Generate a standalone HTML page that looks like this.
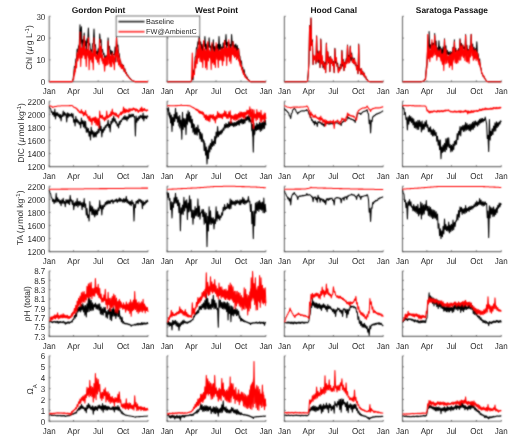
<!DOCTYPE html><html><head><meta charset="utf-8"><style>html,body{margin:0;padding:0;background:#fff;width:520px;height:440px;overflow:hidden}svg{display:block}text{font-family:"Liberation Sans",sans-serif;text-rendering:geometricPrecision}</style></head><body>
<svg width="520" height="440" viewBox="0 0 520 440">
<defs><filter id="bl" x="0" y="0" width="520" height="440" filterUnits="userSpaceOnUse"><feConvolveMatrix order="3" kernelMatrix="1 2 1 2 8 2 1 2 1" divisor="20" edgeMode="duplicate"/></filter></defs>
<rect width="520" height="440" fill="#fff"/><g filter="url(#bl)">
<path d="M49.20 16.30V81.70H148.00" fill="none" stroke="#707070" stroke-width="1.1"/>
<path d="M49.20 81.70h1.3M49.20 59.90h1.3M49.20 38.10h1.3M49.20 16.30h1.3M49.20 81.70v-1.3M73.56 81.70v-1.3M98.19 81.70v-1.3M123.10 81.70v-1.3M148.00 81.70v-1.3" stroke="#555" stroke-width="0.9"/>
<path d="M167.10 16.30V81.70H265.90" fill="none" stroke="#707070" stroke-width="1.1"/>
<path d="M167.10 81.70h1.3M167.10 59.90h1.3M167.10 38.10h1.3M167.10 16.30h1.3M167.10 81.70v-1.3M191.46 81.70v-1.3M216.09 81.70v-1.3M241.00 81.70v-1.3M265.90 81.70v-1.3" stroke="#555" stroke-width="0.9"/>
<path d="M284.40 16.30V81.70H383.20" fill="none" stroke="#707070" stroke-width="1.1"/>
<path d="M284.40 81.70h1.3M284.40 59.90h1.3M284.40 38.10h1.3M284.40 16.30h1.3M284.40 81.70v-1.3M308.76 81.70v-1.3M333.39 81.70v-1.3M358.30 81.70v-1.3M383.20 81.70v-1.3" stroke="#555" stroke-width="0.9"/>
<path d="M402.50 16.30V81.70H501.30" fill="none" stroke="#707070" stroke-width="1.1"/>
<path d="M402.50 81.70h1.3M402.50 59.90h1.3M402.50 38.10h1.3M402.50 16.30h1.3M402.50 81.70v-1.3M426.86 81.70v-1.3M451.49 81.70v-1.3M476.40 81.70v-1.3M501.30 81.70v-1.3" stroke="#555" stroke-width="0.9"/>
<path d="M49.20 101.20V166.60H148.00" fill="none" stroke="#707070" stroke-width="1.1"/>
<path d="M49.20 166.60h1.3M49.20 153.52h1.3M49.20 140.44h1.3M49.20 127.36h1.3M49.20 114.28h1.3M49.20 101.20h1.3M49.20 166.60v-1.3M73.56 166.60v-1.3M98.19 166.60v-1.3M123.10 166.60v-1.3M148.00 166.60v-1.3" stroke="#555" stroke-width="0.9"/>
<path d="M167.10 101.20V166.60H265.90" fill="none" stroke="#707070" stroke-width="1.1"/>
<path d="M167.10 166.60h1.3M167.10 153.52h1.3M167.10 140.44h1.3M167.10 127.36h1.3M167.10 114.28h1.3M167.10 101.20h1.3M167.10 166.60v-1.3M191.46 166.60v-1.3M216.09 166.60v-1.3M241.00 166.60v-1.3M265.90 166.60v-1.3" stroke="#555" stroke-width="0.9"/>
<path d="M284.40 101.20V166.60H383.20" fill="none" stroke="#707070" stroke-width="1.1"/>
<path d="M284.40 166.60h1.3M284.40 153.52h1.3M284.40 140.44h1.3M284.40 127.36h1.3M284.40 114.28h1.3M284.40 101.20h1.3M284.40 166.60v-1.3M308.76 166.60v-1.3M333.39 166.60v-1.3M358.30 166.60v-1.3M383.20 166.60v-1.3" stroke="#555" stroke-width="0.9"/>
<path d="M402.50 101.20V166.60H501.30" fill="none" stroke="#707070" stroke-width="1.1"/>
<path d="M402.50 166.60h1.3M402.50 153.52h1.3M402.50 140.44h1.3M402.50 127.36h1.3M402.50 114.28h1.3M402.50 101.20h1.3M402.50 166.60v-1.3M426.86 166.60v-1.3M451.49 166.60v-1.3M476.40 166.60v-1.3M501.30 166.60v-1.3" stroke="#555" stroke-width="0.9"/>
<path d="M49.20 186.20V251.60H148.00" fill="none" stroke="#707070" stroke-width="1.1"/>
<path d="M49.20 251.60h1.3M49.20 238.52h1.3M49.20 225.44h1.3M49.20 212.36h1.3M49.20 199.28h1.3M49.20 186.20h1.3M49.20 251.60v-1.3M73.56 251.60v-1.3M98.19 251.60v-1.3M123.10 251.60v-1.3M148.00 251.60v-1.3" stroke="#555" stroke-width="0.9"/>
<path d="M167.10 186.20V251.60H265.90" fill="none" stroke="#707070" stroke-width="1.1"/>
<path d="M167.10 251.60h1.3M167.10 238.52h1.3M167.10 225.44h1.3M167.10 212.36h1.3M167.10 199.28h1.3M167.10 186.20h1.3M167.10 251.60v-1.3M191.46 251.60v-1.3M216.09 251.60v-1.3M241.00 251.60v-1.3M265.90 251.60v-1.3" stroke="#555" stroke-width="0.9"/>
<path d="M284.40 186.20V251.60H383.20" fill="none" stroke="#707070" stroke-width="1.1"/>
<path d="M284.40 251.60h1.3M284.40 238.52h1.3M284.40 225.44h1.3M284.40 212.36h1.3M284.40 199.28h1.3M284.40 186.20h1.3M284.40 251.60v-1.3M308.76 251.60v-1.3M333.39 251.60v-1.3M358.30 251.60v-1.3M383.20 251.60v-1.3" stroke="#555" stroke-width="0.9"/>
<path d="M402.50 186.20V251.60H501.30" fill="none" stroke="#707070" stroke-width="1.1"/>
<path d="M402.50 251.60h1.3M402.50 238.52h1.3M402.50 225.44h1.3M402.50 212.36h1.3M402.50 199.28h1.3M402.50 186.20h1.3M402.50 251.60v-1.3M426.86 251.60v-1.3M451.49 251.60v-1.3M476.40 251.60v-1.3M501.30 251.60v-1.3" stroke="#555" stroke-width="0.9"/>
<path d="M49.20 271.00V336.40H148.00" fill="none" stroke="#707070" stroke-width="1.1"/>
<path d="M49.20 336.40h1.3M49.20 327.06h1.3M49.20 317.71h1.3M49.20 308.37h1.3M49.20 299.03h1.3M49.20 289.69h1.3M49.20 280.34h1.3M49.20 271.00h1.3M49.20 336.40v-1.3M73.56 336.40v-1.3M98.19 336.40v-1.3M123.10 336.40v-1.3M148.00 336.40v-1.3" stroke="#555" stroke-width="0.9"/>
<path d="M167.10 271.00V336.40H265.90" fill="none" stroke="#707070" stroke-width="1.1"/>
<path d="M167.10 336.40h1.3M167.10 327.06h1.3M167.10 317.71h1.3M167.10 308.37h1.3M167.10 299.03h1.3M167.10 289.69h1.3M167.10 280.34h1.3M167.10 271.00h1.3M167.10 336.40v-1.3M191.46 336.40v-1.3M216.09 336.40v-1.3M241.00 336.40v-1.3M265.90 336.40v-1.3" stroke="#555" stroke-width="0.9"/>
<path d="M284.40 271.00V336.40H383.20" fill="none" stroke="#707070" stroke-width="1.1"/>
<path d="M284.40 336.40h1.3M284.40 327.06h1.3M284.40 317.71h1.3M284.40 308.37h1.3M284.40 299.03h1.3M284.40 289.69h1.3M284.40 280.34h1.3M284.40 271.00h1.3M284.40 336.40v-1.3M308.76 336.40v-1.3M333.39 336.40v-1.3M358.30 336.40v-1.3M383.20 336.40v-1.3" stroke="#555" stroke-width="0.9"/>
<path d="M402.50 271.00V336.40H501.30" fill="none" stroke="#707070" stroke-width="1.1"/>
<path d="M402.50 336.40h1.3M402.50 327.06h1.3M402.50 317.71h1.3M402.50 308.37h1.3M402.50 299.03h1.3M402.50 289.69h1.3M402.50 280.34h1.3M402.50 271.00h1.3M402.50 336.40v-1.3M426.86 336.40v-1.3M451.49 336.40v-1.3M476.40 336.40v-1.3M501.30 336.40v-1.3" stroke="#555" stroke-width="0.9"/>
<path d="M49.20 355.90V421.30H148.00" fill="none" stroke="#707070" stroke-width="1.1"/>
<path d="M49.20 421.30h1.3M49.20 410.40h1.3M49.20 399.50h1.3M49.20 388.60h1.3M49.20 377.70h1.3M49.20 366.80h1.3M49.20 355.90h1.3M49.20 421.30v-1.3M73.56 421.30v-1.3M98.19 421.30v-1.3M123.10 421.30v-1.3M148.00 421.30v-1.3" stroke="#555" stroke-width="0.9"/>
<path d="M167.10 355.90V421.30H265.90" fill="none" stroke="#707070" stroke-width="1.1"/>
<path d="M167.10 421.30h1.3M167.10 410.40h1.3M167.10 399.50h1.3M167.10 388.60h1.3M167.10 377.70h1.3M167.10 366.80h1.3M167.10 355.90h1.3M167.10 421.30v-1.3M191.46 421.30v-1.3M216.09 421.30v-1.3M241.00 421.30v-1.3M265.90 421.30v-1.3" stroke="#555" stroke-width="0.9"/>
<path d="M284.40 355.90V421.30H383.20" fill="none" stroke="#707070" stroke-width="1.1"/>
<path d="M284.40 421.30h1.3M284.40 410.40h1.3M284.40 399.50h1.3M284.40 388.60h1.3M284.40 377.70h1.3M284.40 366.80h1.3M284.40 355.90h1.3M284.40 421.30v-1.3M308.76 421.30v-1.3M333.39 421.30v-1.3M358.30 421.30v-1.3M383.20 421.30v-1.3" stroke="#555" stroke-width="0.9"/>
<path d="M402.50 355.90V421.30H501.30" fill="none" stroke="#707070" stroke-width="1.1"/>
<path d="M402.50 421.30h1.3M402.50 410.40h1.3M402.50 399.50h1.3M402.50 388.60h1.3M402.50 377.70h1.3M402.50 366.80h1.3M402.50 355.90h1.3M402.50 421.30v-1.3M426.86 421.30v-1.3M451.49 421.30v-1.3M476.40 421.30v-1.3M501.30 421.30v-1.3" stroke="#555" stroke-width="0.9"/>
<path d="M49.2 81.6L49.9 81.6L50.6 81.6L51.3 81.6L52.0 81.6L52.7 81.6L53.4 81.6L54.1 81.6L54.8 81.6L55.5 81.6L56.2 81.6L56.9 81.6L57.6 81.6L58.3 81.6L59.0 81.6L59.7 81.6L60.4 81.6L61.1 81.6L61.8 81.6L62.5 81.6L63.2 81.6L63.9 81.6L64.6 81.6L65.3 81.6L66.0 81.6L66.7 81.6L67.4 81.6L68.1 81.6L68.8 81.6L69.5 81.6L70.2 81.6L70.9 81.6L71.6 81.6L72.3 81.6L73.0 79.5L73.7 74.4L74.4 66.6L75.1 66.7L75.8 59.0L76.5 58.8L77.2 49.1L77.9 52.0L78.6 46.1L79.3 44.1L80.0 24.8L80.7 43.4L81.4 26.7L82.1 49.0L82.8 39.7L83.5 43.5L84.2 33.1L84.9 45.7L85.6 40.9L86.3 52.2L87.0 38.9L87.7 42.6L88.4 28.0L89.1 45.0L89.8 43.6L90.5 50.8L91.2 49.7L91.9 57.0L92.6 43.7L93.3 43.3L94.0 29.1L94.7 45.9L95.4 44.6L96.1 53.6L96.8 51.3L97.5 58.5L98.2 48.7L99.0 53.1L99.7 33.9L100.4 42.5L101.1 39.7L101.8 52.1L102.5 49.4L103.2 54.5L103.9 53.2L104.6 58.9L105.3 55.9L106.0 61.7L106.7 55.6L107.4 54.8L108.1 37.9L108.8 49.1L109.5 46.2L110.2 54.4L110.9 50.2L111.6 55.3L112.3 51.2L113.0 55.2L113.7 54.6L114.4 55.0L115.1 46.9L115.8 61.7L116.5 36.3L117.2 46.9L117.9 45.1L118.6 53.0L119.3 53.9L120.0 62.3L120.7 61.0L121.4 67.4L122.1 64.3L122.8 68.3L123.5 65.2L124.2 71.6L124.9 68.8L125.6 73.1L126.3 72.3L127.0 75.0L127.7 75.1L128.4 76.5L129.1 77.2L129.8 78.2L130.5 78.9L131.2 79.6L131.9 80.2L132.6 80.6L133.3 81.0L134.0 81.3L134.7 81.6L135.4 81.6L136.1 81.6L136.8 81.6L137.5 81.6L138.2 81.6L138.9 81.6L139.6 81.6L140.3 81.6L141.0 81.6L141.7 81.6L142.4 81.6L143.1 81.6L143.8 81.6L144.5 81.6L145.2 81.6L145.9 81.6L146.6 81.6L147.3 81.6L148.0 81.6" fill="none" stroke="#000" stroke-width="1.05" stroke-linejoin="round"/>
<path d="M49.2 81.6 L49.8 81.6 L50.4 81.6 L51.0 81.6 L51.6 81.6 L52.2 81.6 L52.8 81.6 L53.4 81.6 L54.0 81.6 L54.6 81.6 L55.2 81.6 L55.8 81.6 L56.4 81.6 L57.0 81.6 L57.6 81.6 L58.2 81.6 L58.8 81.6 L59.4 81.6 L60.0 81.6 L60.6 81.6 L61.2 81.6 L61.9 81.6 L62.5 81.6 L63.1 81.6 L63.7 81.6 L64.3 81.6 L64.9 81.6 L65.5 81.6 L66.1 81.6 L66.7 81.6 L67.3 81.6 L67.9 81.6 L68.5 81.6 L69.1 81.6 L69.7 81.6 L70.3 81.6 L70.9 81.6 L71.5 81.6 L72.1 81.6 L72.7 81.6 L73.3 77.6 L73.9 72.8 L74.5 70.0 L75.1 67.9 L75.7 65.8 L76.3 62.5 L76.9 55.1 L77.5 54.9 L78.1 51.1 L78.7 47.9 L79.3 43.8 L79.9 39.4 L80.5 47.9 L81.1 48.6 L81.7 49.5 L82.3 46.5 L82.9 46.2 L83.5 42.0 L84.1 44.5 L84.7 45.7 L85.3 49.4 L85.9 47.8 L86.6 50.7 L87.2 49.9 L87.8 49.7 L88.4 46.3 L89.0 51.4 L89.6 49.7 L90.2 50.5 L90.8 50.1 L91.4 51.5 L92.0 53.0 L92.6 53.8 L93.2 50.4 L93.8 50.5 L94.4 47.2 L95.0 50.3 L95.6 52.0 L96.2 53.9 L96.8 55.2 L97.4 54.7 L98.0 56.1 L98.6 53.0 L99.2 50.6 L99.8 52.0 L100.4 48.4 L101.0 49.4 L101.6 51.1 L102.2 54.9 L102.8 56.7 L103.4 59.0 L104.0 57.8 L104.6 57.2 L105.2 57.6 L105.8 57.1 L106.4 57.0 L107.0 55.4 L107.6 51.7 L108.2 49.1 L108.8 47.0 L109.4 53.8 L110.0 53.4 L110.6 56.1 L111.3 54.4 L111.9 55.8 L112.5 58.7 L113.1 58.9 L113.7 56.3 L114.3 59.7 L114.9 58.2 L115.5 53.2 L116.1 50.4 L116.7 48.3 L117.3 45.8 L117.9 49.9 L118.5 54.2 L119.1 55.6 L119.7 57.7 L120.3 58.6 L120.9 61.2 L121.5 63.7 L122.1 63.8 L122.7 65.8 L123.3 66.4 L123.9 68.5 L124.5 69.8 L125.1 71.3 L125.7 72.4 L126.3 73.9 L126.9 74.8 L127.5 75.6 L128.1 76.5 L128.7 77.2 L129.3 78.0 L129.9 78.7 L130.5 79.2 L131.1 79.6 L131.7 80.0 L132.3 80.4 L132.9 80.8 L133.5 81.1 L134.1 81.3 L134.7 81.6 L135.3 81.6 L136.0 81.6 L136.6 81.6 L137.2 81.6 L137.8 81.6 L138.4 81.6 L139.0 81.6 L139.6 81.6 L140.2 81.6 L140.8 81.6 L141.4 81.6 L142.0 81.6 L142.6 81.6 L143.2 81.6 L143.8 81.6 L144.4 81.6 L145.0 81.6 L145.6 81.6 L146.2 81.6 L146.8 81.6 L147.4 81.6 L148.0 81.6 L148.0 81.6 L147.4 81.6 L146.8 81.6 L146.2 81.6 L145.6 81.6 L145.0 81.6 L144.4 81.6 L143.8 81.6 L143.2 81.6 L142.6 81.6 L142.0 81.6 L141.4 81.6 L140.8 81.6 L140.2 81.6 L139.6 81.6 L139.0 81.6 L138.4 81.6 L137.8 81.6 L137.2 81.6 L136.6 81.6 L136.0 81.6 L135.3 81.6 L134.7 81.6 L134.1 81.3 L133.5 81.1 L132.9 80.8 L132.3 80.4 L131.7 80.0 L131.1 79.6 L130.5 79.2 L129.9 78.7 L129.3 78.0 L128.7 77.4 L128.1 76.6 L127.5 76.0 L126.9 75.2 L126.3 74.3 L125.7 73.6 L125.1 73.1 L124.5 71.9 L123.9 70.4 L123.3 70.1 L122.7 68.1 L122.1 67.9 L121.5 66.9 L120.9 64.5 L120.3 63.4 L119.7 62.6 L119.1 60.2 L118.5 58.6 L117.9 57.0 L117.3 58.1 L116.7 56.1 L116.1 55.1 L115.5 58.4 L114.9 64.5 L114.3 64.4 L113.7 63.4 L113.1 65.3 L112.5 61.8 L111.9 62.9 L111.3 63.4 L110.6 63.3 L110.0 60.8 L109.4 61.7 L108.8 59.5 L108.2 59.1 L107.6 59.4 L107.0 61.0 L106.4 60.8 L105.8 63.9 L105.2 65.8 L104.6 67.2 L104.0 66.3 L103.4 62.1 L102.8 64.5 L102.2 61.0 L101.6 61.7 L101.0 58.2 L100.4 57.6 L99.8 59.3 L99.2 58.5 L98.6 61.2 L98.0 62.5 L97.4 63.1 L96.8 59.7 L96.2 59.2 L95.6 59.3 L95.0 55.6 L94.4 53.7 L93.8 56.2 L93.2 57.9 L92.6 63.9 L92.0 61.2 L91.4 56.1 L90.8 56.0 L90.2 61.4 L89.6 61.3 L89.0 58.6 L88.4 58.2 L87.8 57.8 L87.2 54.7 L86.6 58.7 L85.9 57.2 L85.3 57.2 L84.7 57.2 L84.1 54.9 L83.5 53.7 L82.9 57.5 L82.3 54.4 L81.7 55.7 L81.1 57.2 L80.5 59.1 L79.9 54.2 L79.3 54.3 L78.7 54.8 L78.1 59.8 L77.5 58.7 L76.9 64.1 L76.3 65.5 L75.7 71.5 L75.1 74.6 L74.5 75.7 L73.9 77.6 L73.3 79.1 L72.7 81.6 L72.1 81.6 L71.5 81.6 L70.9 81.6 L70.3 81.6 L69.7 81.6 L69.1 81.6 L68.5 81.6 L67.9 81.6 L67.3 81.6 L66.7 81.6 L66.1 81.6 L65.5 81.6 L64.9 81.6 L64.3 81.6 L63.7 81.6 L63.1 81.6 L62.5 81.6 L61.9 81.6 L61.2 81.6 L60.6 81.6 L60.0 81.6 L59.4 81.6 L58.8 81.6 L58.2 81.6 L57.6 81.6 L57.0 81.6 L56.4 81.6 L55.8 81.6 L55.2 81.6 L54.6 81.6 L54.0 81.6 L53.4 81.6 L52.8 81.6 L52.2 81.6 L51.6 81.6 L51.0 81.6 L50.4 81.6 L49.8 81.6 L49.2 81.6Z" fill="#ff0000"/>
<path d="M49.2 81.6L49.9 81.6L50.6 81.6L51.3 81.6L52.0 81.6L52.7 81.6L53.4 81.6L54.1 81.6L54.8 81.6L55.5 81.6L56.2 81.6L56.9 81.6L57.6 81.6L58.3 81.6L59.0 81.6L59.7 81.6L60.4 81.6L61.1 81.6L61.8 81.6L62.5 81.6L63.2 81.6L63.9 81.6L64.6 81.6L65.3 81.6L66.0 81.6L66.7 81.6L67.4 81.6L68.1 81.6L68.8 81.6L69.5 81.6L70.2 81.6L70.9 81.6L71.6 81.6L72.3 81.6L73.0 79.2L73.7 79.1L74.4 69.5L75.1 71.5L75.8 62.9L76.5 67.9L77.2 52.8L77.9 60.9L78.6 51.5L79.3 58.2L80.0 32.3L80.7 66.5L81.4 47.9L82.1 57.9L82.8 48.8L83.5 55.1L84.2 36.3L84.9 58.7L85.6 51.1L86.3 66.5L87.0 49.4L87.7 55.1L88.4 37.9L89.1 69.7L89.8 51.3L90.5 59.4L91.2 51.9L91.9 62.1L92.6 53.2L93.3 69.7L94.0 37.9L94.7 56.2L95.4 49.4L96.1 59.3L96.8 55.4L97.5 62.0L98.2 52.7L99.0 64.5L99.7 39.5L100.4 56.3L101.1 46.3L101.8 58.6L102.5 54.9L103.2 63.5L103.9 60.2L104.6 71.3L105.3 60.8L106.0 65.7L106.7 60.5L107.4 65.0L108.1 41.0L108.8 64.0L109.5 54.6L110.2 66.8L110.9 57.2L111.6 66.7L112.3 53.1L113.0 60.4L113.7 55.8L114.4 69.7L115.1 53.0L115.8 57.1L116.5 37.9L117.2 61.9L117.9 51.1L118.6 64.9L119.3 60.8L120.0 66.7L120.7 64.3L121.4 68.6L122.1 64.5L122.8 68.9L123.5 66.2L124.2 71.1L124.9 69.7L125.6 73.2L126.3 73.6L127.0 75.4L127.7 75.8L128.4 76.9L129.1 77.7L129.8 78.5L130.5 79.1L131.2 79.6L131.9 80.1L132.6 80.5L133.3 81.0L134.0 81.3L134.7 81.6L135.4 81.6L136.1 81.6L136.8 81.6L137.5 81.6L138.2 81.6L138.9 81.6L139.6 81.6L140.3 81.6L141.0 81.6L141.7 81.6L142.4 81.6L143.1 81.6L143.8 81.6L144.5 81.6L145.2 81.6L145.9 81.6L146.6 81.6L147.3 81.6L148.0 81.6" fill="none" stroke="#ff0000" stroke-width="1.05" stroke-linejoin="round"/>
<path d="M167.1 81.7L167.8 81.7L168.5 81.7L169.2 81.7L169.9 81.7L170.6 81.7L171.3 81.7L172.0 81.7L172.7 81.7L173.4 81.7L174.1 81.7L174.8 81.7L175.5 81.7L176.2 81.7L176.9 81.7L177.6 81.7L178.3 81.7L179.0 81.7L179.7 81.7L180.4 81.7L181.1 81.7L181.8 81.7L182.5 81.7L183.2 81.7L183.9 81.7L184.6 81.7L185.3 81.7L186.0 81.7L186.7 81.7L187.4 81.7L188.1 81.7L188.8 81.7L189.5 81.7L190.2 81.7L190.9 81.7L191.6 80.9L192.3 75.7L193.0 80.0L193.7 70.2L194.4 69.6L195.1 57.1L195.8 56.2L196.5 47.7L197.2 48.5L197.9 41.8L198.6 44.3L199.3 34.6L200.0 44.9L200.7 41.9L201.4 49.4L202.1 44.3L202.8 53.1L203.5 44.9L204.2 46.6L204.9 36.6L205.6 49.2L206.3 44.0L207.0 53.1L207.7 45.7L208.4 47.6L209.1 37.7L209.8 47.5L210.5 46.0L211.2 53.1L211.9 44.5L212.6 50.6L213.3 39.7L214.0 52.5L214.7 46.6L215.4 55.2L216.1 45.8L216.9 50.1L217.6 44.2L218.3 53.1L219.0 36.6L219.7 49.9L220.4 44.6L221.1 50.3L221.8 47.0L222.5 50.6L223.2 42.8L223.9 47.9L224.6 40.3L225.3 44.8L226.0 34.6L226.7 51.0L227.4 42.0L228.1 45.6L228.8 42.1L229.5 46.9L230.2 44.6L230.9 51.0L231.6 34.6L232.3 46.2L233.0 41.4L233.7 48.7L234.4 44.9L235.1 48.8L235.8 44.1L236.5 51.8L237.2 45.5L237.9 50.8L238.6 48.6L239.3 55.2L240.0 56.5L240.7 63.2L241.4 60.9L242.1 68.6L242.8 67.5L243.5 73.7L244.2 69.7L244.9 75.4L245.6 74.9L246.3 77.7L247.0 77.0L247.7 79.1L248.4 79.6L249.1 80.4L249.8 81.1L250.5 81.7L251.2 81.7L251.9 81.7L252.6 81.7L253.3 81.7L254.0 81.7L254.7 81.7L255.4 81.7L256.1 81.7L256.8 81.7L257.5 81.7L258.2 81.7L258.9 81.7L259.6 81.7L260.3 81.7L261.0 81.7L261.7 81.7L262.4 81.7L263.1 81.7L263.8 81.7L264.5 81.7L265.2 81.7L265.9 81.7" fill="none" stroke="#000" stroke-width="1.05" stroke-linejoin="round"/>
<path d="M167.1 81.7 L167.7 81.7 L168.3 81.7 L168.9 81.7 L169.5 81.7 L170.1 81.7 L170.7 81.7 L171.3 81.7 L171.9 81.7 L172.5 81.7 L173.1 81.7 L173.7 81.7 L174.3 81.7 L174.9 81.7 L175.5 81.7 L176.1 81.7 L176.7 81.7 L177.3 81.7 L177.9 81.7 L178.5 81.7 L179.1 81.7 L179.8 81.7 L180.4 81.7 L181.0 81.7 L181.6 81.7 L182.2 81.7 L182.8 81.7 L183.4 81.7 L184.0 81.7 L184.6 81.7 L185.2 81.7 L185.8 81.7 L186.4 81.7 L187.0 81.7 L187.6 81.7 L188.2 81.7 L188.8 81.7 L189.4 81.7 L190.0 81.7 L190.6 81.7 L191.2 81.7 L191.8 78.9 L192.4 60.9 L193.0 74.1 L193.6 72.4 L194.2 67.9 L194.8 63.2 L195.4 58.6 L196.0 55.8 L196.6 51.1 L197.2 49.1 L197.8 49.0 L198.4 48.0 L199.0 45.2 L199.6 45.1 L200.2 43.3 L200.8 46.3 L201.4 48.1 L202.0 50.3 L202.6 50.5 L203.2 50.7 L203.8 45.6 L204.5 49.7 L205.1 47.3 L205.7 50.8 L206.3 48.9 L206.9 50.8 L207.5 47.2 L208.1 46.7 L208.7 47.5 L209.3 51.1 L209.9 48.9 L210.5 51.6 L211.1 51.1 L211.7 50.9 L212.3 47.5 L212.9 49.7 L213.5 50.4 L214.1 51.9 L214.7 50.8 L215.3 50.6 L215.9 49.3 L216.5 48.2 L217.1 49.1 L217.7 47.7 L218.3 50.3 L218.9 51.2 L219.5 49.4 L220.1 51.2 L220.7 49.5 L221.3 47.0 L221.9 49.6 L222.5 48.0 L223.1 48.2 L223.7 49.0 L224.3 47.5 L224.9 45.8 L225.5 46.6 L226.1 48.0 L226.7 47.4 L227.3 47.5 L227.9 48.2 L228.5 47.2 L229.2 45.8 L229.8 46.6 L230.4 48.1 L231.0 47.5 L231.6 47.0 L232.2 47.9 L232.8 45.3 L233.4 48.9 L234.0 46.7 L234.6 47.4 L235.2 51.3 L235.8 50.8 L236.4 52.1 L237.0 51.6 L237.6 52.6 L238.2 53.5 L238.8 54.6 L239.4 58.3 L240.0 60.5 L240.6 64.1 L241.2 65.9 L241.8 68.2 L242.4 69.8 L243.0 71.0 L243.6 72.4 L244.2 74.0 L244.8 74.8 L245.4 75.9 L246.0 77.3 L246.6 78.2 L247.2 78.8 L247.8 79.6 L248.4 80.3 L249.0 80.7 L249.6 81.1 L250.2 81.6 L250.8 81.7 L251.4 81.7 L252.0 81.7 L252.6 81.7 L253.2 81.7 L253.9 81.7 L254.5 81.7 L255.1 81.7 L255.7 81.7 L256.3 81.7 L256.9 81.7 L257.5 81.7 L258.1 81.7 L258.7 81.7 L259.3 81.7 L259.9 81.7 L260.5 81.7 L261.1 81.7 L261.7 81.7 L262.3 81.7 L262.9 81.7 L263.5 81.7 L264.1 81.7 L264.7 81.7 L265.3 81.7 L265.9 81.7 L265.9 81.7 L265.3 81.7 L264.7 81.7 L264.1 81.7 L263.5 81.7 L262.9 81.7 L262.3 81.7 L261.7 81.7 L261.1 81.7 L260.5 81.7 L259.9 81.7 L259.3 81.7 L258.7 81.7 L258.1 81.7 L257.5 81.7 L256.9 81.7 L256.3 81.7 L255.7 81.7 L255.1 81.7 L254.5 81.7 L253.9 81.7 L253.2 81.7 L252.6 81.7 L252.0 81.7 L251.4 81.7 L250.8 81.7 L250.2 81.6 L249.6 81.1 L249.0 80.7 L248.4 80.3 L247.8 79.8 L247.2 79.4 L246.6 78.8 L246.0 78.1 L245.4 77.8 L244.8 76.5 L244.2 75.2 L243.6 74.6 L243.0 73.4 L242.4 72.3 L241.8 70.1 L241.2 69.2 L240.6 66.6 L240.0 66.8 L239.4 64.8 L238.8 61.6 L238.2 61.3 L237.6 58.8 L237.0 57.7 L236.4 57.6 L235.8 56.7 L235.2 57.2 L234.6 58.4 L234.0 57.3 L233.4 55.5 L232.8 54.4 L232.2 54.6 L231.6 56.1 L231.0 57.8 L230.4 55.0 L229.8 53.4 L229.2 56.1 L228.5 55.7 L227.9 57.4 L227.3 57.1 L226.7 58.7 L226.1 56.0 L225.5 56.4 L224.9 53.6 L224.3 55.0 L223.7 59.0 L223.1 57.8 L222.5 55.9 L221.9 55.9 L221.3 57.2 L220.7 56.8 L220.1 60.1 L219.5 59.4 L218.9 58.2 L218.3 59.8 L217.7 57.4 L217.1 56.3 L216.5 57.0 L215.9 59.9 L215.3 61.5 L214.7 62.3 L214.1 61.8 L213.5 58.0 L212.9 57.9 L212.3 57.6 L211.7 57.8 L211.1 58.5 L210.5 60.1 L209.9 58.6 L209.3 57.7 L208.7 59.5 L208.1 55.8 L207.5 60.6 L206.9 61.7 L206.3 59.3 L205.7 63.6 L205.1 57.8 L204.5 56.8 L203.8 56.4 L203.2 57.1 L202.6 60.5 L202.0 59.7 L201.4 59.1 L200.8 59.0 L200.2 55.0 L199.6 57.9 L199.0 58.1 L198.4 58.6 L197.8 59.1 L197.2 62.1 L196.6 63.1 L196.0 62.6 L195.4 66.6 L194.8 68.7 L194.2 72.8 L193.6 75.3 L193.0 77.2 L192.4 75.1 L191.8 80.1 L191.2 81.7 L190.6 81.7 L190.0 81.7 L189.4 81.7 L188.8 81.7 L188.2 81.7 L187.6 81.7 L187.0 81.7 L186.4 81.7 L185.8 81.7 L185.2 81.7 L184.6 81.7 L184.0 81.7 L183.4 81.7 L182.8 81.7 L182.2 81.7 L181.6 81.7 L181.0 81.7 L180.4 81.7 L179.8 81.7 L179.1 81.7 L178.5 81.7 L177.9 81.7 L177.3 81.7 L176.7 81.7 L176.1 81.7 L175.5 81.7 L174.9 81.7 L174.3 81.7 L173.7 81.7 L173.1 81.7 L172.5 81.7 L171.9 81.7 L171.3 81.7 L170.7 81.7 L170.1 81.7 L169.5 81.7 L168.9 81.7 L168.3 81.7 L167.7 81.7 L167.1 81.7Z" fill="#ff0000"/>
<path d="M167.1 81.7L167.8 81.7L168.5 81.7L169.2 81.7L169.9 81.7L170.6 81.7L171.3 81.7L172.0 81.7L172.7 81.7L173.4 81.7L174.1 81.7L174.8 81.7L175.5 81.7L176.2 81.7L176.9 81.7L177.6 81.7L178.3 81.7L179.0 81.7L179.7 81.7L180.4 81.7L181.1 81.7L181.8 81.7L182.5 81.7L183.2 81.7L183.9 81.7L184.6 81.7L185.3 81.7L186.0 81.7L186.7 81.7L187.4 81.7L188.1 81.7L188.8 81.7L189.5 81.7L190.2 81.7L190.9 81.7L191.6 80.4L192.3 53.1L193.0 78.0L193.7 73.3L194.4 74.6L195.1 61.6L195.8 67.9L196.5 55.8L197.2 63.6L197.9 49.8L198.6 54.3L199.3 38.7L200.0 61.4L200.7 49.4L201.4 61.9L202.1 54.9L202.8 67.5L203.5 40.8L204.2 60.1L204.9 51.3L205.6 67.7L206.3 53.1L207.0 69.6L207.7 41.8L208.4 61.0L209.1 51.8L209.8 55.3L210.5 54.7L211.2 69.6L211.9 42.8L212.6 62.9L213.3 55.6L214.0 64.6L214.7 55.0L215.4 67.5L216.1 42.8L216.9 59.2L217.6 53.5L218.3 67.5L219.0 51.1L219.7 60.2L220.4 50.8L221.1 60.2L221.8 53.6L222.5 65.4L223.2 53.6L223.9 61.0L224.6 40.8L225.3 56.1L226.0 49.3L226.7 65.4L227.4 49.0L228.1 57.0L228.8 39.7L229.5 61.2L230.2 51.5L230.9 63.4L231.6 51.9L232.3 54.4L233.0 41.8L233.7 55.1L234.4 50.9L235.1 54.7L235.8 47.8L236.5 59.8L237.2 50.3L237.9 58.2L238.6 49.4L239.3 59.3L240.0 60.2L240.7 65.3L241.4 65.4L242.1 70.2L242.8 69.8L243.5 74.6L244.2 73.4L244.9 76.9L245.6 76.4L246.3 78.4L247.0 78.6L247.7 79.6L248.4 80.3L249.1 80.8L249.8 81.2L250.5 81.7L251.2 81.7L251.9 81.7L252.6 81.7L253.3 81.7L254.0 81.7L254.7 81.7L255.4 81.7L256.1 81.7L256.8 81.7L257.5 81.7L258.2 81.7L258.9 81.7L259.6 81.7L260.3 81.7L261.0 81.7L261.7 81.7L262.4 81.7L263.1 81.7L263.8 81.7L264.5 81.7L265.2 81.7L265.9 81.7" fill="none" stroke="#ff0000" stroke-width="1.05" stroke-linejoin="round"/>
<path d="M284.4 81.7L285.1 81.7L285.8 81.7L286.5 81.7L287.2 81.7L287.9 81.7L288.6 81.7L289.3 81.7L290.0 81.7L290.7 81.7L291.4 81.7L292.1 81.7L292.8 81.7L293.5 81.7L294.2 81.7L294.9 81.7L295.6 81.7L296.3 81.7L297.0 81.7L297.7 81.7L298.4 81.7L299.1 81.7L299.8 81.7L300.5 81.7L301.2 81.7L301.9 81.7L302.6 81.7L303.3 81.7L304.0 81.7L304.7 81.7L305.4 81.7L306.1 81.7L306.8 81.7L307.5 81.0L308.2 73.9L308.9 63.3L309.6 25.5L310.3 50.2L311.0 17.7L311.7 45.1L312.4 39.7L313.1 64.4L313.8 56.0L314.5 59.7L315.2 56.0L315.9 63.9L316.6 35.8L317.3 61.9L318.0 50.9L318.7 62.8L319.4 51.6L320.1 67.5L320.8 38.9L321.5 61.1L322.2 57.7L322.9 67.6L323.6 61.4L324.3 68.9L325.0 62.3L325.7 72.6L326.4 43.0L327.1 60.8L327.8 51.8L328.5 63.0L329.2 56.9L329.9 71.6L330.6 56.5L331.3 63.4L332.0 59.5L332.7 65.3L333.4 61.2L334.2 72.6L334.9 48.2L335.6 63.2L336.3 58.8L337.0 66.3L337.7 63.2L338.4 72.6L339.1 67.6L339.8 69.5L340.5 64.4L341.2 68.3L341.9 50.2L342.6 66.3L343.3 59.2L344.0 70.6L344.7 62.1L345.4 66.0L346.1 58.8L346.8 62.8L347.5 45.1L348.2 61.4L348.9 55.4L349.6 62.8L350.3 46.1L351.0 60.7L351.7 53.1L352.4 61.7L353.1 57.9L353.8 63.6L354.5 58.3L355.2 65.3L355.9 63.9L356.6 68.7L357.3 65.6L358.0 73.7L358.7 44.0L359.4 70.1L360.1 68.6L360.8 74.1L361.5 69.0L362.2 74.6L362.9 71.5L363.6 76.0L364.3 73.0L365.0 77.3L365.7 76.7L366.4 79.6L367.1 79.3L367.8 80.7L368.5 81.5L369.2 81.6L369.9 81.7L370.6 81.7L371.3 81.7L372.0 81.7L372.7 81.7L373.4 81.7L374.1 81.7L374.8 81.7L375.5 81.7L376.2 81.7L376.9 81.7L377.6 81.7L378.3 81.7L379.0 81.7L379.7 81.7L380.4 81.7L381.1 81.7L381.8 81.7L382.5 81.7L383.2 81.7" fill="none" stroke="#000" stroke-width="1.05" stroke-linejoin="round"/>
<path d="M284.4 81.7L285.1 81.7L285.8 81.7L286.5 81.7L287.2 81.7L287.9 81.7L288.6 81.7L289.3 81.7L290.0 81.7L290.7 81.7L291.4 81.7L292.1 81.7L292.8 81.7L293.5 81.7L294.2 81.7L294.9 81.7L295.6 81.7L296.3 81.7L297.0 81.7L297.7 81.7L298.4 81.7L299.1 81.7L299.8 81.7L300.5 81.7L301.2 81.7L301.9 81.7L302.6 81.7L303.3 81.7L304.0 81.7L304.7 81.7L305.4 81.7L306.1 81.7L306.8 81.7L307.5 81.1L308.2 75.5L308.9 61.8L309.6 26.3L310.3 50.4L311.0 18.5L311.7 45.8L312.4 42.0L313.1 64.4L313.8 55.1L314.5 59.8L315.2 56.1L315.9 63.2L316.6 36.6L317.3 61.6L318.0 53.4L318.7 59.8L319.4 50.9L320.1 67.5L320.8 39.7L321.5 64.0L322.2 55.6L322.9 65.5L323.6 61.7L324.3 69.2L325.0 63.9L325.7 72.6L326.4 43.8L327.1 64.5L327.8 51.9L328.5 61.8L329.2 58.0L329.9 71.6L330.6 57.0L331.3 63.1L332.0 58.9L332.7 65.6L333.4 62.6L334.2 72.6L334.9 49.0L335.6 61.0L336.3 57.4L337.0 66.1L337.7 65.0L338.4 72.6L339.1 68.4L339.8 70.9L340.5 66.0L341.2 68.2L341.9 51.0L342.6 64.1L343.3 61.4L344.0 70.6L344.7 62.6L345.4 67.5L346.1 60.0L346.8 63.7L347.5 45.9L348.2 63.2L348.9 56.9L349.6 62.6L350.3 46.9L351.0 56.8L351.7 55.0L352.4 62.6L353.1 59.3L353.8 63.6L354.5 59.0L355.2 64.8L355.9 62.3L356.6 70.0L357.3 66.2L358.0 73.7L358.7 44.9L359.4 70.6L360.1 70.2L360.8 74.5L361.5 68.5L362.2 74.0L362.9 72.2L363.6 75.7L364.3 73.5L365.0 77.2L365.7 76.4L366.4 79.7L367.1 79.7L367.8 80.7L368.5 81.5L369.2 81.6L369.9 81.7L370.6 81.7L371.3 81.7L372.0 81.7L372.7 81.7L373.4 81.7L374.1 81.7L374.8 81.7L375.5 81.7L376.2 81.7L376.9 81.7L377.6 81.7L378.3 81.7L379.0 81.7L379.7 81.7L380.4 81.7L381.1 81.7L381.8 81.7L382.5 81.7L383.2 81.7" fill="none" stroke="#ff0000" stroke-width="1.05" stroke-linejoin="round"/>
<path d="M402.5 81.7L403.2 81.7L403.9 81.7L404.6 81.7L405.3 81.7L406.0 81.7L406.7 81.7L407.4 81.7L408.1 81.7L408.8 81.7L409.5 81.7L410.2 81.7L410.9 81.7L411.6 81.7L412.3 81.7L413.0 81.7L413.7 81.7L414.4 81.7L415.1 81.7L415.8 81.7L416.5 81.7L417.2 81.7L417.9 81.7L418.6 81.7L419.3 81.7L420.0 81.7L420.7 81.7L421.4 81.7L422.1 81.5L422.8 81.3L423.5 81.0L424.2 81.0L424.9 79.8L425.6 77.4L426.3 67.7L427.0 63.9L427.7 47.0L428.4 53.7L429.1 31.5L429.8 49.3L430.5 44.7L431.2 48.7L431.9 42.5L432.6 46.5L433.3 43.2L434.0 50.5L434.7 33.5L435.4 46.2L436.1 41.1L436.8 51.1L437.5 47.8L438.2 51.7L438.9 40.8L439.6 52.2L440.3 46.8L441.0 55.8L441.7 48.5L442.4 58.2L443.1 46.9L443.8 55.1L444.5 38.7L445.2 53.0L445.9 45.8L446.6 55.5L447.3 50.3L448.0 54.5L448.7 52.1L449.4 59.3L450.1 51.6L450.8 57.2L451.5 52.0L452.3 55.3L453.0 47.3L453.7 52.4L454.4 39.7L455.1 52.1L455.8 48.2L456.5 54.1L457.2 50.7L457.9 53.9L458.6 48.6L459.3 53.6L460.0 38.7L460.7 49.6L461.4 43.3L462.1 48.0L462.8 45.3L463.5 48.7L464.2 47.0L464.9 50.2L465.6 34.6L466.3 50.8L467.0 45.3L467.7 51.3L468.4 49.5L469.1 53.1L469.8 45.8L470.5 48.9L471.2 34.2L471.9 49.1L472.6 44.0L473.3 51.7L474.0 47.2L474.7 52.7L475.4 48.7L476.1 52.2L476.8 41.8L477.5 55.7L478.2 53.8L478.9 61.5L479.6 58.9L480.3 66.6L481.0 68.0L481.7 73.4L482.4 74.1L483.1 76.0L483.8 76.3L484.5 78.2L485.2 78.9L485.9 80.2L486.6 81.3L487.3 81.6L488.0 81.7L488.7 81.7L489.4 81.7L490.1 81.7L490.8 81.7L491.5 81.7L492.2 81.7L492.9 81.7L493.6 81.7L494.3 81.7L495.0 81.7L495.7 81.7L496.4 81.7L497.1 81.7L497.8 81.7L498.5 81.7L499.2 81.7L499.9 81.7L500.6 81.7L501.3 81.7" fill="none" stroke="#000" stroke-width="1.05" stroke-linejoin="round"/>
<path d="M402.5 81.7 L403.1 81.7 L403.7 81.7 L404.3 81.7 L404.9 81.7 L405.5 81.7 L406.1 81.7 L406.7 81.7 L407.3 81.7 L407.9 81.7 L408.5 81.7 L409.1 81.7 L409.7 81.7 L410.3 81.7 L410.9 81.7 L411.5 81.7 L412.1 81.7 L412.7 81.7 L413.3 81.7 L413.9 81.7 L414.5 81.7 L415.2 81.7 L415.8 81.7 L416.4 81.7 L417.0 81.7 L417.6 81.7 L418.2 81.7 L418.8 81.7 L419.4 81.7 L420.0 81.7 L420.6 81.7 L421.2 81.7 L421.8 81.7 L422.4 81.4 L423.0 81.2 L423.6 80.9 L424.2 80.6 L424.8 80.2 L425.4 76.9 L426.0 70.4 L426.6 59.4 L427.2 47.2 L427.8 43.6 L428.4 47.6 L429.0 45.9 L429.6 49.2 L430.2 52.2 L430.8 46.7 L431.4 46.4 L432.0 45.6 L432.6 48.6 L433.2 44.9 L433.8 43.7 L434.4 42.7 L435.0 48.2 L435.6 48.4 L436.2 46.6 L436.8 48.9 L437.4 48.3 L438.0 51.7 L438.6 52.1 L439.2 50.8 L439.9 51.9 L440.5 54.8 L441.1 55.2 L441.7 53.4 L442.3 53.4 L442.9 53.8 L443.5 52.4 L444.1 49.8 L444.7 51.9 L445.3 49.2 L445.9 53.0 L446.5 55.7 L447.1 52.3 L447.7 55.9 L448.3 56.1 L448.9 55.9 L449.5 53.7 L450.1 55.0 L450.7 53.7 L451.3 53.6 L451.9 53.1 L452.5 51.9 L453.1 53.1 L453.7 51.2 L454.3 54.0 L454.9 49.0 L455.5 53.5 L456.1 50.0 L456.7 50.2 L457.3 49.3 L457.9 51.1 L458.5 50.1 L459.1 51.2 L459.7 49.6 L460.3 49.8 L460.9 50.6 L461.5 48.0 L462.1 48.4 L462.7 48.6 L463.3 49.0 L463.9 52.2 L464.6 48.9 L465.2 45.3 L465.8 44.8 L466.4 43.9 L467.0 49.3 L467.6 50.5 L468.2 50.0 L468.8 50.6 L469.4 48.0 L470.0 44.2 L470.6 48.2 L471.2 45.4 L471.8 44.3 L472.4 49.0 L473.0 50.1 L473.6 50.4 L474.2 52.4 L474.8 52.3 L475.4 50.4 L476.0 50.7 L476.6 51.9 L477.2 52.3 L477.8 53.1 L478.4 58.5 L479.0 59.1 L479.6 62.4 L480.2 62.9 L480.8 66.2 L481.4 69.5 L482.0 72.1 L482.6 73.6 L483.2 75.0 L483.8 75.6 L484.4 76.7 L485.0 78.4 L485.6 79.6 L486.2 80.9 L486.8 81.5 L487.4 81.7 L488.0 81.7 L488.6 81.7 L489.3 81.7 L489.9 81.7 L490.5 81.7 L491.1 81.7 L491.7 81.7 L492.3 81.7 L492.9 81.7 L493.5 81.7 L494.1 81.7 L494.7 81.7 L495.3 81.7 L495.9 81.7 L496.5 81.7 L497.1 81.7 L497.7 81.7 L498.3 81.7 L498.9 81.7 L499.5 81.7 L500.1 81.7 L500.7 81.7 L501.3 81.7 L501.3 81.7 L500.7 81.7 L500.1 81.7 L499.5 81.7 L498.9 81.7 L498.3 81.7 L497.7 81.7 L497.1 81.7 L496.5 81.7 L495.9 81.7 L495.3 81.7 L494.7 81.7 L494.1 81.7 L493.5 81.7 L492.9 81.7 L492.3 81.7 L491.7 81.7 L491.1 81.7 L490.5 81.7 L489.9 81.7 L489.3 81.7 L488.6 81.7 L488.0 81.7 L487.4 81.7 L486.8 81.5 L486.2 80.9 L485.6 79.9 L485.0 78.8 L484.4 77.8 L483.8 76.9 L483.2 76.0 L482.6 74.5 L482.0 73.7 L481.4 70.6 L480.8 69.0 L480.2 66.6 L479.6 66.1 L479.0 63.5 L478.4 62.0 L477.8 62.1 L477.2 59.2 L476.6 57.8 L476.0 56.7 L475.4 57.7 L474.8 57.8 L474.2 58.4 L473.6 56.4 L473.0 56.7 L472.4 56.1 L471.8 54.0 L471.2 50.8 L470.6 54.5 L470.0 54.1 L469.4 54.1 L468.8 56.6 L468.2 57.3 L467.6 58.3 L467.0 53.8 L466.4 57.3 L465.8 56.3 L465.2 54.6 L464.6 53.5 L463.9 58.5 L463.3 57.9 L462.7 56.8 L462.1 53.8 L461.5 57.1 L460.9 54.9 L460.3 53.8 L459.7 56.6 L459.1 56.5 L458.5 60.0 L457.9 57.9 L457.3 58.4 L456.7 60.7 L456.1 60.5 L455.5 57.8 L454.9 56.5 L454.3 60.5 L453.7 60.3 L453.1 63.1 L452.5 60.5 L451.9 61.5 L451.3 63.2 L450.7 62.7 L450.1 60.8 L449.5 60.2 L448.9 63.8 L448.3 63.0 L447.7 63.5 L447.1 59.5 L446.5 63.0 L445.9 57.8 L445.3 56.9 L444.7 62.4 L444.1 63.1 L443.5 61.3 L442.9 61.9 L442.3 60.2 L441.7 62.9 L441.1 57.5 L440.5 60.4 L439.9 57.5 L439.2 56.6 L438.6 56.2 L438.0 57.5 L437.4 55.8 L436.8 54.1 L436.2 56.2 L435.6 53.0 L435.0 55.5 L434.4 51.7 L433.8 53.9 L433.2 51.9 L432.6 54.4 L432.0 57.4 L431.4 56.8 L430.8 58.5 L430.2 57.0 L429.6 55.9 L429.0 58.2 L428.4 56.1 L427.8 57.7 L427.2 60.0 L426.6 67.1 L426.0 75.1 L425.4 79.2 L424.8 80.6 L424.2 80.9 L423.6 81.1 L423.0 81.2 L422.4 81.4 L421.8 81.7 L421.2 81.7 L420.6 81.7 L420.0 81.7 L419.4 81.7 L418.8 81.7 L418.2 81.7 L417.6 81.7 L417.0 81.7 L416.4 81.7 L415.8 81.7 L415.2 81.7 L414.5 81.7 L413.9 81.7 L413.3 81.7 L412.7 81.7 L412.1 81.7 L411.5 81.7 L410.9 81.7 L410.3 81.7 L409.7 81.7 L409.1 81.7 L408.5 81.7 L407.9 81.7 L407.3 81.7 L406.7 81.7 L406.1 81.7 L405.5 81.7 L404.9 81.7 L404.3 81.7 L403.7 81.7 L403.1 81.7 L402.5 81.7Z" fill="#ff0000"/>
<path d="M402.5 81.7L403.2 81.7L403.9 81.7L404.6 81.7L405.3 81.7L406.0 81.7L406.7 81.7L407.4 81.7L408.1 81.7L408.8 81.7L409.5 81.7L410.2 81.7L410.9 81.7L411.6 81.7L412.3 81.7L413.0 81.7L413.7 81.7L414.4 81.7L415.1 81.7L415.8 81.7L416.5 81.7L417.2 81.7L417.9 81.7L418.6 81.7L419.3 81.7L420.0 81.7L420.7 81.7L421.4 81.7L422.1 81.5L422.8 81.3L423.5 81.0L424.2 80.8L424.9 79.9L425.6 79.1L426.3 70.1L427.0 67.3L427.7 34.6L428.4 58.7L429.1 50.0L429.8 61.7L430.5 50.1L431.2 56.9L431.9 39.7L432.6 57.2L433.3 45.6L434.0 55.6L434.7 35.6L435.4 54.7L436.1 45.8L436.8 60.3L437.5 51.2L438.2 56.4L438.9 50.5L439.6 56.9L440.3 49.6L441.0 60.9L441.7 53.8L442.4 64.5L443.1 54.9L443.8 70.6L444.5 39.7L445.2 63.9L445.9 48.7L446.6 63.2L447.3 56.0L448.0 59.8L448.7 57.4L449.4 67.4L450.1 58.1L450.8 65.8L451.5 55.6L452.3 69.6L453.0 47.9L453.7 58.9L454.4 41.8L455.1 63.0L455.8 56.8L456.5 63.5L457.2 54.5L457.9 63.0L458.6 52.2L459.3 60.2L460.0 39.7L460.7 60.1L461.4 45.9L462.1 56.1L462.8 44.7L463.5 55.3L464.2 50.2L464.9 60.4L465.6 35.6L466.3 61.6L467.0 54.2L467.7 62.1L468.4 53.5L469.1 63.4L469.8 49.4L470.5 57.1L471.2 34.6L471.9 55.6L472.6 47.3L473.3 60.4L474.0 49.8L474.7 58.9L475.4 50.1L476.1 60.8L476.8 52.4L477.5 59.3L478.2 57.0L478.9 64.5L479.6 61.6L480.3 67.6L481.0 68.9L481.7 72.8L482.4 73.6L483.1 76.3L483.8 76.1L484.5 78.4L485.2 78.9L485.9 80.3L486.6 81.4L487.3 81.6L488.0 81.7L488.7 81.7L489.4 81.7L490.1 81.7L490.8 81.7L491.5 81.7L492.2 81.7L492.9 81.7L493.6 81.7L494.3 81.7L495.0 81.7L495.7 81.7L496.4 81.7L497.1 81.7L497.8 81.7L498.5 81.7L499.2 81.7L499.9 81.7L500.6 81.7L501.3 81.7" fill="none" stroke="#ff0000" stroke-width="1.05" stroke-linejoin="round"/>
<path d="M49.2 106.3L49.9 108.2L50.6 108.7L51.3 112.3L52.0 111.4L52.7 114.6L53.4 112.2L54.1 116.5L54.8 109.0L55.5 119.0L56.2 112.6L56.9 115.5L57.6 112.7L58.3 116.4L59.0 114.1L59.7 118.0L60.4 114.5L61.1 121.0L61.8 115.1L62.5 116.4L63.2 111.0L63.9 116.2L64.6 112.3L65.3 115.1L66.0 113.7L66.7 122.0L67.4 112.8L68.1 117.3L68.8 113.3L69.5 116.1L70.2 114.4L70.9 116.1L71.6 113.3L72.3 117.3L73.0 113.8L73.7 122.3L74.4 119.6L75.1 126.0L75.8 116.4L76.5 122.0L77.2 119.3L77.9 123.0L78.6 120.8L79.3 124.3L80.0 122.2L80.7 128.0L81.4 118.0L82.1 123.8L82.8 120.7L83.5 127.0L84.2 120.9L84.9 128.1L85.6 121.4L86.3 132.3L87.0 127.5L87.7 132.2L88.4 128.5L89.1 136.3L89.8 131.4L90.5 140.0L91.2 127.0L91.9 134.1L92.6 130.7L93.3 137.3L94.0 131.8L94.7 136.9L95.4 132.4L96.1 137.0L96.8 131.4L97.5 133.8L98.2 129.0L99.0 132.8L99.7 121.0L100.4 130.5L101.1 126.4L101.8 137.0L102.5 129.4L103.2 132.3L103.9 127.5L104.6 130.1L105.3 125.6L106.0 127.5L106.7 124.5L107.4 125.8L108.1 120.0L108.8 127.4L109.5 124.2L110.2 132.0L110.9 121.4L111.6 124.0L112.3 118.5L113.0 122.3L113.7 116.0L114.4 121.3L115.1 118.8L115.8 123.1L116.5 121.7L117.2 126.0L117.9 123.9L118.6 128.0L119.3 121.4L120.0 124.5L120.7 120.5L121.4 121.6L122.1 118.8L122.8 119.4L123.5 116.9L124.2 119.5L124.9 115.6L125.6 119.5L126.3 116.7L127.0 121.0L127.7 116.7L128.4 118.8L129.1 114.1L129.8 117.6L130.5 114.8L131.2 117.0L131.9 114.1L132.6 116.4L133.3 114.2L134.0 117.2L134.7 116.5L135.4 136.0L136.1 116.0L136.8 122.3L137.5 118.1L138.2 120.4L138.9 116.4L139.6 118.8L140.3 115.3L141.0 117.4L141.7 115.7L142.4 119.0L143.1 113.0L143.8 121.0L144.5 115.9L145.2 118.0L145.9 115.9L146.6 118.7L147.3 115.7L148.0 117.0" fill="none" stroke="#000" stroke-width="1.05" stroke-linejoin="round"/>
<path d="M49.2 105.5L49.9 105.8L50.6 106.1L51.3 106.3L52.0 106.6L52.7 107.5L53.4 106.9L54.1 106.8L54.8 106.6L55.5 106.5L56.2 106.4L56.9 106.2L57.6 106.1L58.3 106.0L59.0 105.9L59.7 105.9L60.4 105.9L61.1 105.8L61.8 105.8L62.5 105.7L63.2 105.7L63.9 105.7L64.6 105.7L65.3 105.7L66.0 105.7L66.7 105.7L67.4 105.7L68.1 105.7L68.8 105.7L69.5 105.6L70.2 105.6L70.9 105.6L71.6 105.5L72.3 105.8L73.0 106.3L73.7 107.2L74.4 107.3L75.1 108.0L75.8 107.6L76.5 109.1L77.2 108.8L77.9 110.9L78.6 110.1L79.3 112.6L80.0 111.7L80.7 113.1L81.4 109.5L82.1 113.5L82.8 111.5L83.5 115.8L84.2 112.4L84.9 115.0L85.6 110.5L86.3 115.7L87.0 114.4L87.7 118.1L88.4 116.4L89.1 121.0L89.8 116.1L90.5 121.4L91.2 118.4L91.9 125.0L92.6 118.0L93.3 120.7L94.0 117.3L94.7 122.6L95.4 116.9L96.1 125.1L96.8 117.8L97.5 125.5L98.2 118.5L99.0 128.0L99.7 111.0L100.4 117.7L101.1 115.2L101.8 118.3L102.5 115.3L103.2 119.3L103.9 117.6L104.6 121.0L105.3 116.7L106.0 119.7L106.7 111.0L107.4 118.3L108.1 115.7L108.8 117.6L109.5 114.3L110.2 116.5L110.9 111.8L111.6 115.6L112.3 109.0L113.0 114.4L113.7 112.6L114.4 115.0L115.1 112.7L115.8 116.0L116.5 113.4L117.2 116.7L117.9 115.2L118.6 118.0L119.3 114.0L120.0 115.0L120.7 112.0L121.4 114.8L122.1 111.6L122.8 113.4L123.5 107.0L124.2 113.1L124.9 108.5L125.6 112.7L126.3 109.3L127.0 112.1L127.7 109.9L128.4 112.2L129.1 108.4L129.8 111.8L130.5 108.9L131.2 110.4L131.9 108.8L132.6 110.3L133.3 107.9L134.0 109.6L134.7 108.5L135.4 111.2L136.1 108.7L136.8 110.9L137.5 109.5L138.2 112.5L138.9 110.5L139.6 111.2L140.3 108.3L141.0 111.6L141.7 107.0L142.4 111.4L143.1 108.7L143.8 110.7L144.5 108.5L145.2 110.8L145.9 109.8L146.6 111.1L147.3 109.8L148.0 110.7" fill="none" stroke="#ff0000" stroke-width="1.05" stroke-linejoin="round"/>
<path d="M167.1 110.2 L167.7 112.0 L168.3 113.6 L168.9 111.9 L169.5 116.2 L170.1 114.1 L170.7 120.2 L171.3 121.0 L171.9 119.7 L172.5 117.6 L173.1 117.8 L173.7 120.3 L174.3 115.5 L174.9 117.1 L175.5 113.3 L176.1 116.1 L176.7 114.7 L177.3 118.4 L177.9 117.7 L178.5 123.6 L179.1 124.9 L179.8 126.3 L180.4 122.5 L181.0 128.4 L181.6 122.6 L182.2 123.1 L182.8 120.3 L183.4 121.7 L184.0 120.7 L184.6 118.6 L185.2 120.4 L185.8 122.7 L186.4 121.8 L187.0 121.7 L187.6 122.0 L188.2 122.0 L188.8 117.5 L189.4 118.5 L190.0 119.0 L190.6 117.5 L191.2 119.3 L191.8 119.4 L192.4 121.7 L193.0 124.2 L193.6 123.1 L194.2 124.1 L194.8 125.3 L195.4 128.0 L196.0 130.3 L196.6 127.8 L197.2 130.0 L197.8 129.7 L198.4 131.7 L199.0 134.1 L199.6 134.8 L200.2 131.2 L200.8 132.2 L201.4 134.0 L202.0 137.2 L202.6 136.3 L203.2 140.0 L203.8 141.4 L204.5 140.3 L205.1 145.4 L205.7 147.6 L206.3 151.5 L206.9 147.1 L207.5 150.4 L208.1 150.1 L208.7 146.2 L209.3 147.0 L209.9 143.6 L210.5 145.7 L211.1 145.0 L211.7 141.3 L212.3 143.7 L212.9 143.0 L213.5 143.1 L214.1 139.8 L214.7 141.7 L215.3 137.9 L215.9 138.5 L216.5 136.1 L217.1 134.2 L217.7 131.4 L218.3 132.3 L218.9 132.4 L219.5 133.3 L220.1 131.9 L220.7 133.9 L221.3 131.9 L221.9 131.2 L222.5 130.3 L223.1 129.7 L223.7 127.9 L224.3 127.6 L224.9 127.0 L225.5 126.6 L226.1 125.3 L226.7 125.3 L227.3 126.2 L227.9 125.7 L228.5 125.0 L229.2 123.4 L229.8 124.8 L230.4 123.0 L231.0 122.9 L231.6 122.5 L232.2 123.2 L232.8 124.8 L233.4 122.8 L234.0 124.8 L234.6 123.1 L235.2 122.7 L235.8 122.8 L236.4 121.5 L237.0 121.5 L237.6 122.2 L238.2 121.1 L238.8 121.9 L239.4 121.0 L240.0 121.7 L240.6 119.4 L241.2 120.7 L241.8 120.6 L242.4 120.5 L243.0 118.6 L243.6 118.7 L244.2 119.8 L244.8 118.0 L245.4 118.7 L246.0 117.0 L246.6 117.6 L247.2 117.7 L247.8 116.9 L248.4 117.7 L249.0 116.5 L249.6 117.1 L250.2 119.6 L250.8 122.6 L251.4 123.5 L252.0 129.2 L252.6 128.0 L253.2 135.4 L253.9 134.3 L254.5 133.2 L255.1 127.6 L255.7 124.8 L256.3 124.9 L256.9 126.7 L257.5 127.7 L258.1 126.1 L258.7 124.3 L259.3 125.8 L259.9 126.4 L260.5 126.3 L261.1 122.9 L261.7 124.1 L262.3 124.4 L262.9 122.2 L263.5 123.3 L264.1 121.2 L264.7 122.1 L265.3 120.7 L265.9 119.3 L265.9 120.8 L265.3 123.9 L264.7 122.1 L264.1 124.2 L263.5 123.3 L262.9 125.2 L262.3 127.0 L261.7 127.4 L261.1 127.4 L260.5 129.0 L259.9 127.4 L259.3 128.4 L258.7 128.1 L258.1 129.8 L257.5 127.7 L256.9 130.6 L256.3 131.3 L255.7 128.8 L255.1 130.3 L254.5 136.0 L253.9 134.3 L253.2 135.4 L252.6 136.9 L252.0 133.0 L251.4 128.9 L250.8 122.6 L250.2 120.1 L249.6 119.8 L249.0 118.4 L248.4 118.3 L247.8 118.9 L247.2 119.1 L246.6 119.5 L246.0 119.8 L245.4 119.3 L244.8 121.0 L244.2 119.8 L243.6 120.3 L243.0 120.8 L242.4 120.5 L241.8 122.0 L241.2 121.7 L240.6 122.4 L240.0 121.7 L239.4 122.8 L238.8 122.8 L238.2 122.1 L237.6 122.6 L237.0 124.3 L236.4 124.6 L235.8 124.5 L235.2 124.5 L234.6 124.5 L234.0 125.6 L233.4 123.8 L232.8 125.9 L232.2 124.3 L231.6 125.4 L231.0 124.3 L230.4 126.2 L229.8 125.9 L229.2 125.6 L228.5 126.7 L227.9 125.7 L227.3 126.3 L226.7 127.4 L226.1 126.5 L225.5 126.6 L224.9 127.4 L224.3 127.6 L223.7 128.2 L223.1 131.3 L222.5 132.9 L221.9 133.6 L221.3 133.1 L220.7 133.9 L220.1 134.3 L219.5 135.1 L218.9 136.3 L218.3 135.9 L217.7 136.0 L217.1 134.4 L216.5 137.8 L215.9 140.0 L215.3 138.4 L214.7 143.0 L214.1 143.1 L213.5 143.1 L212.9 145.6 L212.3 144.1 L211.7 145.7 L211.1 145.0 L210.5 147.6 L209.9 147.2 L209.3 148.6 L208.7 151.6 L208.1 153.6 L207.5 155.5 L206.9 150.8 L206.3 153.7 L205.7 147.6 L205.1 146.8 L204.5 146.8 L203.8 143.1 L203.2 140.0 L202.6 138.9 L202.0 137.2 L201.4 138.5 L200.8 139.0 L200.2 133.7 L199.6 135.4 L199.0 135.3 L198.4 131.7 L197.8 130.6 L197.2 132.2 L196.6 132.9 L196.0 132.8 L195.4 129.7 L194.8 130.8 L194.2 126.0 L193.6 128.5 L193.0 125.2 L192.4 125.8 L191.8 124.2 L191.2 122.1 L190.6 124.1 L190.0 121.8 L189.4 123.0 L188.8 119.2 L188.2 122.2 L187.6 124.8 L187.0 125.8 L186.4 121.8 L185.8 122.8 L185.2 125.5 L184.6 122.0 L184.0 123.4 L183.4 121.7 L182.8 124.0 L182.2 129.6 L181.6 131.7 L181.0 132.1 L180.4 127.2 L179.8 128.9 L179.1 126.6 L178.5 123.6 L177.9 120.7 L177.3 119.6 L176.7 118.4 L176.1 117.0 L175.5 118.1 L174.9 118.6 L174.3 121.9 L173.7 120.3 L173.1 123.2 L172.5 121.0 L171.9 123.9 L171.3 124.9 L170.7 120.7 L170.1 119.8 L169.5 118.0 L168.9 116.5 L168.3 113.6 L167.7 113.8 L167.1 110.2Z" fill="#000"/>
<path d="M167.1 108.2L167.8 111.4L168.5 107.5L169.2 116.3L169.9 112.7L170.6 122.9L171.3 115.1L172.0 131.4L172.7 117.3L173.4 125.4L174.1 114.4L174.8 121.4L175.5 108.3L176.2 118.8L176.9 112.6L177.6 122.3L178.3 116.6L179.0 126.0L179.7 115.6L180.4 125.7L181.1 120.0L181.8 139.3L182.5 112.3L183.2 129.5L183.9 118.2L184.6 127.1L185.3 118.7L186.0 134.6L186.7 114.1L187.4 123.4L188.1 110.7L188.8 121.4L189.5 112.2L190.2 121.2L190.9 116.0L191.6 127.7L192.3 119.3L193.0 132.1L193.7 124.3L194.4 134.2L195.1 128.0L195.8 134.6L196.5 127.4L197.2 135.2L197.9 125.1L198.6 132.2L199.3 129.4L200.0 138.9L200.7 132.4L201.4 141.5L202.1 133.8L202.8 142.0L203.5 139.8L204.2 150.6L204.9 143.2L205.6 155.1L206.3 147.0L207.0 164.0L207.7 151.1L208.4 158.7L209.1 145.9L209.8 152.0L210.5 143.4L211.2 149.2L211.9 139.2L212.6 146.4L213.3 141.4L214.0 145.5L214.7 136.6L215.4 143.6L216.1 132.1L216.9 137.4L217.6 126.6L218.3 136.7L219.0 131.6L219.7 134.6L220.4 130.8L221.1 134.1L221.8 129.9L222.5 131.7L223.2 128.0L223.9 130.3L224.6 124.6L225.3 128.1L226.0 123.2L226.7 127.4L227.4 124.2L228.1 127.8L228.8 121.9L229.5 126.6L230.2 121.4L230.9 125.7L231.6 121.9L232.3 125.6L233.0 122.8L233.7 126.7L234.4 122.6L235.1 126.1L235.8 122.7L236.5 125.5L237.2 121.1L237.9 124.8L238.6 120.3L239.3 125.1L240.0 119.4L240.7 122.9L241.4 118.8L242.1 124.0L242.8 119.2L243.5 123.6L244.2 119.5L244.9 123.1L245.6 117.1L246.3 120.4L247.0 116.3L247.7 119.9L248.4 115.6L249.1 121.9L249.8 116.3L250.5 122.0L251.2 120.0L251.9 130.4L252.6 124.3L253.3 152.1L254.0 123.1L254.7 134.1L255.4 126.3L256.1 130.1L256.8 123.0L257.5 129.6L258.2 124.3L258.9 129.8L259.6 122.2L260.3 131.4L261.0 122.5L261.7 130.4L262.4 122.2L263.1 129.0L263.8 121.1L264.5 128.5L265.2 119.8L265.9 125.3" fill="none" stroke="#000" stroke-width="1.05" stroke-linejoin="round"/>
<path d="M167.1 105.6 L167.7 105.6 L168.3 105.6 L168.9 105.6 L169.5 105.7 L170.1 105.7 L170.7 105.7 L171.3 105.7 L171.9 105.7 L172.5 105.7 L173.1 105.7 L173.7 105.7 L174.3 105.7 L174.9 105.7 L175.5 105.7 L176.1 105.7 L176.7 105.6 L177.3 105.6 L177.9 105.5 L178.5 105.5 L179.1 105.5 L179.8 105.5 L180.4 105.4 L181.0 105.5 L181.6 105.4 L182.2 105.4 L182.8 105.4 L183.4 105.4 L184.0 105.5 L184.6 105.5 L185.2 105.5 L185.8 105.6 L186.4 105.6 L187.0 105.6 L187.6 105.6 L188.2 105.7 L188.8 105.7 L189.4 105.7 L190.0 105.8 L190.6 106.2 L191.2 106.5 L191.8 106.8 L192.4 107.1 L193.0 107.4 L193.6 107.8 L194.2 108.1 L194.8 108.1 L195.4 108.8 L196.0 109.1 L196.6 109.0 L197.2 110.3 L197.8 110.2 L198.4 111.4 L199.0 111.7 L199.6 112.0 L200.2 111.9 L200.8 112.6 L201.4 112.1 L202.0 112.1 L202.6 112.5 L203.2 112.8 L203.8 113.6 L204.5 114.1 L205.1 114.6 L205.7 115.3 L206.3 114.5 L206.9 116.0 L207.5 115.5 L208.1 115.7 L208.7 116.6 L209.3 115.3 L209.9 116.3 L210.5 117.0 L211.1 115.8 L211.7 117.0 L212.3 116.0 L212.9 116.5 L213.5 117.1 L214.1 116.0 L214.7 118.0 L215.3 117.6 L215.9 116.6 L216.5 116.8 L217.1 115.4 L217.7 117.1 L218.3 114.3 L218.9 115.8 L219.5 115.5 L220.1 115.6 L220.7 117.3 L221.3 116.1 L221.9 115.6 L222.5 116.4 L223.1 115.0 L223.7 114.7 L224.3 114.8 L224.9 114.3 L225.5 114.0 L226.1 113.8 L226.7 114.1 L227.3 114.6 L227.9 114.4 L228.5 116.4 L229.2 116.6 L229.8 115.8 L230.4 114.2 L231.0 115.3 L231.6 116.4 L232.2 115.2 L232.8 116.8 L233.4 116.0 L234.0 114.3 L234.6 114.5 L235.2 116.0 L235.8 114.0 L236.4 114.1 L237.0 115.2 L237.6 114.1 L238.2 114.0 L238.8 113.2 L239.4 114.4 L240.0 113.8 L240.6 112.1 L241.2 112.4 L241.8 111.3 L242.4 113.0 L243.0 112.1 L243.6 112.3 L244.2 113.3 L244.8 111.5 L245.4 113.2 L246.0 113.4 L246.6 110.9 L247.2 111.7 L247.8 110.4 L248.4 113.2 L249.0 110.3 L249.6 111.9 L250.2 113.0 L250.8 113.4 L251.4 116.7 L252.0 116.8 L252.6 116.0 L253.2 118.4 L253.9 117.5 L254.5 118.1 L255.1 114.1 L255.7 113.7 L256.3 113.0 L256.9 114.7 L257.5 116.9 L258.1 116.7 L258.7 112.6 L259.3 114.7 L259.9 114.6 L260.5 116.2 L261.1 115.3 L261.7 112.8 L262.3 115.4 L262.9 114.6 L263.5 114.5 L264.1 111.6 L264.7 114.1 L265.3 113.6 L265.9 112.3 L265.9 113.5 L265.3 116.3 L264.7 117.0 L264.1 116.1 L263.5 115.6 L262.9 117.5 L262.3 116.9 L261.7 118.6 L261.1 118.8 L260.5 119.1 L259.9 117.7 L259.3 115.4 L258.7 116.3 L258.1 116.7 L257.5 120.3 L256.9 119.4 L256.3 116.4 L255.7 117.9 L255.1 117.3 L254.5 118.1 L253.9 117.6 L253.2 118.4 L252.6 121.6 L252.0 120.6 L251.4 116.7 L250.8 114.6 L250.2 114.4 L249.6 114.0 L249.0 113.4 L248.4 114.4 L247.8 113.3 L247.2 113.6 L246.6 115.2 L246.0 113.9 L245.4 113.2 L244.8 114.5 L244.2 113.8 L243.6 114.3 L243.0 113.3 L242.4 115.8 L241.8 114.4 L241.2 113.9 L240.6 115.7 L240.0 115.9 L239.4 114.4 L238.8 116.3 L238.2 116.2 L237.6 114.9 L237.0 115.2 L236.4 116.4 L235.8 117.9 L235.2 116.8 L234.6 118.8 L234.0 118.9 L233.4 116.1 L232.8 116.8 L232.2 119.0 L231.6 116.5 L231.0 118.8 L230.4 116.3 L229.8 116.3 L229.2 116.6 L228.5 116.9 L227.9 118.3 L227.3 118.2 L226.7 116.3 L226.1 117.9 L225.5 116.2 L224.9 115.6 L224.3 117.1 L223.7 115.6 L223.1 117.3 L222.5 118.0 L221.9 117.3 L221.3 118.3 L220.7 117.4 L220.1 117.7 L219.5 116.6 L218.9 117.7 L218.3 118.1 L217.7 117.1 L217.1 119.3 L216.5 118.7 L215.9 117.6 L215.3 118.6 L214.7 118.0 L214.1 118.8 L213.5 117.1 L212.9 117.4 L212.3 117.8 L211.7 117.6 L211.1 117.2 L210.5 117.1 L209.9 119.0 L209.3 116.9 L208.7 118.1 L208.1 118.0 L207.5 117.7 L206.9 116.0 L206.3 118.0 L205.7 117.5 L205.1 116.7 L204.5 114.5 L203.8 114.0 L203.2 114.2 L202.6 113.5 L202.0 113.8 L201.4 113.7 L200.8 113.6 L200.2 113.4 L199.6 113.6 L199.0 112.4 L198.4 111.4 L197.8 111.3 L197.2 110.4 L196.6 110.2 L196.0 109.3 L195.4 109.1 L194.8 108.4 L194.2 108.1 L193.6 107.8 L193.0 107.5 L192.4 107.2 L191.8 106.9 L191.2 106.6 L190.6 106.2 L190.0 105.9 L189.4 105.8 L188.8 105.7 L188.2 105.7 L187.6 105.7 L187.0 105.6 L186.4 105.6 L185.8 105.6 L185.2 105.5 L184.6 105.5 L184.0 105.5 L183.4 105.5 L182.8 105.4 L182.2 105.4 L181.6 105.5 L181.0 105.5 L180.4 105.5 L179.8 105.5 L179.1 105.5 L178.5 105.6 L177.9 105.6 L177.3 105.6 L176.7 105.6 L176.1 105.7 L175.5 105.7 L174.9 105.7 L174.3 105.8 L173.7 105.7 L173.1 105.7 L172.5 105.7 L171.9 105.7 L171.3 105.7 L170.7 105.7 L170.1 105.7 L169.5 105.7 L168.9 105.6 L168.3 105.6 L167.7 105.6 L167.1 105.6Z" fill="#ff0000"/>
<path d="M167.1 105.6L167.8 105.6L168.5 105.6L169.2 105.6L169.9 105.7L170.6 105.7L171.3 105.7L172.0 105.7L172.7 105.7L173.4 105.8L174.1 105.7L174.8 105.7L175.5 105.6L176.2 105.7L176.9 105.6L177.6 105.6L178.3 105.5L179.0 105.6L179.7 105.4L180.4 105.5L181.1 104.8L181.8 105.4L182.5 105.4L183.2 105.5L183.9 105.5L184.6 105.6L185.3 105.5L186.0 105.6L186.7 105.5L187.4 105.6L188.1 105.6L188.8 105.7L189.5 105.7L190.2 106.0L190.9 106.3L191.6 106.9L192.3 107.1L193.0 107.7L193.7 107.6L194.4 108.6L195.1 108.7L195.8 109.8L196.5 109.1L197.2 110.7L197.9 109.4L198.6 112.2L199.3 110.8L200.0 113.3L200.7 111.2L201.4 113.7L202.1 111.6L202.8 114.7L203.5 112.6L204.2 117.5L204.9 115.0L205.6 119.6L206.3 114.9L207.0 120.4L207.7 116.8L208.4 121.0L209.1 114.7L209.8 121.8L210.5 114.9L211.2 117.8L211.9 114.9L212.6 118.9L213.3 114.5L214.0 120.3L214.7 116.5L215.4 123.0L216.1 115.5L216.9 119.0L217.6 111.5L218.3 117.0L219.0 113.1L219.7 117.6L220.4 114.2L221.1 118.0L221.8 114.0L222.5 118.8L223.2 113.3L223.9 116.1L224.6 110.7L225.3 116.4L226.0 111.6L226.7 118.3L227.4 114.5L228.1 118.7L228.8 111.8L229.5 117.3L230.2 110.7L230.9 122.6L231.6 115.3L232.3 118.4L233.0 116.0L233.7 119.8L234.4 115.0L235.1 120.4L235.8 114.1L236.5 119.7L237.2 114.7L237.9 119.5L238.6 113.2L239.3 118.0L240.0 111.8L240.7 117.5L241.4 112.6L242.1 117.2L242.8 112.8L243.5 118.0L244.2 112.2L244.9 118.2L245.6 112.2L246.3 114.9L247.0 110.1L247.7 114.2L248.4 110.2L249.1 116.1L249.8 106.7L250.5 116.7L251.2 109.1L251.9 122.7L252.6 109.6L253.3 128.2L254.0 109.7L254.7 117.9L255.4 114.2L256.1 120.9L256.8 109.6L257.5 119.3L258.2 112.0L258.9 117.7L259.6 112.4L260.3 121.4L261.0 110.4L261.7 121.7L262.4 116.1L263.1 119.3L263.8 115.4L264.5 121.1L265.2 113.4L265.9 119.0" fill="none" stroke="#ff0000" stroke-width="1.05" stroke-linejoin="round"/>
<path d="M284.4 107.8L285.1 110.4L285.8 109.8L286.5 110.9L287.2 111.2L287.9 112.6L288.6 112.7L289.3 115.8L290.0 115.9L290.7 118.5L291.4 113.7L292.1 113.0L292.8 109.8L293.5 109.4L294.2 108.0L294.9 108.9L295.6 109.8L296.3 111.9L297.0 112.4L297.7 114.0L298.4 112.3L299.1 112.4L299.8 111.8L300.5 111.5L301.2 110.9L301.9 111.0L302.6 110.7L303.3 111.0L304.0 110.7L304.7 110.9L305.4 110.4L306.1 110.6L306.8 109.5L307.5 110.6L308.2 111.2L308.9 114.2L309.6 114.0L310.3 117.6L311.0 117.1L311.7 120.5L312.4 119.8L313.1 122.4L313.8 121.4L314.5 125.0L315.2 121.1L315.9 123.5L316.6 122.8L317.3 126.5L318.0 121.5L318.7 122.5L319.4 121.7L320.1 123.1L320.8 122.3L321.5 124.2L322.2 123.0L322.9 125.2L323.6 124.0L324.3 126.5L325.0 123.0L325.7 123.9L326.4 122.9L327.1 123.8L327.8 122.7L328.5 124.1L329.2 123.1L329.9 124.2L330.6 122.8L331.3 123.6L332.0 122.9L332.7 124.1L333.4 123.0L334.2 123.5L334.9 122.6L335.6 123.2L336.3 122.6L337.0 123.0L337.7 122.7L338.4 123.7L339.1 123.3L339.8 124.1L340.5 123.4L341.2 125.5L341.9 122.0L342.6 122.4L343.3 120.8L344.0 121.7L344.7 120.9L345.4 121.0L346.1 120.4L346.8 120.0L347.5 116.0L348.2 118.3L348.9 117.5L349.6 118.6L350.3 118.7L351.0 119.4L351.7 119.1L352.4 119.8L353.1 119.6L353.8 120.6L354.5 120.3L355.2 122.5L355.9 119.2L356.6 117.6L357.3 114.0L358.0 113.7L358.7 112.9L359.4 113.4L360.1 113.2L360.8 114.5L361.5 113.1L362.2 112.7L362.9 111.8L363.6 111.8L364.3 111.3L365.0 111.3L365.7 110.8L366.4 110.8L367.1 109.5L367.8 112.7L368.5 114.0L369.2 123.7L369.9 120.0L370.6 133.0L371.3 120.4L372.0 121.6L372.7 116.8L373.4 116.8L374.1 115.5L374.8 115.7L375.5 114.4L376.2 114.5L376.9 113.7L377.6 114.0L378.3 113.2L379.0 113.4L379.7 112.7L380.4 112.7L381.1 112.0L381.8 111.8L382.5 111.0L383.2 110.9" fill="none" stroke="#000" stroke-width="1.05" stroke-linejoin="round"/>
<path d="M284.4 105.5L285.1 105.9L285.8 106.3L286.5 106.7L287.2 107.0L287.9 107.2L288.6 107.3L289.3 107.5L290.0 107.6L290.7 108.0L291.4 107.4L292.1 107.3L292.8 107.2L293.5 107.1L294.2 107.0L294.9 107.0L295.6 107.1L296.3 107.1L297.0 107.1L297.7 107.1L298.4 107.2L299.1 107.2L299.8 107.1L300.5 107.1L301.2 107.0L301.9 107.0L302.6 106.9L303.3 106.9L304.0 106.8L304.7 106.8L305.4 106.7L306.1 106.6L306.8 106.0L307.5 106.6L308.2 107.8L308.9 110.2L309.6 110.5L310.3 117.0L311.0 112.1L311.7 115.2L312.4 114.2L313.1 117.4L313.8 115.7L314.5 117.2L315.2 114.8L315.9 117.7L316.6 116.7L317.3 118.6L318.0 117.7L318.7 119.4L319.4 117.4L320.1 121.0L320.8 116.0L321.5 120.0L322.2 118.3L322.9 122.3L323.6 119.7L324.3 122.3L325.0 119.6L325.7 126.0L326.4 120.3L327.1 122.7L327.8 121.2L328.5 123.2L329.2 121.2L329.9 122.7L330.6 120.9L331.3 122.1L332.0 121.4L332.7 122.9L333.4 120.0L334.2 128.5L334.9 121.6L335.6 121.6L336.3 121.0L337.0 121.7L337.7 120.0L338.4 122.2L339.1 121.8L339.8 124.0L340.5 121.2L341.2 121.4L341.9 118.0L342.6 119.6L343.3 118.7L344.0 120.0L344.7 119.1L345.4 121.5L346.1 117.1L346.8 117.4L347.5 113.0L348.2 115.5L348.9 114.1L349.6 115.5L350.3 115.3L351.0 116.3L351.7 115.5L352.4 116.5L353.1 115.8L353.8 117.2L354.5 116.6L355.2 118.1L355.9 118.5L356.6 120.0L357.3 112.3L358.0 111.6L358.7 110.2L359.4 110.3L360.1 109.2L360.8 109.3L361.5 108.4L362.2 108.3L362.9 107.9L363.6 108.1L364.3 107.7L365.0 108.0L365.7 107.4L366.4 107.3L367.1 106.0L367.8 107.3L368.5 107.9L369.2 109.3L369.9 109.7L370.6 111.5L371.3 109.2L372.0 109.3L372.7 108.6L373.4 108.6L374.1 108.2L374.8 108.2L375.5 107.7L376.2 107.9L376.9 107.7L377.6 108.0L378.3 107.7L379.0 107.9L379.7 107.7L380.4 107.7L381.1 107.3L381.8 107.2L382.5 106.8L383.2 106.9" fill="none" stroke="#ff0000" stroke-width="1.05" stroke-linejoin="round"/>
<path d="M402.5 105.3L403.2 108.8L403.9 108.4L404.6 114.7L405.3 112.5L406.0 119.5L406.7 117.8L407.4 129.9L408.1 116.8L408.8 124.3L409.5 115.5L410.2 121.3L410.9 116.5L411.6 122.7L412.3 118.0L413.0 125.0L413.7 118.9L414.4 127.6L415.1 121.9L415.8 128.1L416.5 121.7L417.2 129.5L417.9 120.4L418.6 129.5L419.3 120.3L420.0 126.5L420.7 121.8L421.4 132.0L422.1 121.0L422.8 129.9L423.5 124.1L424.2 129.1L424.9 121.9L425.6 126.5L426.3 120.4L427.0 127.4L427.7 124.9L428.4 131.7L429.1 127.7L429.8 132.0L430.5 126.8L431.2 134.4L431.9 129.9L432.6 136.0L433.3 129.1L434.0 136.0L434.7 130.4L435.4 135.5L436.1 132.5L436.8 141.2L437.5 136.3L438.2 145.2L438.9 140.0L439.6 149.7L440.3 139.9L441.0 158.7L441.7 146.9L442.4 152.4L443.1 145.0L443.8 151.6L444.5 143.4L445.2 151.7L445.9 138.8L446.6 149.8L447.3 138.0L448.0 146.9L448.7 137.7L449.4 147.6L450.1 144.5L450.8 151.9L451.5 145.3L452.3 151.2L453.0 144.0L453.7 149.8L454.4 141.3L455.1 145.3L455.8 140.3L456.5 144.3L457.2 133.6L457.9 139.6L458.6 131.4L459.3 135.0L460.0 126.5L460.7 136.0L461.4 126.8L462.1 130.0L462.8 125.5L463.5 131.5L464.2 125.0L464.9 131.3L465.6 122.5L466.3 130.3L467.0 123.6L467.7 129.5L468.4 125.0L469.1 130.6L469.8 124.3L470.5 131.1L471.2 123.8L471.9 129.8L472.6 122.3L473.3 129.2L474.0 121.4L474.7 127.5L475.4 120.9L476.1 125.1L476.8 122.0L477.5 126.2L478.2 120.7L478.9 124.9L479.6 119.3L480.3 123.1L481.0 118.6L481.7 122.4L482.4 118.4L483.1 121.9L483.8 119.2L484.5 120.5L485.2 117.0L485.9 120.3L486.6 123.8L487.3 138.5L488.0 135.3L488.7 151.5L489.4 119.6L490.1 140.1L490.8 131.3L491.5 135.6L492.2 128.8L492.9 134.6L493.6 126.0L494.3 131.3L495.0 122.9L495.7 131.0L496.4 121.8L497.1 127.6L497.8 122.7L498.5 126.1L499.2 121.8L499.9 124.2L500.6 120.8L501.3 121.9" fill="none" stroke="#000" stroke-width="1.05" stroke-linejoin="round"/>
<path d="M402.5 105.3L403.2 105.7L403.9 105.4L404.6 105.6L405.3 105.4L406.0 105.7L406.7 105.5L407.4 105.7L408.1 105.4L408.8 105.7L409.5 105.5L410.2 105.6L410.9 105.5L411.6 105.7L412.3 105.6L413.0 105.8L413.7 105.6L414.4 105.9L415.1 105.7L415.8 106.0L416.5 105.8L417.2 106.0L417.9 105.7L418.6 106.0L419.3 105.7L420.0 106.0L420.7 105.7L421.4 105.9L422.1 105.9L422.8 106.1L423.5 105.9L424.2 106.1L424.9 105.9L425.6 106.2L426.3 107.3L427.0 111.0L427.7 110.0L428.4 112.2L429.1 111.1L429.8 113.0L430.5 111.2L431.2 112.4L431.9 111.1L432.6 112.3L433.3 110.9L434.0 111.8L434.7 110.7L435.4 111.7L436.1 111.0L436.8 112.2L437.5 110.6L438.2 111.7L438.9 110.5L439.6 111.9L440.3 110.8L441.0 111.8L441.7 110.5L442.4 111.7L443.1 110.6L443.8 111.6L444.5 110.3L445.2 111.3L445.9 109.9L446.6 110.8L447.3 110.1L448.0 110.8L448.7 109.9L449.4 111.2L450.1 110.9L450.8 112.1L451.5 111.3L452.3 112.2L453.0 111.4L453.7 112.1L454.4 110.9L455.1 112.2L455.8 111.0L456.5 112.2L457.2 111.3L457.9 112.1L458.6 111.0L459.3 112.2L460.0 110.6L460.7 112.6L461.4 111.0L462.1 112.2L462.8 111.3L463.5 112.1L464.2 110.7L464.9 112.0L465.6 110.3L466.3 111.9L467.0 110.7L467.7 113.9L468.4 110.9L469.1 113.1L469.8 111.4L470.5 112.8L471.2 110.5L471.9 112.6L472.6 111.0L473.3 112.4L474.0 110.4L474.7 111.7L475.4 110.7L476.1 111.4L476.8 110.4L477.5 111.5L478.2 110.3L478.9 111.1L479.6 109.1L480.3 110.6L481.0 109.2L481.7 110.5L482.4 108.7L483.1 110.0L483.8 108.8L484.5 109.6L485.2 107.9L485.9 109.7L486.6 108.4L487.3 109.5L488.0 108.5L488.7 109.5L489.4 108.5L490.1 109.4L490.8 108.1L491.5 109.2L492.2 108.0L492.9 109.2L493.6 107.5L494.3 108.5L495.0 107.5L495.7 108.8L496.4 107.4L497.1 108.7L497.8 107.5L498.5 108.4L499.2 107.3L499.9 108.4L500.6 107.3L501.3 108.0" fill="none" stroke="#ff0000" stroke-width="1.05" stroke-linejoin="round"/>
<path d="M49.2 189.9L49.9 192.7L50.6 193.8L51.3 197.8L52.0 197.9L52.7 201.5L53.4 199.3L54.1 203.6L54.8 199.7L55.5 202.2L56.2 193.3L56.9 202.2L57.6 197.7L58.3 201.7L59.0 199.5L59.7 203.3L60.4 200.6L61.1 205.7L61.8 199.7L62.5 203.2L63.2 198.2L63.9 203.4L64.6 201.5L65.3 206.7L66.0 199.6L66.7 203.0L67.4 199.9L68.1 203.7L68.8 199.7L69.5 204.6L70.2 195.4L70.9 201.1L71.6 199.9L72.3 204.4L73.0 200.5L73.7 209.8L74.4 202.8L75.1 205.9L75.8 201.7L76.5 205.7L77.2 198.5L77.9 207.1L78.6 201.6L79.3 205.3L80.0 201.2L80.7 205.1L81.4 202.8L82.1 209.8L82.8 202.5L83.5 206.8L84.2 198.5L84.9 207.5L85.6 203.9L86.3 215.1L87.0 208.4L87.7 217.6L88.4 214.9L89.1 221.1L89.8 201.5L90.5 211.1L91.2 205.8L91.9 214.6L92.6 206.7L93.3 215.0L94.0 209.0L94.7 217.0L95.4 209.9L96.1 215.2L96.8 209.7L97.5 214.7L98.2 207.9L99.0 210.6L99.7 200.5L100.4 208.5L101.1 205.2L101.8 214.9L102.5 205.5L103.2 208.9L103.9 204.8L104.6 206.6L105.3 202.3L106.0 204.9L106.7 201.3L107.4 204.0L108.1 200.4L108.8 203.7L109.5 201.0L110.2 203.5L110.9 200.3L111.6 201.6L112.3 199.8L113.0 203.5L113.7 200.7L114.4 201.7L115.1 199.7L115.8 201.4L116.5 199.0L117.2 202.5L117.9 199.7L118.6 201.2L119.3 197.9L120.0 201.6L120.7 198.5L121.4 201.0L122.1 199.9L122.8 202.2L123.5 198.7L124.2 202.5L124.9 198.9L125.6 201.7L126.3 196.4L127.0 202.8L127.7 199.7L128.4 203.5L129.1 201.3L129.8 204.8L130.5 201.5L131.2 205.7L131.9 200.1L132.6 204.0L133.3 202.6L134.0 221.1L134.7 204.4L135.4 207.6L136.1 201.3L136.8 203.0L137.5 200.6L138.2 203.7L138.9 199.0L139.6 201.2L140.3 199.6L141.0 202.7L141.7 200.3L142.4 208.8L143.1 201.1L143.8 205.3L144.5 202.3L145.2 204.0L145.9 200.7L146.6 202.6L147.3 200.0L148.0 201.8" fill="none" stroke="#000" stroke-width="1.05" stroke-linejoin="round"/>
<path d="M49.2 189.3L49.9 189.3L50.6 189.3L51.3 189.3L52.0 189.3L52.7 189.3L53.4 189.2L54.1 189.2L54.8 189.2L55.5 189.2L56.2 189.2L56.9 189.2L57.6 189.2L58.3 189.2L59.0 189.2L59.7 189.2L60.4 189.2L61.1 189.1L61.8 189.1L62.5 189.1L63.2 189.1L63.9 189.1L64.6 189.1L65.3 189.1L66.0 189.1L66.7 189.1L67.4 189.1L68.1 189.1L68.8 189.0L69.5 189.0L70.2 189.0L70.9 189.0L71.6 189.0L72.3 189.0L73.0 189.0L73.7 189.0L74.4 189.0L75.1 189.0L75.8 189.0L76.5 188.9L77.2 188.9L77.9 188.9L78.6 188.9L79.3 188.9L80.0 188.9L80.7 188.9L81.4 188.9L82.1 188.9L82.8 188.9L83.5 188.9L84.2 188.8L84.9 188.8L85.6 188.8L86.3 188.8L87.0 188.8L87.7 188.8L88.4 188.8L89.1 188.8L89.8 188.8L90.5 188.8L91.2 188.8L91.9 188.7L92.6 188.7L93.3 188.7L94.0 188.7L94.7 188.7L95.4 188.7L96.1 188.7L96.8 188.7L97.5 188.7L98.2 188.7L99.0 188.7L99.7 188.6L100.4 188.6L101.1 188.6L101.8 188.6L102.5 188.6L103.2 188.6L103.9 188.6L104.6 188.6L105.3 188.6L106.0 188.6L106.7 188.6L107.4 188.6L108.1 188.5L108.8 188.5L109.5 188.5L110.2 188.5L110.9 188.5L111.6 188.5L112.3 188.5L113.0 188.5L113.7 188.5L114.4 188.5L115.1 188.5L115.8 188.5L116.5 188.4L117.2 188.4L117.9 188.4L118.6 188.4L119.3 188.4L120.0 188.4L120.7 188.4L121.4 188.4L122.1 188.4L122.8 188.4L123.5 188.4L124.2 188.4L124.9 188.3L125.6 188.3L126.3 188.3L127.0 188.3L127.7 188.3L128.4 188.3L129.1 188.3L129.8 188.3L130.5 188.3L131.2 188.3L131.9 188.3L132.6 188.3L133.3 188.2L134.0 188.2L134.7 188.2L135.4 188.2L136.1 188.2L136.8 188.2L137.5 188.2L138.2 188.2L138.9 188.2L139.6 188.2L140.3 188.2L141.0 188.2L141.7 188.1L142.4 188.1L143.1 188.1L143.8 188.1L144.5 188.1L145.2 188.1L145.9 188.1L146.6 188.1L147.3 188.1L148.0 188.1" fill="none" stroke="#ff0000" stroke-width="1.05" stroke-linejoin="round"/>
<path d="M167.1 192.1L167.8 198.0L168.5 193.1L169.2 200.2L169.9 198.6L170.6 209.6L171.3 201.8L172.0 218.0L172.7 202.6L173.4 207.5L174.1 197.7L174.8 203.3L175.5 193.3L176.2 203.1L176.9 197.2L177.6 205.8L178.3 200.1L179.0 212.6L179.7 202.9L180.4 230.7L181.1 207.7L181.8 214.0L182.5 205.0L183.2 214.6L183.9 197.3L184.6 211.0L185.3 200.8L186.0 208.0L186.7 199.8L187.4 219.6L188.1 203.0L188.8 212.0L189.5 195.7L190.2 211.1L190.9 199.4L191.6 217.3L192.3 210.1L193.0 224.3L193.7 210.3L194.4 218.2L195.1 206.5L195.8 216.0L196.5 208.3L197.2 216.3L197.9 198.9L198.6 216.8L199.3 206.1L200.0 219.1L200.7 212.8L201.4 212.8L202.1 209.4L202.8 216.6L203.5 209.6L204.2 224.3L204.9 212.0L205.6 223.0L206.3 213.3L207.0 246.6L207.7 216.3L208.4 231.0L209.1 206.8L209.8 224.1L210.5 210.8L211.2 224.4L211.9 217.7L212.6 223.3L213.3 217.8L214.0 229.0L214.7 219.3L215.4 223.6L216.1 206.8L216.9 221.3L217.6 211.4L218.3 218.6L219.0 214.8L219.7 220.1L220.4 216.1L221.1 217.3L221.8 212.7L222.5 215.1L223.2 207.3L223.9 210.7L224.6 204.5L225.3 209.8L226.0 207.2L226.7 208.5L227.4 203.3L228.1 208.4L228.8 204.4L229.5 208.9L230.2 198.9L230.9 208.6L231.6 200.0L232.3 204.5L233.0 201.0L233.7 204.3L234.4 201.6L235.1 205.5L235.8 200.4L236.5 203.8L237.2 200.1L237.9 203.2L238.6 201.1L239.3 204.6L240.0 199.7L240.7 204.8L241.4 199.9L242.1 203.0L242.8 197.3L243.5 203.8L244.2 198.9L244.9 204.5L245.6 200.7L246.3 203.1L247.0 200.3L247.7 202.2L248.4 196.5L249.1 201.9L249.8 201.2L250.5 211.4L251.2 204.3L251.9 223.7L252.6 211.6L253.3 238.6L254.0 211.1L254.7 225.8L255.4 203.0L256.1 213.1L256.8 202.2L257.5 210.5L258.2 201.3L258.9 211.4L259.6 200.6L260.3 209.4L261.0 202.4L261.7 210.2L262.4 202.1L263.1 212.8L263.8 198.1L264.5 212.8L265.2 204.2L265.9 212.1" fill="none" stroke="#000" stroke-width="1.05" stroke-linejoin="round"/>
<path d="M167.1 189.4L167.8 189.4L168.5 189.3L169.2 189.3L169.9 189.2L170.6 189.2L171.3 189.2L172.0 189.1L172.7 189.1L173.4 189.1L174.1 189.0L174.8 189.0L175.5 188.9L176.2 188.9L176.9 188.9L177.6 188.8L178.3 188.8L179.0 188.8L179.7 188.7L180.4 188.7L181.1 188.6L181.8 188.6L182.5 188.6L183.2 188.5L183.9 188.5L184.6 188.5L185.3 188.4L186.0 188.4L186.7 188.4L187.4 188.3L188.1 188.3L188.8 188.3L189.5 188.2L190.2 188.2L190.9 188.1L191.6 188.1L192.3 188.1L193.0 188.0L193.7 188.0L194.4 188.0L195.1 187.9L195.8 187.9L196.5 187.9L197.2 187.8L197.9 187.8L198.6 187.7L199.3 187.7L200.0 187.6L200.7 187.6L201.4 187.5L202.1 187.5L202.8 187.4L203.5 187.4L204.2 187.3L204.9 187.3L205.6 187.2L206.3 187.2L207.0 187.1L207.7 187.0L208.4 187.0L209.1 186.9L209.8 186.9L210.5 186.8L211.2 186.8L211.9 186.7L212.6 186.7L213.3 186.6L214.0 186.6L214.7 186.5L215.4 186.5L216.1 186.5L216.9 186.5L217.6 186.5L218.3 186.4L219.0 186.4L219.7 186.4L220.4 186.4L221.1 186.4L221.8 186.4L222.5 186.4L223.2 186.3L223.9 186.3L224.6 186.3L225.3 186.3L226.0 186.3L226.7 186.3L227.4 186.3L228.1 186.3L228.8 186.2L229.5 186.2L230.2 186.2L230.9 186.2L231.6 186.2L232.3 186.2L233.0 186.3L233.7 186.3L234.4 186.3L235.1 186.3L235.8 186.4L236.5 186.4L237.2 186.4L237.9 186.4L238.6 186.5L239.3 186.5L240.0 186.5L240.7 186.5L241.4 186.6L242.1 186.6L242.8 186.6L243.5 186.6L244.2 186.6L244.9 186.7L245.6 186.7L246.3 186.7L247.0 186.7L247.7 186.8L248.4 186.8L249.1 186.8L249.8 186.8L250.5 186.9L251.2 186.9L251.9 186.9L252.6 186.9L253.3 187.0L254.0 187.0L254.7 187.0L255.4 187.0L256.1 187.1L256.8 187.1L257.5 187.2L258.2 187.2L258.9 187.3L259.6 187.3L260.3 187.4L261.0 187.4L261.7 187.5L262.4 187.5L263.1 187.6L263.8 187.6L264.5 187.7L265.2 187.7L265.9 187.8" fill="none" stroke="#ff0000" stroke-width="1.05" stroke-linejoin="round"/>
<path d="M284.4 190.5L285.1 193.2L285.8 194.0L286.5 196.0L287.2 196.7L287.9 198.9L288.6 197.8L289.3 200.9L290.0 198.5L290.7 204.9L291.4 197.4L292.1 195.3L292.8 193.9L293.5 194.3L294.2 192.5L294.9 194.1L295.6 194.4L296.3 195.9L297.0 195.9L297.7 199.5L298.4 196.8L299.1 196.6L299.8 195.8L300.5 196.4L301.2 195.7L301.9 196.1L302.6 195.4L303.3 195.9L304.0 195.3L304.7 195.6L305.4 195.1L306.1 195.4L306.8 193.6L307.5 195.0L308.2 194.7L308.9 195.1L309.6 194.6L310.3 195.1L311.0 195.7L311.7 197.0L312.4 196.8L313.1 201.7L313.8 197.2L314.5 197.8L315.2 196.9L315.9 199.7L316.6 197.9L317.3 202.2L318.0 195.2L318.7 198.5L319.4 197.7L320.1 202.2L320.8 198.3L321.5 199.8L322.2 199.1L322.9 201.4L323.6 199.4L324.3 202.7L325.0 200.4L325.7 204.4L326.4 198.9L327.1 200.0L327.8 198.6L328.5 200.3L329.2 198.2L329.9 199.5L330.6 198.3L331.3 198.5L332.0 198.1L332.7 200.5L333.4 200.0L334.2 204.9L334.9 198.3L335.6 198.3L336.3 197.6L337.0 197.9L337.7 197.6L338.4 197.9L339.1 197.7L339.8 198.7L340.5 198.2L341.2 202.8L341.9 198.8L342.6 198.6L343.3 197.6L344.0 200.4L344.7 197.0L345.4 197.4L346.1 196.5L346.8 199.4L347.5 196.0L348.2 196.4L348.9 195.2L349.6 195.2L350.3 194.9L351.0 195.0L351.7 194.1L352.4 194.9L353.1 194.8L353.8 195.2L354.5 195.1L355.2 196.4L355.9 196.6L356.6 199.4L357.3 195.5L358.0 195.5L358.7 194.1L359.4 196.8L360.1 196.3L360.8 199.4L361.5 196.4L362.2 196.8L362.9 196.2L363.6 196.3L364.3 195.7L365.0 195.8L365.7 195.6L366.4 195.8L367.1 194.6L367.8 196.0L368.5 199.6L369.2 212.2L369.9 208.4L370.6 221.5L371.3 208.0L372.0 208.3L372.7 202.6L373.4 203.8L374.1 201.5L374.8 201.9L375.5 200.4L376.2 201.0L376.9 200.2L377.6 200.4L378.3 198.5L379.0 198.9L379.7 197.9L380.4 198.1L381.1 197.5L381.8 197.5L382.5 196.9L383.2 196.9" fill="none" stroke="#000" stroke-width="1.05" stroke-linejoin="round"/>
<path d="M284.4 189.3L285.1 189.3L285.8 189.3L286.5 189.3L287.2 189.3L287.9 189.2L288.6 189.2L289.3 189.2L290.0 189.2L290.7 189.2L291.4 189.2L292.1 189.2L292.8 189.2L293.5 189.2L294.2 189.2L294.9 189.1L295.6 189.1L296.3 189.1L297.0 189.1L297.7 189.1L298.4 189.1L299.1 189.1L299.8 189.1L300.5 189.1L301.2 189.1L301.9 189.0L302.6 189.0L303.3 189.0L304.0 189.0L304.7 189.0L305.4 188.9L306.1 188.8L306.8 188.7L307.5 188.5L308.2 188.4L308.9 188.3L309.6 188.1L310.3 188.0L311.0 187.2L311.7 187.8L312.4 187.7L313.1 187.7L313.8 187.8L314.5 187.8L315.2 187.8L315.9 187.8L316.6 187.8L317.3 187.9L318.0 187.9L318.7 187.9L319.4 187.9L320.1 188.0L320.8 188.0L321.5 188.0L322.2 188.0L322.9 188.1L323.6 188.1L324.3 188.1L325.0 188.1L325.7 188.1L326.4 188.2L327.1 188.2L327.8 188.2L328.5 188.2L329.2 188.3L329.9 188.3L330.6 188.3L331.3 188.3L332.0 188.3L332.7 188.4L333.4 188.4L334.2 188.4L334.9 188.4L335.6 188.5L336.3 188.5L337.0 188.5L337.7 188.5L338.4 188.5L339.1 188.6L339.8 188.6L340.5 188.6L341.2 188.6L341.9 188.6L342.6 188.7L343.3 188.7L344.0 188.7L344.7 188.7L345.4 188.7L346.1 188.8L346.8 188.8L347.5 188.8L348.2 188.8L348.9 188.8L349.6 188.8L350.3 188.9L351.0 188.9L351.7 188.9L352.4 188.9L353.1 188.9L353.8 189.0L354.5 189.0L355.2 189.0L355.9 189.0L356.6 189.0L357.3 189.0L358.0 189.1L358.7 189.1L359.4 189.1L360.1 189.1L360.8 189.1L361.5 189.1L362.2 189.1L362.9 189.1L363.6 189.2L364.3 189.2L365.0 189.2L365.7 189.2L366.4 189.2L367.1 189.2L367.8 189.2L368.5 189.2L369.2 189.3L369.9 189.3L370.6 189.3L371.3 189.3L372.0 189.3L372.7 189.3L373.4 189.3L374.1 189.3L374.8 189.4L375.5 189.4L376.2 189.4L376.9 189.4L377.6 189.4L378.3 189.4L379.0 189.4L379.7 189.4L380.4 189.5L381.1 189.5L381.8 189.5L382.5 189.5L383.2 189.5" fill="none" stroke="#ff0000" stroke-width="1.05" stroke-linejoin="round"/>
<path d="M402.5 189.3L403.2 193.5L403.9 194.0L404.6 201.6L405.3 200.1L406.0 207.7L406.7 202.8L407.4 219.0L408.1 201.7L408.8 205.2L409.5 199.5L410.2 206.0L410.9 201.8L411.6 207.3L412.3 206.4L413.0 210.8L413.7 204.6L414.4 211.2L415.1 206.2L415.8 212.3L416.5 206.2L417.2 213.6L417.9 204.4L418.6 215.9L419.3 208.3L420.0 214.2L420.7 202.1L421.4 219.0L422.1 203.6L422.8 214.9L423.5 205.0L424.2 214.0L424.9 204.5L425.6 210.2L426.3 200.5L427.0 210.8L427.7 206.3L428.4 215.5L429.1 206.3L429.8 216.2L430.5 207.4L431.2 217.2L431.9 209.3L432.6 218.6L433.3 210.1L434.0 218.3L434.7 210.6L435.4 218.2L436.1 211.8L436.8 219.9L437.5 214.0L438.2 228.2L438.9 223.7L439.6 235.6L440.3 228.7L441.0 238.6L441.7 230.9L442.4 236.8L443.1 226.4L443.8 233.9L444.5 219.0L445.2 229.6L445.9 224.6L446.6 230.7L447.3 226.4L448.0 231.2L448.7 222.1L449.4 232.9L450.1 225.0L450.8 231.7L451.5 224.2L452.3 230.5L453.0 220.1L453.7 229.7L454.4 222.4L455.1 226.5L455.8 220.9L456.5 221.1L457.2 214.4L457.9 219.9L458.6 210.6L459.3 217.2L460.0 206.9L460.7 211.4L461.4 207.4L462.1 214.4L462.8 208.8L463.5 213.2L464.2 208.6L464.9 213.7L465.6 205.5L466.3 212.5L467.0 208.4L467.7 211.0L468.4 207.3L469.1 211.5L469.8 206.6L470.5 209.6L471.2 206.1L471.9 209.3L472.6 206.2L473.3 208.0L474.0 204.7L474.7 206.9L475.4 202.7L476.1 206.5L476.8 201.1L477.5 205.6L478.2 202.2L478.9 204.6L479.6 198.5L480.3 204.4L481.0 200.1L481.7 205.2L482.4 201.8L483.1 206.1L483.8 201.8L484.5 205.5L485.2 201.9L485.9 204.3L486.6 203.5L487.3 217.8L488.0 211.0L488.7 237.6L489.4 205.7L490.1 218.0L490.8 207.1L491.5 214.2L492.2 208.0L492.9 216.8L493.6 206.9L494.3 216.2L495.0 209.2L495.7 214.6L496.4 207.8L497.1 212.7L497.8 205.4L498.5 208.1L499.2 203.1L499.9 206.9L500.6 203.3L501.3 204.8" fill="none" stroke="#000" stroke-width="1.05" stroke-linejoin="round"/>
<path d="M402.5 189.1L403.2 189.1L403.9 189.0L404.6 189.0L405.3 188.9L406.0 188.9L406.7 188.8L407.4 188.8L408.1 188.7L408.8 188.7L409.5 188.7L410.2 188.6L410.9 188.6L411.6 188.5L412.3 188.5L413.0 188.4L413.7 188.4L414.4 188.3L415.1 188.3L415.8 188.2L416.5 188.2L417.2 188.2L417.9 188.1L418.6 188.1L419.3 188.0L420.0 188.0L420.7 187.9L421.4 187.8L422.1 187.8L422.8 187.7L423.5 187.7L424.2 187.6L424.9 187.6L425.6 187.5L426.3 187.5L427.0 187.4L427.7 187.3L428.4 187.3L429.1 187.2L429.8 187.2L430.5 187.1L431.2 187.1L431.9 187.0L432.6 186.9L433.3 186.9L434.0 186.8L434.7 186.8L435.4 186.7L436.1 186.7L436.8 186.6L437.5 186.6L438.2 186.5L438.9 186.4L439.6 186.4L440.3 186.4L441.0 186.4L441.7 186.4L442.4 186.4L443.1 186.4L443.8 186.4L444.5 186.4L445.2 186.4L445.9 186.4L446.6 186.4L447.3 186.4L448.0 186.4L448.7 186.4L449.4 186.4L450.1 186.4L450.8 186.4L451.5 186.4L452.3 186.4L453.0 186.4L453.7 186.4L454.4 186.4L455.1 186.4L455.8 186.4L456.5 186.4L457.2 186.4L457.9 186.4L458.6 186.4L459.3 186.4L460.0 186.4L460.7 186.4L461.4 186.4L462.1 186.4L462.8 186.4L463.5 186.4L464.2 186.4L464.9 186.4L465.6 186.4L466.3 186.4L467.0 186.4L467.7 186.4L468.4 186.4L469.1 186.4L469.8 186.4L470.5 186.4L471.2 186.4L471.9 186.4L472.6 186.4L473.3 186.4L474.0 186.4L474.7 186.4L475.4 186.4L476.1 186.4L476.8 186.4L477.5 186.4L478.2 186.4L478.9 186.4L479.6 186.4L480.3 186.4L481.0 186.5L481.7 186.5L482.4 186.5L483.1 186.6L483.8 186.6L484.5 186.6L485.2 186.7L485.9 186.7L486.6 186.7L487.3 186.8L488.0 186.8L488.7 186.8L489.4 186.9L490.1 186.9L490.8 186.9L491.5 187.0L492.2 187.0L492.9 187.0L493.6 187.1L494.3 187.1L495.0 187.1L495.7 187.2L496.4 187.2L497.1 187.2L497.8 187.3L498.5 187.3L499.2 187.4L499.9 187.4L500.6 187.4L501.3 187.5" fill="none" stroke="#ff0000" stroke-width="1.05" stroke-linejoin="round"/>
<path d="M49.2 320.8L49.9 321.9L50.6 321.1L51.3 322.3L52.0 321.4L52.7 322.7L53.4 321.5L54.1 322.2L54.8 321.2L55.5 322.6L56.2 321.4L56.9 322.7L57.6 321.3L58.3 323.2L59.0 321.6L59.7 322.7L60.4 321.5L61.1 322.6L61.8 322.0L62.5 322.6L63.2 321.3L63.9 322.9L64.6 322.0L65.3 324.2L66.0 322.4L66.7 323.6L67.4 322.0L68.1 323.3L68.8 321.8L69.5 323.3L70.2 322.1L70.9 322.4L71.6 321.1L72.3 321.9L73.0 319.2L73.7 319.6L74.4 315.4L75.1 318.2L75.8 312.9L76.5 316.5L77.2 308.1L77.9 312.1L78.6 307.1L79.3 311.1L80.0 305.5L80.7 312.0L81.4 304.4L82.1 310.0L82.8 303.5L83.5 311.9L84.2 305.7L84.9 315.2L85.6 305.4L86.3 317.0L87.0 303.7L87.7 311.9L88.4 296.2L89.1 311.6L89.8 297.8L90.5 310.4L91.2 300.3L91.9 310.7L92.6 302.7L93.3 310.1L94.0 304.5L94.7 306.8L95.4 303.1L96.1 308.9L96.8 304.7L97.5 309.1L98.2 304.1L99.0 310.2L99.7 303.8L100.4 313.9L101.1 307.0L101.8 314.8L102.5 308.7L103.2 315.1L103.9 307.2L104.6 312.5L105.3 307.2L106.0 317.3L106.7 311.6L107.4 318.3L108.1 309.7L108.8 314.2L109.5 308.2L110.2 319.6L110.9 309.0L111.6 320.8L112.3 308.7L113.0 316.2L113.7 307.0L114.4 316.0L115.1 309.5L115.8 318.5L116.5 310.2L117.2 316.2L117.9 303.0L118.6 316.7L119.3 310.1L120.0 318.9L120.7 316.3L121.4 321.9L122.1 317.3L122.8 323.1L123.5 321.5L124.2 323.8L124.9 323.0L125.6 324.0L126.3 323.3L127.0 324.3L127.7 323.5L128.4 324.6L129.1 324.1L129.8 324.9L130.5 324.8L131.2 326.2L131.9 325.0L132.6 325.4L133.3 324.9L134.0 325.3L134.7 324.3L135.4 325.1L136.1 323.9L136.8 325.0L137.5 323.4L138.2 325.0L138.9 323.3L139.6 324.6L140.3 323.5L141.0 324.9L141.7 322.6L142.4 324.6L143.1 322.8L143.8 324.3L144.5 322.9L145.2 324.3L145.9 323.1L146.6 323.9L147.3 322.5L148.0 323.9" fill="none" stroke="#000" stroke-width="1.05" stroke-linejoin="round"/>
<path d="M49.2 320.6 L49.8 320.1 L50.4 319.3 L51.0 318.0 L51.6 317.8 L52.2 317.2 L52.8 317.1 L53.4 316.5 L54.0 316.8 L54.6 316.4 L55.2 316.1 L55.8 315.4 L56.4 316.0 L57.0 314.8 L57.6 315.2 L58.2 315.0 L58.8 315.2 L59.4 316.0 L60.0 316.1 L60.6 314.9 L61.2 315.7 L61.9 316.5 L62.5 316.4 L63.1 316.0 L63.7 316.4 L64.3 315.7 L64.9 315.6 L65.5 316.2 L66.1 315.2 L66.7 316.7 L67.3 315.8 L67.9 316.0 L68.5 317.0 L69.1 316.1 L69.7 316.4 L70.3 316.3 L70.9 314.6 L71.5 313.6 L72.1 312.7 L72.7 312.2 L73.3 312.8 L73.9 310.6 L74.5 308.8 L75.1 310.0 L75.7 306.3 L76.3 307.7 L76.9 306.0 L77.5 304.3 L78.1 303.6 L78.7 300.7 L79.3 301.3 L79.9 300.1 L80.5 298.0 L81.1 300.3 L81.7 295.8 L82.3 296.1 L82.9 294.7 L83.5 297.7 L84.1 296.4 L84.7 293.4 L85.3 296.2 L85.9 294.2 L86.6 295.0 L87.2 292.2 L87.8 288.6 L88.4 290.2 L89.0 293.7 L89.6 292.8 L90.2 288.9 L90.8 290.6 L91.4 289.2 L92.0 291.1 L92.6 288.6 L93.2 290.5 L93.8 288.1 L94.4 289.6 L95.0 286.6 L95.6 286.9 L96.2 287.4 L96.8 291.6 L97.4 288.5 L98.0 289.3 L98.6 287.4 L99.2 293.2 L99.8 294.1 L100.4 295.7 L101.0 295.6 L101.6 295.7 L102.2 298.5 L102.8 298.3 L103.4 297.4 L104.0 296.8 L104.6 297.1 L105.2 298.0 L105.8 299.6 L106.4 299.0 L107.0 298.3 L107.6 299.6 L108.2 299.6 L108.8 300.6 L109.4 300.1 L110.0 298.3 L110.6 302.2 L111.3 300.9 L111.9 302.5 L112.5 303.3 L113.1 301.9 L113.7 300.0 L114.3 300.2 L114.9 300.6 L115.5 298.8 L116.1 303.2 L116.7 302.4 L117.3 303.1 L117.9 301.1 L118.5 300.3 L119.1 303.4 L119.7 301.5 L120.3 300.5 L120.9 301.4 L121.5 302.2 L122.1 304.0 L122.7 305.7 L123.3 305.7 L123.9 304.4 L124.5 306.1 L125.1 305.1 L125.7 305.0 L126.3 302.8 L126.9 305.7 L127.5 307.2 L128.1 306.0 L128.7 306.2 L129.3 305.9 L129.9 303.6 L130.5 304.5 L131.1 302.9 L131.7 303.8 L132.3 307.1 L132.9 302.5 L133.5 304.1 L134.1 303.7 L134.7 298.7 L135.3 302.9 L136.0 299.5 L136.6 301.4 L137.2 306.3 L137.8 306.2 L138.4 304.5 L139.0 307.7 L139.6 307.0 L140.2 306.2 L140.8 306.4 L141.4 305.2 L142.0 304.6 L142.6 306.2 L143.2 304.6 L143.8 304.8 L144.4 305.0 L145.0 304.9 L145.6 305.7 L146.2 307.8 L146.8 307.3 L147.4 308.1 L148.0 307.5 L148.0 310.9 L147.4 309.9 L146.8 310.8 L146.2 310.9 L145.6 309.6 L145.0 309.7 L144.4 308.6 L143.8 310.3 L143.2 309.7 L142.6 308.0 L142.0 309.9 L141.4 308.6 L140.8 309.8 L140.2 309.8 L139.6 309.5 L139.0 308.8 L138.4 310.8 L137.8 311.9 L137.2 311.2 L136.6 307.5 L136.0 307.8 L135.3 310.1 L134.7 308.1 L134.1 310.7 L133.5 310.0 L132.9 310.2 L132.3 311.5 L131.7 310.3 L131.1 312.1 L130.5 311.4 L129.9 309.0 L129.3 309.0 L128.7 310.4 L128.1 311.6 L127.5 308.2 L126.9 309.6 L126.3 307.5 L125.7 307.5 L125.1 308.0 L124.5 308.2 L123.9 309.4 L123.3 307.4 L122.7 308.2 L122.1 307.9 L121.5 306.1 L120.9 304.8 L120.3 306.7 L119.7 305.3 L119.1 305.7 L118.5 307.3 L117.9 306.5 L117.3 305.2 L116.7 307.7 L116.1 306.7 L115.5 304.7 L114.9 305.1 L114.3 307.2 L113.7 306.7 L113.1 304.7 L112.5 306.5 L111.9 306.3 L111.3 304.2 L110.6 305.4 L110.0 307.6 L109.4 302.7 L108.8 304.6 L108.2 304.8 L107.6 304.7 L107.0 303.1 L106.4 303.5 L105.8 304.0 L105.2 300.4 L104.6 300.1 L104.0 301.6 L103.4 301.1 L102.8 301.6 L102.2 299.5 L101.6 300.6 L101.0 297.9 L100.4 297.0 L99.8 296.7 L99.2 298.0 L98.6 295.6 L98.0 295.0 L97.4 295.8 L96.8 293.5 L96.2 292.5 L95.6 293.3 L95.0 292.8 L94.4 293.2 L93.8 294.6 L93.2 294.7 L92.6 294.6 L92.0 293.8 L91.4 297.2 L90.8 294.6 L90.2 294.3 L89.6 298.2 L89.0 297.3 L88.4 299.1 L87.8 297.1 L87.2 298.2 L86.6 296.1 L85.9 297.1 L85.3 297.8 L84.7 298.1 L84.1 300.3 L83.5 300.5 L82.9 300.0 L82.3 301.7 L81.7 300.1 L81.1 303.1 L80.5 302.1 L79.9 304.2 L79.3 302.7 L78.7 306.9 L78.1 305.5 L77.5 308.8 L76.9 309.7 L76.3 309.1 L75.7 311.5 L75.1 310.8 L74.5 312.5 L73.9 313.1 L73.3 313.1 L72.7 314.3 L72.1 315.4 L71.5 316.3 L70.9 317.2 L70.3 316.9 L69.7 317.8 L69.1 317.9 L68.5 317.9 L67.9 317.1 L67.3 317.4 L66.7 317.7 L66.1 317.7 L65.5 317.3 L64.9 317.8 L64.3 317.4 L63.7 317.5 L63.1 318.0 L62.5 317.7 L61.9 317.6 L61.2 317.0 L60.6 317.1 L60.0 317.2 L59.4 317.3 L58.8 317.2 L58.2 317.3 L57.6 317.1 L57.0 317.7 L56.4 317.6 L55.8 317.1 L55.2 317.9 L54.6 318.9 L54.0 318.1 L53.4 318.1 L52.8 318.7 L52.2 319.4 L51.6 318.9 L51.0 319.6 L50.4 319.8 L49.8 320.9 L49.2 321.3Z" fill="#ff0000"/>
<path d="M49.2 320.5L49.9 320.8L50.6 317.1L51.3 320.1L52.0 316.5L52.7 319.6L53.4 316.1L54.1 318.1L54.8 314.9L55.5 318.8L56.2 314.9L56.9 317.6L57.6 312.7L58.3 318.9L59.0 315.7L59.7 318.3L60.4 315.1L61.1 317.8L61.8 314.7L62.5 317.8L63.2 313.7L63.9 317.7L64.6 314.9L65.3 317.8L66.0 315.3L66.7 317.8L67.4 315.3L68.1 318.8L68.8 316.2L69.5 318.4L70.2 316.6L70.9 317.8L71.6 313.9L72.3 316.2L73.0 312.1L73.7 314.1L74.4 308.4L75.1 313.4L75.8 305.2L76.5 311.3L77.2 301.0L77.9 306.0L78.6 298.2L79.3 304.4L80.0 296.1L80.7 306.0L81.4 292.7L82.1 302.5L82.8 291.9L83.5 302.0L84.2 291.6L84.9 302.2L85.6 294.3L86.3 299.9L87.0 286.3L87.7 294.0L88.4 283.9L89.1 296.2L89.8 283.0L90.5 296.7L91.2 282.3L91.9 298.6L92.6 288.6L93.3 295.9L94.0 288.2L94.7 296.2L95.4 278.5L96.1 293.1L96.8 287.4L97.5 293.2L98.2 284.3L99.0 297.6L99.7 288.3L100.4 299.0L101.1 294.1L101.8 302.1L102.5 298.1L103.2 302.0L103.9 294.9L104.6 300.5L105.3 289.2L106.0 304.7L106.7 299.3L107.4 308.6L108.1 292.3L108.8 304.8L109.5 298.5L110.2 310.8L110.9 298.0L111.6 307.8L112.3 296.3L113.0 307.8L113.7 294.0L114.4 303.5L115.1 295.4L115.8 311.9L116.5 298.1L117.2 313.0L117.9 301.5L118.6 309.8L119.3 299.2L120.0 308.4L120.7 302.7L121.4 307.4L122.1 305.0L122.8 309.3L123.5 302.8L124.2 308.7L124.9 304.7L125.6 312.3L126.3 301.9L127.0 310.1L127.7 304.1L128.4 310.7L129.1 302.5L129.8 313.4L130.5 299.8L131.2 316.2L131.9 302.1L132.6 310.7L133.3 300.1L134.0 308.4L134.7 291.5L135.4 309.6L136.1 299.8L136.8 311.7L137.5 302.7L138.2 313.5L138.9 301.8L139.6 311.9L140.3 303.1L141.0 311.5L141.7 301.7L142.4 312.3L143.1 299.2L143.8 310.8L144.5 304.0L145.2 312.9L145.9 306.8L146.6 310.5L147.3 307.6L148.0 312.0" fill="none" stroke="#ff0000" stroke-width="1.05" stroke-linejoin="round"/>
<path d="M167.1 322.5L167.8 324.8L168.5 321.2L169.2 326.1L169.9 322.4L170.6 325.6L171.3 322.7L172.0 330.0L172.7 320.4L173.4 324.7L174.1 320.8L174.8 324.2L175.5 320.4L176.2 326.0L176.9 321.6L177.6 326.4L178.3 323.1L179.0 330.5L179.7 323.5L180.4 326.1L181.1 322.0L181.8 324.6L182.5 320.8L183.2 324.0L183.9 320.0L184.6 322.8L185.3 321.6L186.0 323.2L186.7 322.1L187.4 323.2L188.1 321.8L188.8 322.6L189.5 321.3L190.2 321.9L190.9 320.5L191.6 320.9L192.3 319.4L193.0 319.7L193.7 316.1L194.4 316.9L195.1 312.7L195.8 314.9L196.5 311.8L197.2 313.7L197.9 310.2L198.6 312.8L199.3 306.4L200.0 309.7L200.7 306.0L201.4 309.4L202.1 304.3L202.8 307.7L203.5 302.9L204.2 309.2L204.9 300.6L205.6 309.2L206.3 293.2L207.0 308.7L207.7 298.4L208.4 309.1L209.1 302.7L209.8 309.1L210.5 304.6L211.2 309.3L211.9 299.3L212.6 307.5L213.3 295.2L214.0 308.9L214.7 300.3L215.4 308.5L216.1 303.0L216.9 309.6L217.6 308.2L218.3 327.3L219.0 299.1L219.7 307.1L220.4 300.0L221.1 307.9L221.8 302.4L222.5 308.7L223.2 302.1L223.9 309.1L224.6 302.1L225.3 309.3L226.0 302.9L226.7 311.7L227.4 302.1L228.1 320.0L228.8 303.4L229.5 313.4L230.2 305.9L230.9 321.8L231.6 306.1L232.3 315.2L233.0 306.9L233.7 316.0L234.4 309.4L235.1 314.0L235.8 307.9L236.5 315.6L237.2 309.5L237.9 315.2L238.6 311.1L239.3 318.1L240.0 316.1L240.7 321.0L241.4 318.2L242.1 320.9L242.8 319.2L243.5 321.5L244.2 320.6L244.9 321.9L245.6 321.2L246.3 322.3L247.0 321.9L247.7 322.8L248.4 322.6L249.1 323.5L249.8 322.9L250.5 324.6L251.2 323.0L251.9 323.6L252.6 322.7L253.3 323.2L254.0 322.5L254.7 323.2L255.4 322.3L256.1 323.2L256.8 322.1L257.5 323.3L258.2 322.5L258.9 323.1L259.6 321.9L260.3 323.6L261.0 322.1L261.7 323.1L262.4 322.4L263.1 323.5L263.8 322.0L264.5 325.3L265.2 322.3L265.9 323.0" fill="none" stroke="#000" stroke-width="1.05" stroke-linejoin="round"/>
<path d="M167.1 322.2 L167.7 320.9 L168.3 319.9 L168.9 317.7 L169.5 316.4 L170.1 314.8 L170.7 314.3 L171.3 314.8 L171.9 312.6 L172.5 314.7 L173.1 314.5 L173.7 315.1 L174.3 314.9 L174.9 314.7 L175.5 314.4 L176.1 313.8 L176.7 312.9 L177.3 312.0 L177.9 312.4 L178.5 311.2 L179.1 311.5 L179.8 310.8 L180.4 311.0 L181.0 311.7 L181.6 311.8 L182.2 312.3 L182.8 312.9 L183.4 312.5 L184.0 312.5 L184.6 313.1 L185.2 313.4 L185.8 313.7 L186.4 312.7 L187.0 313.5 L187.6 314.0 L188.2 315.2 L188.8 315.0 L189.4 315.8 L190.0 316.1 L190.6 316.5 L191.2 316.4 L191.8 315.3 L192.4 310.7 L193.0 309.2 L193.6 310.1 L194.2 312.3 L194.8 309.7 L195.4 308.9 L196.0 307.4 L196.6 302.9 L197.2 301.7 L197.8 301.1 L198.4 301.1 L199.0 298.0 L199.6 297.4 L200.2 297.1 L200.8 297.1 L201.4 297.5 L202.0 297.0 L202.6 293.7 L203.2 295.0 L203.8 294.5 L204.5 292.3 L205.1 289.8 L205.7 287.7 L206.3 285.1 L206.9 284.4 L207.5 284.1 L208.1 283.9 L208.7 287.4 L209.3 286.7 L209.9 285.3 L210.5 287.7 L211.1 284.7 L211.7 283.3 L212.3 284.1 L212.9 285.1 L213.5 285.5 L214.1 284.8 L214.7 285.0 L215.3 284.2 L215.9 288.3 L216.5 290.4 L217.1 288.3 L217.7 287.9 L218.3 290.3 L218.9 292.3 L219.5 289.6 L220.1 292.4 L220.7 292.6 L221.3 293.2 L221.9 293.6 L222.5 293.3 L223.1 295.4 L223.7 294.1 L224.3 292.4 L224.9 296.7 L225.5 296.3 L226.1 295.7 L226.7 294.7 L227.3 291.0 L227.9 293.5 L228.5 291.9 L229.2 294.6 L229.8 289.8 L230.4 293.6 L231.0 294.6 L231.6 292.5 L232.2 291.6 L232.8 295.6 L233.4 296.3 L234.0 298.8 L234.6 298.7 L235.2 294.5 L235.8 297.0 L236.4 297.6 L237.0 297.6 L237.6 299.2 L238.2 296.5 L238.8 300.0 L239.4 296.4 L240.0 298.6 L240.6 297.8 L241.2 296.6 L241.8 299.0 L242.4 297.8 L243.0 297.0 L243.6 301.6 L244.2 296.7 L244.8 297.6 L245.4 296.2 L246.0 302.3 L246.6 302.2 L247.2 298.1 L247.8 297.2 L248.4 298.6 L249.0 298.3 L249.6 295.7 L250.2 289.2 L250.8 287.7 L251.4 292.6 L252.0 288.3 L252.6 283.7 L253.2 285.8 L253.9 286.2 L254.5 284.3 L255.1 288.0 L255.7 293.5 L256.3 286.6 L256.9 290.7 L257.5 285.3 L258.1 292.9 L258.7 289.7 L259.3 285.9 L259.9 294.4 L260.5 295.1 L261.1 295.8 L261.7 291.0 L262.3 290.4 L262.9 288.3 L263.5 294.7 L264.1 293.0 L264.7 293.4 L265.3 301.0 L265.9 297.3 L265.9 306.2 L265.3 306.0 L264.7 302.7 L264.1 303.0 L263.5 305.4 L262.9 302.4 L262.3 304.2 L261.7 299.1 L261.1 304.4 L260.5 298.3 L259.9 302.7 L259.3 302.9 L258.7 301.4 L258.1 298.2 L257.5 297.2 L256.9 298.1 L256.3 303.0 L255.7 302.8 L255.1 302.6 L254.5 297.0 L253.9 301.2 L253.2 298.3 L252.6 297.5 L252.0 302.4 L251.4 300.8 L250.8 298.8 L250.2 300.3 L249.6 304.2 L249.0 306.7 L248.4 306.8 L247.8 306.3 L247.2 309.8 L246.6 304.6 L246.0 304.8 L245.4 306.9 L244.8 305.9 L244.2 303.3 L243.6 306.9 L243.0 309.0 L242.4 306.5 L241.8 304.8 L241.2 304.8 L240.6 303.7 L240.0 305.4 L239.4 304.1 L238.8 302.9 L238.2 299.9 L237.6 300.0 L237.0 302.9 L236.4 300.7 L235.8 302.3 L235.2 300.8 L234.6 301.1 L234.0 301.5 L233.4 303.0 L232.8 302.1 L232.2 299.8 L231.6 299.4 L231.0 298.2 L230.4 299.8 L229.8 300.6 L229.2 300.8 L228.5 298.9 L227.9 300.3 L227.3 297.7 L226.7 298.1 L226.1 300.1 L225.5 300.1 L224.9 299.9 L224.3 298.4 L223.7 298.0 L223.1 296.1 L222.5 297.8 L221.9 297.1 L221.3 296.7 L220.7 294.4 L220.1 296.2 L219.5 295.9 L218.9 295.8 L218.3 293.3 L217.7 293.5 L217.1 293.9 L216.5 295.6 L215.9 293.1 L215.3 290.9 L214.7 291.8 L214.1 292.2 L213.5 289.5 L212.9 289.0 L212.3 288.2 L211.7 288.7 L211.1 288.8 L210.5 290.8 L209.9 290.8 L209.3 290.0 L208.7 291.1 L208.1 291.6 L207.5 292.0 L206.9 288.6 L206.3 293.4 L205.7 292.2 L205.1 295.8 L204.5 295.9 L203.8 294.8 L203.2 296.8 L202.6 297.8 L202.0 299.2 L201.4 298.3 L200.8 300.7 L200.2 301.0 L199.6 300.8 L199.0 301.1 L198.4 303.6 L197.8 304.3 L197.2 305.4 L196.6 306.9 L196.0 308.7 L195.4 309.7 L194.8 311.4 L194.2 313.3 L193.6 312.9 L193.0 312.1 L192.4 314.1 L191.8 316.7 L191.2 316.9 L190.6 316.7 L190.0 316.8 L189.4 317.0 L188.8 316.8 L188.2 316.0 L187.6 315.6 L187.0 315.7 L186.4 315.1 L185.8 315.3 L185.2 314.8 L184.6 314.9 L184.0 314.3 L183.4 313.6 L182.8 313.8 L182.2 313.7 L181.6 313.3 L181.0 312.3 L180.4 313.4 L179.8 312.8 L179.1 313.7 L178.5 314.2 L177.9 313.7 L177.3 314.1 L176.7 314.1 L176.1 315.2 L175.5 314.9 L174.9 315.7 L174.3 315.8 L173.7 315.8 L173.1 315.9 L172.5 315.6 L171.9 315.7 L171.3 315.7 L170.7 316.2 L170.1 317.0 L169.5 318.7 L168.9 319.8 L168.3 320.7 L167.7 321.3 L167.1 322.5Z" fill="#ff0000"/>
<path d="M167.1 322.2L167.8 321.3L168.5 317.6L169.2 319.7L169.9 315.8L170.6 317.0L171.3 310.2L172.0 317.0L172.7 312.2L173.4 315.4L174.1 314.2L174.8 315.7L175.5 313.4L176.2 315.1L176.9 312.1L177.6 314.0L178.3 311.6L179.0 313.6L179.7 306.8L180.4 312.0L181.1 309.2L181.8 313.0L182.5 310.5L183.2 315.1L183.9 311.5L184.6 315.3L185.3 309.6L186.0 316.2L186.7 312.4L187.4 316.8L188.1 314.3L188.8 317.2L189.5 315.5L190.2 317.0L190.9 315.5L191.6 317.4L192.3 302.7L193.0 314.4L193.7 308.6L194.4 313.6L195.1 307.8L195.8 308.0L196.5 302.2L197.2 306.4L197.9 297.6L198.6 303.7L199.3 298.2L200.0 302.4L200.7 296.8L201.4 300.2L202.1 292.6L202.8 296.1L203.5 291.2L204.2 297.0L204.9 289.5L205.6 297.7L206.3 272.7L207.0 294.3L207.7 282.3L208.4 295.7L209.1 286.9L209.8 294.7L210.5 276.8L211.2 291.8L211.9 281.8L212.6 293.3L213.3 284.1L214.0 291.9L214.7 279.5L215.4 293.4L216.1 285.9L216.9 296.4L217.6 289.7L218.3 298.8L219.0 283.0L219.7 294.6L220.4 287.1L221.1 298.2L221.8 286.9L222.5 296.0L223.2 289.8L223.9 296.9L224.6 289.5L225.3 297.9L226.0 289.0L226.7 295.9L227.4 290.8L228.1 299.4L228.8 285.3L229.5 296.7L230.2 283.0L230.9 297.9L231.6 284.9L232.3 300.1L233.0 286.7L233.7 302.3L234.4 291.2L235.1 308.2L235.8 291.3L236.5 305.9L237.2 291.2L237.9 303.5L238.6 292.5L239.3 306.0L240.0 293.1L240.7 307.0L241.4 295.5L242.1 310.3L242.8 297.7L243.5 308.9L244.2 287.7L244.9 309.2L245.6 289.3L246.3 308.2L247.0 294.4L247.7 315.0L248.4 295.5L249.1 311.0L249.8 291.9L250.5 308.3L251.2 277.8L251.9 298.4L252.6 271.4L253.3 291.0L254.0 283.6L254.7 304.5L255.4 277.7L256.1 310.1L256.8 290.2L257.5 309.7L258.2 286.2L258.9 300.9L259.6 275.5L260.3 307.3L261.0 277.8L261.7 297.4L262.4 285.3L263.1 301.2L263.8 288.4L264.5 298.1L265.2 287.8L265.9 303.3" fill="none" stroke="#ff0000" stroke-width="1.05" stroke-linejoin="round"/>
<path d="M284.4 322.5L285.1 322.9L285.8 322.4L286.5 323.0L287.2 322.0L287.9 323.3L288.6 322.0L289.3 323.1L290.0 322.0L290.7 323.6L291.4 322.1L292.1 323.8L292.8 322.1L293.5 323.9L294.2 321.9L294.9 323.4L295.6 322.2L296.3 323.7L297.0 322.2L297.7 323.2L298.4 322.1L299.1 323.4L299.8 322.1L300.5 323.4L301.2 322.0L301.9 323.0L302.6 322.0L303.3 323.2L304.0 322.0L304.7 323.3L305.4 322.3L306.1 322.8L306.8 322.3L307.5 322.8L308.2 322.1L308.9 320.8L309.6 315.8L310.3 313.9L311.0 303.6L311.7 307.5L312.4 298.2L313.1 305.5L313.8 301.7L314.5 307.1L315.2 302.9L315.9 307.8L316.6 303.0L317.3 308.4L318.0 303.9L318.7 307.9L319.4 303.7L320.1 308.8L320.8 304.9L321.5 310.5L322.2 304.8L322.9 307.6L323.6 303.8L324.3 307.7L325.0 305.0L325.7 309.3L326.4 306.3L327.1 311.8L327.8 304.5L328.5 308.7L329.2 306.1L329.9 308.5L330.6 306.8L331.3 309.7L332.0 308.8L332.7 311.6L333.4 309.1L334.2 313.3L334.9 309.4L335.6 316.4L336.3 309.8L337.0 311.1L337.7 307.9L338.4 309.6L339.1 308.5L339.8 311.6L340.5 310.0L341.2 313.2L341.9 310.2L342.6 316.4L343.3 308.8L344.0 309.4L344.7 308.8L345.4 312.5L346.1 309.2L346.8 317.8L347.5 309.6L348.2 314.1L348.9 309.1L349.6 310.3L350.3 305.3L351.0 307.4L351.7 306.1L352.4 306.9L353.1 306.1L353.8 307.7L354.5 306.7L355.2 308.1L355.9 307.5L356.6 312.2L357.3 311.9L358.0 319.4L358.7 316.8L359.4 323.4L360.1 320.7L360.8 325.5L361.5 321.6L362.2 327.1L362.9 324.1L363.6 327.2L364.3 323.3L365.0 327.6L365.7 325.1L366.4 328.6L367.1 326.6L367.8 332.1L368.5 328.9L369.2 335.6L369.9 325.9L370.6 328.8L371.3 324.9L372.0 325.5L372.7 324.3L373.4 324.9L374.1 323.6L374.8 325.0L375.5 323.4L376.2 324.4L376.9 323.0L377.6 323.8L378.3 322.8L379.0 324.5L379.7 322.8L380.4 324.4L381.1 323.3L381.8 324.8L382.5 325.1L383.2 326.1" fill="none" stroke="#000" stroke-width="1.05" stroke-linejoin="round"/>
<path d="M284.4 322.1L285.1 320.5L285.8 317.8L286.5 316.8L287.2 314.8L287.9 314.1L288.6 311.9L289.3 311.7L290.0 308.0L290.7 310.7L291.4 310.8L292.1 313.1L292.8 313.6L293.5 315.8L294.2 315.6L294.9 317.5L295.6 315.1L296.3 315.5L297.0 314.3L297.7 314.7L298.4 313.0L299.1 314.5L299.8 314.0L300.5 315.5L301.2 314.6L301.9 315.4L302.6 314.9L303.3 316.1L304.0 315.1L304.7 316.3L305.4 315.5L306.1 316.6L306.8 316.3L307.5 317.2L308.2 316.9L308.9 318.5L309.6 302.0L310.3 305.4L311.0 294.2L311.7 298.9L312.4 293.3L313.1 297.8L313.8 294.5L314.5 297.0L315.2 293.4L315.9 296.3L316.6 293.0L317.3 296.0L318.0 293.2L318.7 298.0L319.4 294.6L320.1 299.0L320.8 291.3L321.5 295.3L322.2 287.0L322.9 294.2L323.6 290.0L324.3 297.0L325.0 291.0L325.7 294.5L326.4 284.0L327.1 294.0L327.8 288.8L328.5 294.8L329.2 293.1L329.9 295.8L330.6 294.2L331.3 298.0L332.0 294.9L332.7 294.5L333.4 286.8L334.2 292.2L334.9 291.6L335.6 295.1L336.3 295.8L337.0 297.3L337.7 295.8L338.4 298.0L339.1 296.1L339.8 298.1L340.5 296.3L341.2 298.6L341.9 297.5L342.6 299.5L343.3 298.4L344.0 300.5L344.7 299.6L345.4 301.8L346.1 300.7L346.8 303.6L347.5 302.2L348.2 304.3L348.9 301.8L349.6 305.3L350.3 301.8L351.0 304.1L351.7 302.3L352.4 303.5L353.1 301.9L353.8 302.2L354.5 299.0L355.2 300.5L355.9 296.4L356.6 304.0L357.3 302.6L358.0 309.3L358.7 306.7L359.4 312.1L360.1 310.8L360.8 314.4L361.5 312.6L362.2 315.7L362.9 312.9L363.6 316.4L364.3 314.7L365.0 318.3L365.7 316.8L366.4 319.3L367.1 314.6L367.8 316.9L368.5 311.5L369.2 313.2L369.9 298.6L370.6 304.2L371.3 301.8L372.0 309.2L372.7 306.9L373.4 312.7L374.1 310.1L374.8 312.5L375.5 311.4L376.2 313.6L376.9 312.5L377.6 314.2L378.3 313.0L379.0 315.0L379.7 313.3L380.4 315.1L381.1 313.9L381.8 316.1L382.5 314.9L383.2 316.8" fill="none" stroke="#ff0000" stroke-width="1.05" stroke-linejoin="round"/>
<path d="M402.5 322.2L403.2 322.1L403.9 320.0L404.6 320.4L405.3 317.4L406.0 319.8L406.7 318.5L407.4 320.6L408.1 318.6L408.8 319.8L409.5 318.9L410.2 319.8L410.9 318.8L411.6 320.3L412.3 319.3L413.0 320.9L413.7 319.8L414.4 321.9L415.1 319.7L415.8 321.4L416.5 320.7L417.2 322.2L417.9 320.0L418.6 322.7L419.3 321.2L420.0 323.0L420.7 320.7L421.4 322.5L422.1 320.4L422.8 322.5L423.5 320.7L424.2 322.5L424.9 320.7L425.6 322.6L426.3 318.6L427.0 317.9L427.7 304.0L428.4 303.9L429.1 292.7L429.8 300.8L430.5 295.9L431.2 301.7L431.9 297.1L432.6 303.6L433.3 298.0L434.0 305.9L434.7 298.9L435.4 304.1L436.1 299.1L436.8 306.6L437.5 299.9L438.2 308.6L438.9 300.6L439.6 306.8L440.3 301.9L441.0 308.1L441.7 302.4L442.4 308.8L443.1 303.4L443.8 311.1L444.5 306.6L445.2 311.0L445.9 306.5L446.6 311.7L447.3 305.1L448.0 311.9L448.7 305.3L449.4 312.0L450.1 306.7L450.8 310.6L451.5 307.2L452.3 312.5L453.0 305.8L453.7 311.8L454.4 305.2L455.1 309.1L455.8 303.3L456.5 309.3L457.2 304.6L457.9 310.4L458.6 304.7L459.3 309.1L460.0 303.7L460.7 312.4L461.4 303.0L462.1 310.5L462.8 303.0L463.5 311.7L464.2 303.1L464.9 309.8L465.6 303.3L466.3 309.5L467.0 306.8L467.7 308.8L468.4 304.9L469.1 308.6L469.8 303.1L470.5 309.0L471.2 303.5L471.9 309.6L472.6 305.5L473.3 313.7L474.0 308.3L474.7 314.4L475.4 310.7L476.1 315.1L476.8 313.4L477.5 316.8L478.2 315.7L478.9 318.1L479.6 316.2L480.3 319.8L481.0 317.8L481.7 320.6L482.4 319.9L483.1 322.5L483.8 320.3L484.5 322.6L485.2 320.8L485.9 323.4L486.6 321.5L487.3 323.3L488.0 322.6L488.7 325.6L489.4 321.6L490.1 323.2L490.8 322.0L491.5 323.6L492.2 321.5L492.9 322.9L493.6 321.1L494.3 322.4L495.0 321.1L495.7 322.4L496.4 320.4L497.1 322.0L497.8 320.6L498.5 322.5L499.2 320.7L499.9 322.3L500.6 320.5L501.3 322.4" fill="none" stroke="#000" stroke-width="1.05" stroke-linejoin="round"/>
<path d="M402.5 321.4L403.2 320.7L403.9 317.8L404.6 318.2L405.3 314.0L406.0 317.9L406.7 314.3L407.4 317.3L408.1 311.2L408.8 315.7L409.5 313.3L410.2 315.3L410.9 313.6L411.6 315.6L412.3 313.9L413.0 316.5L413.7 313.9L414.4 317.0L415.1 313.9L415.8 316.2L416.5 313.9L417.2 316.7L417.9 314.4L418.6 318.2L419.3 314.9L420.0 318.9L420.7 315.5L421.4 318.7L422.1 315.2L422.8 317.7L423.5 315.5L424.2 317.6L424.9 316.1L425.6 317.8L426.3 311.2L427.0 313.3L427.7 300.0L428.4 303.6L429.1 297.5L429.8 302.5L430.5 298.5L431.2 302.4L431.9 298.6L432.6 301.5L433.3 298.9L434.0 302.8L434.7 299.3L435.4 302.7L436.1 299.4L436.8 302.2L437.5 300.5L438.2 304.2L438.9 301.0L439.6 303.0L440.3 300.9L441.0 304.3L441.7 300.8L442.4 305.7L443.1 301.8L443.8 306.1L444.5 303.7L445.2 306.1L445.9 303.7L446.6 306.1L447.3 302.5L448.0 306.8L448.7 303.7L449.4 306.4L450.1 302.9L450.8 306.4L451.5 303.1L452.3 306.3L453.0 303.1L453.7 305.2L454.4 302.1L455.1 304.7L455.8 302.0L456.5 306.1L457.2 303.3L457.9 305.2L458.6 301.8L459.3 305.7L460.0 302.7L460.7 306.0L461.4 302.4L462.1 304.3L462.8 301.5L463.5 306.1L464.2 301.1L464.9 305.3L465.6 300.3L466.3 305.2L467.0 302.2L467.7 306.0L468.4 302.2L469.1 305.0L469.8 302.1L470.5 306.6L471.2 302.9L471.9 307.3L472.6 305.8L473.3 309.6L474.0 306.8L474.7 311.0L475.4 308.2L476.1 313.2L476.8 308.9L477.5 313.7L478.2 309.4L478.9 313.9L479.6 310.2L480.3 314.8L481.0 310.7L481.7 314.5L482.4 311.3L483.1 314.8L483.8 309.7L484.5 313.7L485.2 308.8L485.9 313.1L486.6 304.8L487.3 312.1L488.0 296.8L488.7 308.8L489.4 304.7L490.1 312.1L490.8 305.7L491.5 313.3L492.2 306.1L492.9 311.1L493.6 303.9L494.3 308.6L495.0 297.9L495.7 308.8L496.4 305.9L497.1 310.5L497.8 307.5L498.5 310.9L499.2 309.5L499.9 311.4L500.6 310.1L501.3 311.4" fill="none" stroke="#ff0000" stroke-width="1.05" stroke-linejoin="round"/>
<path d="M49.2 414.8L49.9 415.1L50.6 414.7L51.3 415.5L52.0 415.0L52.7 415.5L53.4 415.2L54.1 415.5L54.8 415.1L55.5 415.6L56.2 415.3L56.9 416.0L57.6 415.3L58.3 415.9L59.0 415.4L59.7 415.8L60.4 415.4L61.1 416.1L61.8 415.5L62.5 416.0L63.2 415.5L63.9 416.0L64.6 415.5L65.3 416.5L66.0 415.8L66.7 416.1L67.4 415.5L68.1 416.0L68.8 415.1L69.5 415.8L70.2 414.9L70.9 415.2L71.6 414.1L72.3 414.4L73.0 413.3L73.7 414.2L74.4 412.8L75.1 413.5L75.8 412.2L76.5 412.9L77.2 409.9L77.9 410.6L78.6 408.0L79.3 409.9L80.0 406.3L80.7 409.2L81.4 404.2L82.1 408.5L82.8 406.1L83.5 408.7L84.2 407.6L84.9 410.7L85.6 407.8L86.3 412.7L87.0 405.2L87.7 408.8L88.4 403.5L89.1 407.9L89.8 404.9L90.5 409.1L91.2 406.9L91.9 410.0L92.6 405.8L93.3 414.2L94.0 406.8L94.7 410.7L95.4 406.4L96.1 409.8L96.8 406.8L97.5 410.4L98.2 405.3L99.0 408.3L99.7 405.0L100.4 408.9L101.1 406.2L101.8 410.2L102.5 403.5L103.2 412.2L103.9 405.2L104.6 409.5L105.3 405.4L106.0 410.1L106.7 406.3L107.4 410.1L108.1 406.2L108.8 409.3L109.5 407.1L110.2 409.6L110.9 408.1L111.6 409.4L112.3 406.8L113.0 410.0L113.7 406.5L114.4 412.0L115.1 406.4L115.8 409.5L116.5 407.0L117.2 410.0L117.9 405.6L118.6 410.3L119.3 407.1L120.0 411.2L120.7 409.9L121.4 413.3L122.1 411.7L122.8 414.1L123.5 413.3L124.2 414.7L124.9 414.6L125.6 415.3L126.3 415.1L127.0 415.6L127.7 415.4L128.4 415.7L129.1 415.7L129.8 416.0L130.5 416.0L131.2 416.2L131.9 416.3L132.6 416.5L133.3 416.6L134.0 416.8L134.7 416.9L135.4 417.3L136.1 416.8L136.8 416.8L137.5 416.7L138.2 416.7L138.9 416.6L139.6 416.6L140.3 416.6L141.0 416.5L141.7 416.5L142.4 416.4L143.1 416.4L143.8 416.3L144.5 416.3L145.2 416.3L145.9 416.2L146.6 416.2L147.3 416.1L148.0 416.0" fill="none" stroke="#000" stroke-width="1.05" stroke-linejoin="round"/>
<path d="M49.2 413.2L49.9 413.7L50.6 413.2L51.3 413.8L52.0 413.3L52.7 413.8L53.4 413.2L54.1 413.7L54.8 413.0L55.5 413.4L56.2 412.9L56.9 413.3L57.6 412.8L58.3 413.2L59.0 412.8L59.7 413.3L60.4 412.9L61.1 413.4L61.8 412.8L62.5 413.4L63.2 412.9L63.9 413.5L64.6 412.9L65.3 413.5L66.0 413.1L66.7 413.7L67.4 413.1L68.1 413.9L68.8 413.2L69.5 414.0L70.2 413.3L70.9 415.0L71.6 411.6L72.3 412.4L73.0 410.5L73.7 411.1L74.4 409.3L75.1 409.7L75.8 407.6L76.5 408.5L77.2 404.5L77.9 406.5L78.6 401.8L79.3 403.6L80.0 399.1L80.7 403.2L81.4 397.5L82.1 400.4L82.8 396.3L83.5 400.9L84.2 395.0L84.9 403.1L85.6 394.5L86.3 397.6L87.0 387.2L87.7 395.5L88.4 388.0L89.1 397.0L89.8 380.4L90.5 395.8L91.2 386.2L91.9 396.8L92.6 387.3L93.3 402.1L94.0 383.5L94.7 398.0L95.4 373.5L96.1 399.8L96.8 378.1L97.5 394.0L98.2 379.4L99.0 391.4L99.7 384.2L100.4 398.1L101.1 392.5L101.8 400.4L102.5 392.3L103.2 398.5L103.9 389.5L104.6 395.8L105.3 387.7L106.0 402.0L106.7 391.7L107.4 399.9L108.1 391.7L108.8 401.8L109.5 393.8L110.2 403.4L110.9 396.8L111.6 402.2L112.3 396.5L113.0 402.5L113.7 398.6L114.4 405.6L115.1 397.4L115.8 401.8L116.5 398.1L117.2 402.7L117.9 394.2L118.6 402.5L119.3 391.9L120.0 402.7L120.7 399.8L121.4 406.5L122.1 404.0L122.8 407.9L123.5 403.9L124.2 408.4L124.9 403.2L125.6 409.3L126.3 398.8L127.0 408.6L127.7 403.6L128.4 409.6L129.1 402.8L129.8 408.4L130.5 403.4L131.2 408.6L131.9 405.2L132.6 409.1L133.3 404.9L134.0 410.2L134.7 395.8L135.4 407.0L136.1 402.5L136.8 410.6L137.5 404.1L138.2 410.3L138.9 406.6L139.6 409.0L140.3 406.6L141.0 410.7L141.7 406.8L142.4 409.5L143.1 407.4L143.8 410.7L144.5 407.3L145.2 410.6L145.9 408.3L146.6 410.2L147.3 408.3L148.0 410.3" fill="none" stroke="#ff0000" stroke-width="1.05" stroke-linejoin="round"/>
<path d="M167.1 414.8L167.8 415.4L168.5 414.6L169.2 417.4L169.9 415.7L170.6 418.0L171.3 415.5L172.0 417.7L172.7 415.1L173.4 417.4L174.1 415.5L174.8 419.2L175.5 416.2L176.2 417.9L176.9 415.0L177.6 417.9L178.3 416.1L179.0 418.2L179.7 415.7L180.4 420.3L181.1 415.7L181.8 417.0L182.5 415.4L183.2 417.1L183.9 415.3L184.6 417.2L185.3 415.2L186.0 416.3L186.7 415.2L187.4 415.8L188.1 415.0L188.8 415.8L189.5 414.7L190.2 415.5L190.9 414.4L191.6 415.6L192.3 414.2L193.0 415.5L193.7 413.6L194.4 413.9L195.1 412.4L195.8 413.3L196.5 410.8L197.2 413.1L197.9 409.6L198.6 411.8L199.3 408.9L200.0 409.5L200.7 403.8L201.4 409.8L202.1 404.9L202.8 411.5L203.5 406.5L204.2 411.3L204.9 405.5L205.6 410.6L206.3 405.7L207.0 411.1L207.7 406.3L208.4 410.9L209.1 406.8L209.8 409.8L210.5 406.6L211.2 413.6L211.9 408.7L212.6 411.7L213.3 406.8L214.0 413.2L214.7 407.4L215.4 413.8L216.1 406.6L216.9 412.9L217.6 407.9L218.3 416.2L219.0 408.9L219.7 412.3L220.4 408.0L221.1 412.8L221.8 404.8L222.5 412.2L223.2 400.8L223.9 410.2L224.6 407.4L225.3 411.7L226.0 406.8L226.7 412.6L227.4 409.0L228.1 413.0L228.8 410.0L229.5 412.9L230.2 409.7L230.9 412.9L231.6 407.4L232.3 411.1L233.0 408.1L233.7 412.7L234.4 409.9L235.1 413.3L235.8 409.7L236.5 414.3L237.2 409.4L237.9 414.3L238.6 411.0L239.3 414.3L240.0 412.5L240.7 414.8L241.4 412.9L242.1 414.6L242.8 414.3L243.5 415.0L244.2 414.4L244.9 415.3L245.6 414.7L246.3 415.5L247.0 414.9L247.7 415.8L248.4 415.4L249.1 416.2L249.8 415.7L250.5 416.8L251.2 416.6L251.9 417.4L252.6 417.0L253.3 418.5L254.0 417.0L254.7 417.0L255.4 416.8L256.1 416.9L256.8 416.6L257.5 416.8L258.2 416.5L258.9 416.7L259.6 416.4L260.3 416.6L261.0 416.3L261.7 416.5L262.4 416.2L263.1 416.3L263.8 416.1L264.5 416.4L265.2 416.0L265.9 416.3" fill="none" stroke="#000" stroke-width="1.05" stroke-linejoin="round"/>
<path d="M167.1 413.8 L167.7 413.6 L168.3 413.6 L168.9 413.4 L169.5 413.5 L170.1 413.3 L170.7 413.4 L171.3 413.2 L171.9 413.3 L172.5 413.3 L173.1 413.2 L173.7 413.2 L174.3 412.9 L174.9 412.9 L175.5 413.1 L176.1 413.1 L176.7 413.1 L177.3 412.9 L177.9 412.9 L178.5 413.1 L179.1 412.9 L179.8 412.9 L180.4 413.0 L181.0 413.1 L181.6 413.1 L182.2 412.9 L182.8 413.1 L183.4 413.1 L184.0 412.9 L184.6 412.9 L185.2 413.1 L185.8 413.0 L186.4 412.9 L187.0 413.1 L187.6 412.9 L188.2 412.7 L188.8 412.4 L189.4 412.3 L190.0 412.1 L190.6 411.8 L191.2 411.7 L191.8 411.3 L192.4 410.3 L193.0 409.2 L193.6 409.2 L194.2 408.5 L194.8 407.4 L195.4 406.2 L196.0 406.3 L196.6 404.3 L197.2 403.7 L197.8 403.7 L198.4 402.4 L199.0 401.4 L199.6 400.7 L200.2 400.4 L200.8 397.7 L201.4 399.8 L202.0 395.7 L202.6 396.6 L203.2 395.9 L203.8 394.1 L204.5 394.3 L205.1 394.1 L205.7 388.4 L206.3 389.5 L206.9 388.5 L207.5 386.3 L208.1 388.8 L208.7 386.2 L209.3 391.8 L209.9 392.1 L210.5 390.6 L211.1 388.1 L211.7 387.2 L212.3 388.3 L212.9 384.6 L213.5 389.1 L214.1 383.2 L214.7 389.9 L215.3 389.1 L215.9 390.4 L216.5 386.0 L217.1 390.8 L217.7 392.9 L218.3 390.1 L218.9 390.3 L219.5 387.0 L220.1 389.5 L220.7 389.1 L221.3 388.3 L221.9 390.3 L222.5 386.9 L223.1 390.2 L223.7 391.0 L224.3 388.7 L224.9 390.0 L225.5 393.9 L226.1 390.1 L226.7 389.7 L227.3 388.2 L227.9 392.2 L228.5 386.7 L229.2 386.1 L229.8 387.5 L230.4 390.8 L231.0 389.1 L231.6 390.0 L232.2 387.2 L232.8 388.6 L233.4 392.1 L234.0 391.7 L234.6 393.0 L235.2 392.9 L235.8 394.8 L236.4 393.5 L237.0 396.1 L237.6 392.2 L238.2 394.7 L238.8 391.9 L239.4 394.6 L240.0 393.2 L240.6 397.7 L241.2 396.0 L241.8 397.4 L242.4 395.0 L243.0 398.2 L243.6 395.2 L244.2 397.5 L244.8 397.7 L245.4 398.7 L246.0 395.6 L246.6 398.4 L247.2 397.5 L247.8 394.2 L248.4 395.5 L249.0 393.5 L249.6 391.8 L250.2 386.4 L250.8 384.5 L251.4 384.3 L252.0 382.3 L252.6 382.3 L253.2 377.0 L253.9 385.7 L254.5 388.5 L255.1 386.5 L255.7 390.5 L256.3 383.5 L256.9 391.8 L257.5 385.2 L258.1 391.4 L258.7 391.6 L259.3 391.8 L259.9 391.0 L260.5 393.5 L261.1 394.4 L261.7 393.0 L262.3 396.2 L262.9 390.8 L263.5 392.2 L264.1 397.6 L264.7 399.5 L265.3 400.1 L265.9 398.3 L265.9 406.7 L265.3 405.9 L264.7 403.4 L264.1 403.6 L263.5 403.1 L262.9 400.7 L262.3 399.4 L261.7 402.4 L261.1 398.6 L260.5 402.7 L259.9 397.6 L259.3 404.2 L258.7 400.8 L258.1 400.1 L257.5 398.5 L256.9 403.2 L256.3 401.6 L255.7 398.7 L255.1 398.1 L254.5 395.2 L253.9 395.1 L253.2 397.8 L252.6 399.2 L252.0 393.9 L251.4 399.6 L250.8 401.6 L250.2 399.9 L249.6 398.9 L249.0 398.6 L248.4 402.3 L247.8 403.9 L247.2 402.9 L246.6 402.9 L246.0 405.0 L245.4 404.2 L244.8 403.5 L244.2 400.6 L243.6 402.4 L243.0 403.0 L242.4 400.7 L241.8 400.8 L241.2 399.1 L240.6 402.2 L240.0 402.5 L239.4 401.7 L238.8 397.8 L238.2 400.3 L237.6 400.1 L237.0 398.0 L236.4 398.9 L235.8 400.9 L235.2 399.1 L234.6 397.3 L234.0 399.9 L233.4 394.9 L232.8 397.4 L232.2 393.9 L231.6 398.4 L231.0 398.0 L230.4 398.2 L229.8 397.9 L229.2 396.9 L228.5 398.4 L227.9 394.8 L227.3 399.3 L226.7 399.3 L226.1 396.5 L225.5 396.0 L224.9 398.8 L224.3 396.1 L223.7 397.5 L223.1 397.3 L222.5 392.7 L221.9 397.0 L221.3 394.1 L220.7 396.9 L220.1 397.4 L219.5 393.9 L218.9 395.3 L218.3 395.6 L217.7 396.6 L217.1 397.4 L216.5 393.5 L215.9 393.1 L215.3 393.4 L214.7 395.5 L214.1 395.7 L213.5 392.4 L212.9 395.8 L212.3 397.0 L211.7 394.9 L211.1 393.5 L210.5 396.7 L209.9 394.3 L209.3 393.5 L208.7 394.9 L208.1 396.8 L207.5 393.6 L206.9 393.9 L206.3 395.5 L205.7 398.7 L205.1 398.5 L204.5 399.8 L203.8 399.9 L203.2 401.7 L202.6 401.6 L202.0 401.2 L201.4 402.2 L200.8 401.5 L200.2 403.4 L199.6 403.0 L199.0 405.4 L198.4 406.1 L197.8 404.7 L197.2 406.4 L196.6 407.4 L196.0 406.6 L195.4 408.0 L194.8 408.5 L194.2 408.7 L193.6 409.4 L193.0 410.7 L192.4 410.9 L191.8 411.6 L191.2 411.9 L190.6 412.1 L190.0 412.2 L189.4 412.5 L188.8 412.7 L188.2 412.9 L187.6 413.0 L187.0 413.1 L186.4 413.2 L185.8 413.2 L185.2 413.3 L184.6 413.3 L184.0 413.3 L183.4 413.3 L182.8 413.3 L182.2 413.2 L181.6 413.4 L181.0 413.2 L180.4 413.4 L179.8 413.3 L179.1 413.3 L178.5 413.2 L177.9 413.2 L177.3 413.3 L176.7 413.4 L176.1 413.3 L175.5 413.2 L174.9 413.4 L174.3 413.5 L173.7 413.4 L173.1 413.6 L172.5 413.5 L171.9 413.5 L171.3 413.5 L170.7 413.7 L170.1 413.6 L169.5 413.7 L168.9 413.7 L168.3 413.8 L167.7 413.9 L167.1 414.1Z" fill="#ff0000"/>
<path d="M167.1 413.5L167.8 414.1L168.5 413.4L169.2 414.0L169.9 413.1L170.6 413.7L171.3 413.2L172.0 413.6L172.7 412.8L173.4 413.6L174.1 413.0L174.8 413.6L175.5 412.8L176.2 413.4L176.9 412.8L177.6 413.2L178.3 412.6L179.0 413.2L179.7 412.6L180.4 413.2L181.1 412.7L181.8 413.1L182.5 412.6L183.2 413.4L183.9 412.8L184.6 413.2L185.3 412.7L186.0 413.1L186.7 412.9L187.4 413.0L188.1 412.4L188.8 412.5L189.5 412.0L190.2 412.2L190.9 411.5L191.6 411.8L192.3 409.9L193.0 410.1L193.7 407.1L194.4 408.5L195.1 404.3L195.8 406.8L196.5 402.3L197.2 405.2L197.9 399.1L198.6 405.2L199.3 398.3L200.0 403.2L200.7 394.2L201.4 400.9L202.1 393.9L202.8 402.4L203.5 392.6L204.2 396.8L204.9 386.8L205.6 398.0L206.3 375.4L207.0 389.9L207.7 378.8L208.4 392.5L209.1 381.4L209.8 393.2L210.5 383.1L211.2 399.2L211.9 383.9L212.6 398.8L213.3 383.6L214.0 397.0L214.7 375.4L215.4 393.7L216.1 388.1L216.9 396.3L217.6 390.9L218.3 401.1L219.0 388.5L219.7 399.1L220.4 392.2L221.1 400.4L221.8 378.5L222.5 395.2L223.2 382.9L223.9 395.8L224.6 390.5L225.3 399.9L226.0 391.4L226.7 400.9L227.4 391.5L228.1 402.1L228.8 394.8L229.5 402.3L230.2 376.9L230.9 402.2L231.6 383.6L232.3 395.7L233.0 383.8L233.7 398.4L234.4 389.8L235.1 403.4L235.8 387.6L236.5 400.0L237.2 395.1L237.9 401.4L238.6 389.7L239.3 404.7L240.0 394.2L240.7 399.8L241.4 392.1L242.1 400.6L242.8 392.5L243.5 405.9L244.2 393.7L244.9 407.0L245.6 394.8L246.3 408.0L247.0 396.1L247.7 408.6L248.4 397.0L249.1 407.8L249.8 390.0L250.5 408.8L251.2 386.4L251.9 409.3L252.6 383.6L253.3 407.0L254.0 361.5L254.7 403.5L255.4 389.6L256.1 407.8L256.8 385.5L257.5 409.6L258.2 386.7L258.9 410.2L259.6 389.4L260.3 405.3L261.0 394.3L261.7 407.5L262.4 385.1L263.1 406.2L263.8 395.0L264.5 409.6L265.2 399.0L265.9 406.2" fill="none" stroke="#ff0000" stroke-width="1.05" stroke-linejoin="round"/>
<path d="M284.4 415.0L285.1 415.7L285.8 414.9L286.5 415.7L287.2 415.0L287.9 415.7L288.6 414.9L289.3 415.6L290.0 415.1L290.7 415.7L291.4 415.1L292.1 415.7L292.8 415.2L293.5 415.7L294.2 415.1L294.9 415.7L295.6 415.0L296.3 415.5L297.0 415.0L297.7 415.6L298.4 415.2L299.1 415.7L299.8 415.2L300.5 415.9L301.2 415.1L301.9 415.8L302.6 415.2L303.3 415.7L304.0 415.2L304.7 415.6L305.4 415.2L306.1 415.9L306.8 415.2L307.5 415.7L308.2 415.1L308.9 414.1L309.6 409.0L310.3 411.0L311.0 407.3L311.7 410.1L312.4 406.4L313.1 410.6L313.8 405.7L314.5 410.9L315.2 406.2L315.9 411.7L316.6 407.1L317.3 410.5L318.0 407.0L318.7 410.2L319.4 405.0L320.1 409.1L320.8 404.2L321.5 413.3L322.2 405.8L322.9 411.7L323.6 404.1L324.3 409.0L325.0 405.6L325.7 408.3L326.4 403.1L327.1 409.1L327.8 405.3L328.5 412.7L329.2 403.6L329.9 407.6L330.6 404.6L331.3 410.6L332.0 406.4L332.7 409.1L333.4 405.2L334.2 413.3L334.9 401.5L335.6 405.3L336.3 403.9L337.0 407.2L337.7 401.5L338.4 404.9L339.1 399.6L339.8 409.6L340.5 399.2L341.2 412.1L341.9 398.8L342.6 405.0L343.3 399.3L344.0 403.8L344.7 402.3L345.4 406.7L346.1 402.8L346.8 410.6L347.5 401.7L348.2 412.7L348.9 404.9L349.6 407.5L350.3 403.7L351.0 409.2L351.7 404.7L352.4 412.1L353.1 404.7L353.8 408.7L354.5 404.4L355.2 408.5L355.9 404.0L356.6 410.4L357.3 408.3L358.0 413.0L358.7 411.1L359.4 414.4L360.1 413.1L360.8 415.4L361.5 414.5L362.2 415.9L362.9 415.2L363.6 416.1L364.3 415.7L365.0 416.6L365.7 416.1L366.4 417.3L367.1 417.0L367.8 418.3L368.5 417.5L369.2 419.5L369.9 417.7L370.6 418.3L371.3 417.4L372.0 417.7L372.7 416.8L373.4 417.3L374.1 416.6L374.8 417.2L375.5 416.3L376.2 416.9L376.9 416.3L377.6 416.7L378.3 416.4L379.0 416.9L379.7 416.4L380.4 416.8L381.1 416.3L381.8 416.6L382.5 416.3L383.2 416.5" fill="none" stroke="#000" stroke-width="1.05" stroke-linejoin="round"/>
<path d="M284.4 412.2L285.1 412.8L285.8 412.4L286.5 413.0L287.2 412.4L287.9 413.1L288.6 412.2L289.3 412.9L290.0 412.4L290.7 413.0L291.4 412.3L292.1 412.9L292.8 412.3L293.5 413.1L294.2 412.3L294.9 413.0L295.6 412.2L296.3 412.9L297.0 412.3L297.7 412.9L298.4 412.5L299.1 413.2L299.8 412.4L300.5 413.0L301.2 412.5L301.9 413.2L302.6 412.5L303.3 413.0L304.0 412.4L304.7 413.1L305.4 412.6L306.1 413.2L306.8 412.5L307.5 413.2L308.2 412.6L308.9 409.2L309.6 399.9L310.3 403.8L311.0 399.8L311.7 402.0L312.4 395.7L313.1 401.2L313.8 394.8L314.5 399.1L315.2 393.8L315.9 398.9L316.6 387.0L317.3 397.9L318.0 391.3L318.7 396.1L319.4 392.7L320.1 395.9L320.8 387.6L321.5 394.6L322.2 389.3L322.9 393.8L323.6 387.3L324.3 394.0L325.0 375.7L325.7 392.7L326.4 383.5L327.1 390.3L327.8 385.1L328.5 389.8L329.2 379.8L329.9 390.2L330.6 385.4L331.3 391.4L332.0 388.2L332.7 391.4L333.4 386.3L334.2 391.2L334.9 370.5L335.6 388.1L336.3 386.1L337.0 391.9L337.7 385.8L338.4 390.1L339.1 385.0L339.8 390.4L340.5 382.7L341.2 385.8L341.9 378.8L342.6 389.7L343.3 385.0L344.0 391.2L344.7 388.1L345.4 393.3L346.1 382.9L346.8 395.1L347.5 391.6L348.2 397.2L348.9 396.4L349.6 399.6L350.3 397.8L351.0 400.0L351.7 398.1L352.4 401.0L353.1 397.0L353.8 401.6L354.5 390.1L355.2 400.4L355.9 397.3L356.6 402.8L357.3 401.4L358.0 405.3L358.7 404.8L359.4 408.1L360.1 407.2L360.8 409.4L361.5 408.6L362.2 410.2L362.9 409.4L363.6 410.4L364.3 410.1L365.0 411.4L365.7 410.7L366.4 411.7L367.1 411.2L367.8 411.8L368.5 410.4L369.2 411.8L369.9 404.5L370.6 412.2L371.3 408.6L372.0 410.7L372.7 410.1L373.4 412.2L374.1 411.0L374.8 412.5L375.5 411.3L376.2 412.2L376.9 411.6L377.6 412.6L378.3 411.9L379.0 412.9L379.7 412.2L380.4 413.0L381.1 412.7L381.8 413.0L382.5 413.1L383.2 413.2" fill="none" stroke="#ff0000" stroke-width="1.05" stroke-linejoin="round"/>
<path d="M402.5 415.7L403.2 416.3L403.9 415.8L404.6 416.5L405.3 415.9L406.0 416.8L406.7 415.8L407.4 416.7L408.1 416.3L408.8 416.8L409.5 416.4L410.2 416.7L410.9 416.5L411.6 416.7L412.3 416.2L413.0 416.8L413.7 416.1L414.4 416.8L415.1 416.2L415.8 416.5L416.5 416.0L417.2 416.8L417.9 415.9L418.6 416.6L419.3 416.1L420.0 416.6L420.7 415.9L421.4 416.2L422.1 415.7L422.8 416.1L423.5 415.4L424.2 416.3L424.9 415.3L425.6 416.1L426.3 415.5L427.0 413.3L427.7 409.0L428.4 408.6L429.1 404.5L429.8 407.8L430.5 405.6L431.2 408.2L431.9 406.0L432.6 408.8L433.3 406.8L434.0 409.8L434.7 407.2L435.4 410.8L436.1 406.7L436.8 410.9L437.5 407.4L438.2 410.7L438.9 406.8L439.6 410.2L440.3 408.0L441.0 413.7L441.7 408.2L442.4 410.6L443.1 407.7L443.8 410.9L444.5 406.7L445.2 412.1L445.9 407.9L446.6 411.0L447.3 406.0L448.0 410.6L448.7 407.3L449.4 409.6L450.1 406.9L450.8 410.9L451.5 406.0L452.3 410.0L453.0 407.0L453.7 410.0L454.4 406.8L455.1 408.5L455.8 404.7L456.5 409.4L457.2 405.5L457.9 408.0L458.6 406.0L459.3 409.4L460.0 403.8L460.7 408.0L461.4 401.4L462.1 407.4L462.8 403.1L463.5 407.7L464.2 405.4L464.9 409.8L465.6 405.7L466.3 408.8L467.0 407.1L467.7 410.1L468.4 405.8L469.1 409.0L469.8 405.4L470.5 409.2L471.2 402.4L471.9 408.2L472.6 404.5L473.3 408.0L474.0 405.5L474.7 409.7L475.4 407.8L476.1 411.0L476.8 408.9L477.5 411.6L478.2 410.5L478.9 412.9L479.6 411.5L480.3 414.6L481.0 413.5L481.7 415.1L482.4 414.6L483.1 415.7L483.8 415.1L484.5 417.4L485.2 415.8L485.9 417.6L486.6 416.0L487.3 417.9L488.0 417.0L488.7 418.9L489.4 416.8L490.1 417.9L490.8 416.8L491.5 417.6L492.2 416.5L492.9 417.4L493.6 416.3L494.3 417.0L495.0 416.3L495.7 416.7L496.4 416.0L497.1 416.4L497.8 415.9L498.5 416.4L499.2 415.9L499.9 416.4L500.6 415.7L501.3 416.2" fill="none" stroke="#000" stroke-width="1.05" stroke-linejoin="round"/>
<path d="M402.5 413.9L403.2 414.1L403.9 413.8L404.6 414.2L405.3 413.9L406.0 414.1L406.7 413.8L407.4 414.1L408.1 413.7L408.8 414.0L409.5 413.7L410.2 413.9L410.9 413.6L411.6 413.8L412.3 413.4L413.0 413.8L413.7 413.5L414.4 413.8L415.1 413.4L415.8 413.6L416.5 413.4L417.2 413.6L417.9 413.3L418.6 413.6L419.3 413.3L420.0 413.7L420.7 413.2L421.4 413.5L422.1 413.0L422.8 413.5L423.5 413.0L424.2 413.4L424.9 413.0L425.6 413.3L426.3 413.1L427.0 410.9L427.7 403.8L428.4 405.6L429.1 400.4L429.8 404.0L430.5 400.9L431.2 405.3L431.9 401.8L432.6 404.1L433.3 401.9L434.0 405.7L434.7 402.9L435.4 405.5L436.1 403.0L436.8 404.9L437.5 401.8L438.2 404.2L438.9 401.9L439.6 404.8L440.3 402.0L441.0 404.8L441.7 402.4L442.4 404.2L443.1 401.9L443.8 405.3L444.5 402.5L445.2 405.1L445.9 402.9L446.6 405.3L447.3 402.8L448.0 404.8L448.7 402.9L449.4 404.6L450.1 403.4L450.8 404.4L451.5 402.6L452.3 404.2L453.0 402.0L453.7 404.7L454.4 402.2L455.1 403.5L455.8 401.7L456.5 404.1L457.2 400.7L457.9 404.0L458.6 401.7L459.3 404.8L460.0 400.8L460.7 404.8L461.4 400.1L462.1 402.6L462.8 400.5L463.5 403.3L464.2 400.1L464.9 403.5L465.6 396.9L466.3 403.8L467.0 401.5L467.7 404.8L468.4 401.3L469.1 403.9L469.8 401.8L470.5 404.6L471.2 401.4L471.9 405.1L472.6 401.5L473.3 405.6L474.0 400.9L474.7 405.0L475.4 402.8L476.1 406.5L476.8 404.0L477.5 407.2L478.2 404.5L478.9 408.9L479.6 405.4L480.3 409.4L481.0 406.9L481.7 410.2L482.4 407.6L483.1 409.8L483.8 406.9L484.5 409.8L485.2 408.0L485.9 410.9L486.6 407.4L487.3 411.1L488.0 404.5L488.7 410.2L489.4 408.0L490.1 411.1L490.8 408.2L491.5 410.5L492.2 408.7L492.9 410.8L493.6 407.7L494.3 409.7L495.0 405.1L495.7 410.9L496.4 409.0L497.1 411.2L497.8 409.8L498.5 412.1L499.2 410.5L499.9 411.1L500.6 410.2L501.3 411.1" fill="none" stroke="#ff0000" stroke-width="1.05" stroke-linejoin="round"/>
<rect x="116.2" y="16.0" width="83.5" height="20.5" fill="#fff" stroke="#555" stroke-width="0.9"/>
<path d="M118.5 21.6H144.5" stroke="#000" stroke-width="1.8"/>
<path d="M118.5 31.7H144.5" stroke="#ff0000" stroke-width="1.8"/>
</g>
<g opacity="0.995">
<text transform="translate(49.20 94.00) scale(1 1.08)" font-size="8.0" fill="#2a2a2a" text-anchor="middle">Jan</text>
<text transform="translate(73.56 94.00) scale(1 1.08)" font-size="8.0" fill="#2a2a2a" text-anchor="middle">Apr</text>
<text transform="translate(98.19 94.00) scale(1 1.08)" font-size="8.0" fill="#2a2a2a" text-anchor="middle">Jul</text>
<text transform="translate(123.10 94.00) scale(1 1.08)" font-size="8.0" fill="#2a2a2a" text-anchor="middle">Oct</text>
<text transform="translate(148.00 94.00) scale(1 1.08)" font-size="8.0" fill="#2a2a2a" text-anchor="middle">Jan</text>
<text transform="translate(167.10 94.00) scale(1 1.08)" font-size="8.0" fill="#2a2a2a" text-anchor="middle">Jan</text>
<text transform="translate(191.46 94.00) scale(1 1.08)" font-size="8.0" fill="#2a2a2a" text-anchor="middle">Apr</text>
<text transform="translate(216.09 94.00) scale(1 1.08)" font-size="8.0" fill="#2a2a2a" text-anchor="middle">Jul</text>
<text transform="translate(241.00 94.00) scale(1 1.08)" font-size="8.0" fill="#2a2a2a" text-anchor="middle">Oct</text>
<text transform="translate(265.90 94.00) scale(1 1.08)" font-size="8.0" fill="#2a2a2a" text-anchor="middle">Jan</text>
<text transform="translate(284.40 94.00) scale(1 1.08)" font-size="8.0" fill="#2a2a2a" text-anchor="middle">Jan</text>
<text transform="translate(308.76 94.00) scale(1 1.08)" font-size="8.0" fill="#2a2a2a" text-anchor="middle">Apr</text>
<text transform="translate(333.39 94.00) scale(1 1.08)" font-size="8.0" fill="#2a2a2a" text-anchor="middle">Jul</text>
<text transform="translate(358.30 94.00) scale(1 1.08)" font-size="8.0" fill="#2a2a2a" text-anchor="middle">Oct</text>
<text transform="translate(383.20 94.00) scale(1 1.08)" font-size="8.0" fill="#2a2a2a" text-anchor="middle">Jan</text>
<text transform="translate(402.50 94.00) scale(1 1.08)" font-size="8.0" fill="#2a2a2a" text-anchor="middle">Jan</text>
<text transform="translate(426.86 94.00) scale(1 1.08)" font-size="8.0" fill="#2a2a2a" text-anchor="middle">Apr</text>
<text transform="translate(451.49 94.00) scale(1 1.08)" font-size="8.0" fill="#2a2a2a" text-anchor="middle">Jul</text>
<text transform="translate(476.40 94.00) scale(1 1.08)" font-size="8.0" fill="#2a2a2a" text-anchor="middle">Oct</text>
<text transform="translate(501.30 94.00) scale(1 1.08)" font-size="8.0" fill="#2a2a2a" text-anchor="middle">Jan</text>
<text transform="translate(45.30 85.05) scale(1 1.08)" font-size="8.0" fill="#2a2a2a" text-anchor="end">0</text>
<text transform="translate(45.30 63.25) scale(1 1.08)" font-size="8.0" fill="#2a2a2a" text-anchor="end">10</text>
<text transform="translate(45.30 41.45) scale(1 1.08)" font-size="8.0" fill="#2a2a2a" text-anchor="end">20</text>
<text transform="translate(45.30 19.65) scale(1 1.08)" font-size="8.0" fill="#2a2a2a" text-anchor="end">30</text>
<text transform="translate(49.20 178.90) scale(1 1.08)" font-size="8.0" fill="#2a2a2a" text-anchor="middle">Jan</text>
<text transform="translate(73.56 178.90) scale(1 1.08)" font-size="8.0" fill="#2a2a2a" text-anchor="middle">Apr</text>
<text transform="translate(98.19 178.90) scale(1 1.08)" font-size="8.0" fill="#2a2a2a" text-anchor="middle">Jul</text>
<text transform="translate(123.10 178.90) scale(1 1.08)" font-size="8.0" fill="#2a2a2a" text-anchor="middle">Oct</text>
<text transform="translate(148.00 178.90) scale(1 1.08)" font-size="8.0" fill="#2a2a2a" text-anchor="middle">Jan</text>
<text transform="translate(167.10 178.90) scale(1 1.08)" font-size="8.0" fill="#2a2a2a" text-anchor="middle">Jan</text>
<text transform="translate(191.46 178.90) scale(1 1.08)" font-size="8.0" fill="#2a2a2a" text-anchor="middle">Apr</text>
<text transform="translate(216.09 178.90) scale(1 1.08)" font-size="8.0" fill="#2a2a2a" text-anchor="middle">Jul</text>
<text transform="translate(241.00 178.90) scale(1 1.08)" font-size="8.0" fill="#2a2a2a" text-anchor="middle">Oct</text>
<text transform="translate(265.90 178.90) scale(1 1.08)" font-size="8.0" fill="#2a2a2a" text-anchor="middle">Jan</text>
<text transform="translate(284.40 178.90) scale(1 1.08)" font-size="8.0" fill="#2a2a2a" text-anchor="middle">Jan</text>
<text transform="translate(308.76 178.90) scale(1 1.08)" font-size="8.0" fill="#2a2a2a" text-anchor="middle">Apr</text>
<text transform="translate(333.39 178.90) scale(1 1.08)" font-size="8.0" fill="#2a2a2a" text-anchor="middle">Jul</text>
<text transform="translate(358.30 178.90) scale(1 1.08)" font-size="8.0" fill="#2a2a2a" text-anchor="middle">Oct</text>
<text transform="translate(383.20 178.90) scale(1 1.08)" font-size="8.0" fill="#2a2a2a" text-anchor="middle">Jan</text>
<text transform="translate(402.50 178.90) scale(1 1.08)" font-size="8.0" fill="#2a2a2a" text-anchor="middle">Jan</text>
<text transform="translate(426.86 178.90) scale(1 1.08)" font-size="8.0" fill="#2a2a2a" text-anchor="middle">Apr</text>
<text transform="translate(451.49 178.90) scale(1 1.08)" font-size="8.0" fill="#2a2a2a" text-anchor="middle">Jul</text>
<text transform="translate(476.40 178.90) scale(1 1.08)" font-size="8.0" fill="#2a2a2a" text-anchor="middle">Oct</text>
<text transform="translate(501.30 178.90) scale(1 1.08)" font-size="8.0" fill="#2a2a2a" text-anchor="middle">Jan</text>
<text transform="translate(45.30 169.95) scale(1 1.08)" font-size="8.0" fill="#2a2a2a" text-anchor="end">1200</text>
<text transform="translate(45.30 156.87) scale(1 1.08)" font-size="8.0" fill="#2a2a2a" text-anchor="end">1400</text>
<text transform="translate(45.30 143.79) scale(1 1.08)" font-size="8.0" fill="#2a2a2a" text-anchor="end">1600</text>
<text transform="translate(45.30 130.71) scale(1 1.08)" font-size="8.0" fill="#2a2a2a" text-anchor="end">1800</text>
<text transform="translate(45.30 117.63) scale(1 1.08)" font-size="8.0" fill="#2a2a2a" text-anchor="end">2000</text>
<text transform="translate(45.30 104.55) scale(1 1.08)" font-size="8.0" fill="#2a2a2a" text-anchor="end">2200</text>
<text transform="translate(49.20 263.90) scale(1 1.08)" font-size="8.0" fill="#2a2a2a" text-anchor="middle">Jan</text>
<text transform="translate(73.56 263.90) scale(1 1.08)" font-size="8.0" fill="#2a2a2a" text-anchor="middle">Apr</text>
<text transform="translate(98.19 263.90) scale(1 1.08)" font-size="8.0" fill="#2a2a2a" text-anchor="middle">Jul</text>
<text transform="translate(123.10 263.90) scale(1 1.08)" font-size="8.0" fill="#2a2a2a" text-anchor="middle">Oct</text>
<text transform="translate(148.00 263.90) scale(1 1.08)" font-size="8.0" fill="#2a2a2a" text-anchor="middle">Jan</text>
<text transform="translate(167.10 263.90) scale(1 1.08)" font-size="8.0" fill="#2a2a2a" text-anchor="middle">Jan</text>
<text transform="translate(191.46 263.90) scale(1 1.08)" font-size="8.0" fill="#2a2a2a" text-anchor="middle">Apr</text>
<text transform="translate(216.09 263.90) scale(1 1.08)" font-size="8.0" fill="#2a2a2a" text-anchor="middle">Jul</text>
<text transform="translate(241.00 263.90) scale(1 1.08)" font-size="8.0" fill="#2a2a2a" text-anchor="middle">Oct</text>
<text transform="translate(265.90 263.90) scale(1 1.08)" font-size="8.0" fill="#2a2a2a" text-anchor="middle">Jan</text>
<text transform="translate(284.40 263.90) scale(1 1.08)" font-size="8.0" fill="#2a2a2a" text-anchor="middle">Jan</text>
<text transform="translate(308.76 263.90) scale(1 1.08)" font-size="8.0" fill="#2a2a2a" text-anchor="middle">Apr</text>
<text transform="translate(333.39 263.90) scale(1 1.08)" font-size="8.0" fill="#2a2a2a" text-anchor="middle">Jul</text>
<text transform="translate(358.30 263.90) scale(1 1.08)" font-size="8.0" fill="#2a2a2a" text-anchor="middle">Oct</text>
<text transform="translate(383.20 263.90) scale(1 1.08)" font-size="8.0" fill="#2a2a2a" text-anchor="middle">Jan</text>
<text transform="translate(402.50 263.90) scale(1 1.08)" font-size="8.0" fill="#2a2a2a" text-anchor="middle">Jan</text>
<text transform="translate(426.86 263.90) scale(1 1.08)" font-size="8.0" fill="#2a2a2a" text-anchor="middle">Apr</text>
<text transform="translate(451.49 263.90) scale(1 1.08)" font-size="8.0" fill="#2a2a2a" text-anchor="middle">Jul</text>
<text transform="translate(476.40 263.90) scale(1 1.08)" font-size="8.0" fill="#2a2a2a" text-anchor="middle">Oct</text>
<text transform="translate(501.30 263.90) scale(1 1.08)" font-size="8.0" fill="#2a2a2a" text-anchor="middle">Jan</text>
<text transform="translate(45.30 254.95) scale(1 1.08)" font-size="8.0" fill="#2a2a2a" text-anchor="end">1200</text>
<text transform="translate(45.30 241.87) scale(1 1.08)" font-size="8.0" fill="#2a2a2a" text-anchor="end">1400</text>
<text transform="translate(45.30 228.79) scale(1 1.08)" font-size="8.0" fill="#2a2a2a" text-anchor="end">1600</text>
<text transform="translate(45.30 215.71) scale(1 1.08)" font-size="8.0" fill="#2a2a2a" text-anchor="end">1800</text>
<text transform="translate(45.30 202.63) scale(1 1.08)" font-size="8.0" fill="#2a2a2a" text-anchor="end">2000</text>
<text transform="translate(45.30 189.55) scale(1 1.08)" font-size="8.0" fill="#2a2a2a" text-anchor="end">2200</text>
<text transform="translate(49.20 348.70) scale(1 1.08)" font-size="8.0" fill="#2a2a2a" text-anchor="middle">Jan</text>
<text transform="translate(73.56 348.70) scale(1 1.08)" font-size="8.0" fill="#2a2a2a" text-anchor="middle">Apr</text>
<text transform="translate(98.19 348.70) scale(1 1.08)" font-size="8.0" fill="#2a2a2a" text-anchor="middle">Jul</text>
<text transform="translate(123.10 348.70) scale(1 1.08)" font-size="8.0" fill="#2a2a2a" text-anchor="middle">Oct</text>
<text transform="translate(148.00 348.70) scale(1 1.08)" font-size="8.0" fill="#2a2a2a" text-anchor="middle">Jan</text>
<text transform="translate(167.10 348.70) scale(1 1.08)" font-size="8.0" fill="#2a2a2a" text-anchor="middle">Jan</text>
<text transform="translate(191.46 348.70) scale(1 1.08)" font-size="8.0" fill="#2a2a2a" text-anchor="middle">Apr</text>
<text transform="translate(216.09 348.70) scale(1 1.08)" font-size="8.0" fill="#2a2a2a" text-anchor="middle">Jul</text>
<text transform="translate(241.00 348.70) scale(1 1.08)" font-size="8.0" fill="#2a2a2a" text-anchor="middle">Oct</text>
<text transform="translate(265.90 348.70) scale(1 1.08)" font-size="8.0" fill="#2a2a2a" text-anchor="middle">Jan</text>
<text transform="translate(284.40 348.70) scale(1 1.08)" font-size="8.0" fill="#2a2a2a" text-anchor="middle">Jan</text>
<text transform="translate(308.76 348.70) scale(1 1.08)" font-size="8.0" fill="#2a2a2a" text-anchor="middle">Apr</text>
<text transform="translate(333.39 348.70) scale(1 1.08)" font-size="8.0" fill="#2a2a2a" text-anchor="middle">Jul</text>
<text transform="translate(358.30 348.70) scale(1 1.08)" font-size="8.0" fill="#2a2a2a" text-anchor="middle">Oct</text>
<text transform="translate(383.20 348.70) scale(1 1.08)" font-size="8.0" fill="#2a2a2a" text-anchor="middle">Jan</text>
<text transform="translate(402.50 348.70) scale(1 1.08)" font-size="8.0" fill="#2a2a2a" text-anchor="middle">Jan</text>
<text transform="translate(426.86 348.70) scale(1 1.08)" font-size="8.0" fill="#2a2a2a" text-anchor="middle">Apr</text>
<text transform="translate(451.49 348.70) scale(1 1.08)" font-size="8.0" fill="#2a2a2a" text-anchor="middle">Jul</text>
<text transform="translate(476.40 348.70) scale(1 1.08)" font-size="8.0" fill="#2a2a2a" text-anchor="middle">Oct</text>
<text transform="translate(501.30 348.70) scale(1 1.08)" font-size="8.0" fill="#2a2a2a" text-anchor="middle">Jan</text>
<text transform="translate(45.30 339.75) scale(1 1.08)" font-size="8.0" fill="#2a2a2a" text-anchor="end">7.3</text>
<text transform="translate(45.30 330.41) scale(1 1.08)" font-size="8.0" fill="#2a2a2a" text-anchor="end">7.5</text>
<text transform="translate(45.30 321.06) scale(1 1.08)" font-size="8.0" fill="#2a2a2a" text-anchor="end">7.7</text>
<text transform="translate(45.30 311.72) scale(1 1.08)" font-size="8.0" fill="#2a2a2a" text-anchor="end">7.9</text>
<text transform="translate(45.30 302.38) scale(1 1.08)" font-size="8.0" fill="#2a2a2a" text-anchor="end">8.1</text>
<text transform="translate(45.30 293.04) scale(1 1.08)" font-size="8.0" fill="#2a2a2a" text-anchor="end">8.3</text>
<text transform="translate(45.30 283.69) scale(1 1.08)" font-size="8.0" fill="#2a2a2a" text-anchor="end">8.5</text>
<text transform="translate(45.30 274.35) scale(1 1.08)" font-size="8.0" fill="#2a2a2a" text-anchor="end">8.7</text>
<text transform="translate(49.20 433.60) scale(1 1.08)" font-size="8.0" fill="#2a2a2a" text-anchor="middle">Jan</text>
<text transform="translate(73.56 433.60) scale(1 1.08)" font-size="8.0" fill="#2a2a2a" text-anchor="middle">Apr</text>
<text transform="translate(98.19 433.60) scale(1 1.08)" font-size="8.0" fill="#2a2a2a" text-anchor="middle">Jul</text>
<text transform="translate(123.10 433.60) scale(1 1.08)" font-size="8.0" fill="#2a2a2a" text-anchor="middle">Oct</text>
<text transform="translate(148.00 433.60) scale(1 1.08)" font-size="8.0" fill="#2a2a2a" text-anchor="middle">Jan</text>
<text transform="translate(167.10 433.60) scale(1 1.08)" font-size="8.0" fill="#2a2a2a" text-anchor="middle">Jan</text>
<text transform="translate(191.46 433.60) scale(1 1.08)" font-size="8.0" fill="#2a2a2a" text-anchor="middle">Apr</text>
<text transform="translate(216.09 433.60) scale(1 1.08)" font-size="8.0" fill="#2a2a2a" text-anchor="middle">Jul</text>
<text transform="translate(241.00 433.60) scale(1 1.08)" font-size="8.0" fill="#2a2a2a" text-anchor="middle">Oct</text>
<text transform="translate(265.90 433.60) scale(1 1.08)" font-size="8.0" fill="#2a2a2a" text-anchor="middle">Jan</text>
<text transform="translate(284.40 433.60) scale(1 1.08)" font-size="8.0" fill="#2a2a2a" text-anchor="middle">Jan</text>
<text transform="translate(308.76 433.60) scale(1 1.08)" font-size="8.0" fill="#2a2a2a" text-anchor="middle">Apr</text>
<text transform="translate(333.39 433.60) scale(1 1.08)" font-size="8.0" fill="#2a2a2a" text-anchor="middle">Jul</text>
<text transform="translate(358.30 433.60) scale(1 1.08)" font-size="8.0" fill="#2a2a2a" text-anchor="middle">Oct</text>
<text transform="translate(383.20 433.60) scale(1 1.08)" font-size="8.0" fill="#2a2a2a" text-anchor="middle">Jan</text>
<text transform="translate(402.50 433.60) scale(1 1.08)" font-size="8.0" fill="#2a2a2a" text-anchor="middle">Jan</text>
<text transform="translate(426.86 433.60) scale(1 1.08)" font-size="8.0" fill="#2a2a2a" text-anchor="middle">Apr</text>
<text transform="translate(451.49 433.60) scale(1 1.08)" font-size="8.0" fill="#2a2a2a" text-anchor="middle">Jul</text>
<text transform="translate(476.40 433.60) scale(1 1.08)" font-size="8.0" fill="#2a2a2a" text-anchor="middle">Oct</text>
<text transform="translate(501.30 433.60) scale(1 1.08)" font-size="8.0" fill="#2a2a2a" text-anchor="middle">Jan</text>
<text transform="translate(45.30 424.65) scale(1 1.08)" font-size="8.0" fill="#2a2a2a" text-anchor="end">0</text>
<text transform="translate(45.30 413.75) scale(1 1.08)" font-size="8.0" fill="#2a2a2a" text-anchor="end">1</text>
<text transform="translate(45.30 402.85) scale(1 1.08)" font-size="8.0" fill="#2a2a2a" text-anchor="end">2</text>
<text transform="translate(45.30 391.95) scale(1 1.08)" font-size="8.0" fill="#2a2a2a" text-anchor="end">3</text>
<text transform="translate(45.30 381.05) scale(1 1.08)" font-size="8.0" fill="#2a2a2a" text-anchor="end">4</text>
<text transform="translate(45.30 370.15) scale(1 1.08)" font-size="8.0" fill="#2a2a2a" text-anchor="end">5</text>
<text transform="translate(45.30 359.25) scale(1 1.08)" font-size="8.0" fill="#2a2a2a" text-anchor="end">6</text>
<text x="98.60" y="13.1" font-size="8.4" font-weight="bold" fill="#111" text-anchor="middle">Gordon Point</text>
<text x="216.50" y="13.1" font-size="8.4" font-weight="bold" fill="#111" text-anchor="middle">West Point</text>
<text x="333.80" y="13.1" font-size="8.4" font-weight="bold" fill="#111" text-anchor="middle">Hood Canal</text>
<text x="451.90" y="13.1" font-size="8.4" font-weight="bold" fill="#111" text-anchor="middle">Saratoga Passage</text>
<text transform="translate(32.30 47.50) rotate(-90)" font-size="8.5" fill="#2a2a2a" text-anchor="middle">Chl (<tspan font-style="italic" dx="0.8" letter-spacing="1.2">μ</tspan>g L<tspan font-size="6.0" dy="-3.4">-1</tspan><tspan dy="3.4">)</tspan></text>
<text transform="translate(23.90 132.90) rotate(-90)" font-size="8.5" fill="#2a2a2a" text-anchor="middle">DIC (<tspan font-style="italic" dx="0.8" letter-spacing="1.2">μ</tspan>mol kg<tspan font-size="6.0" dy="-3.4">-1</tspan><tspan dy="3.4">)</tspan></text>
<text transform="translate(23.30 217.90) rotate(-90)" font-size="8.5" fill="#2a2a2a" text-anchor="middle">TA (<tspan font-style="italic" dx="0.8" letter-spacing="1.2">μ</tspan>mol kg<tspan font-size="6.0" dy="-3.4">-1</tspan><tspan dy="3.4">)</tspan></text>
<text transform="translate(30.10 303.70) rotate(-90)" font-size="8.5" fill="#2a2a2a" text-anchor="middle">pH (total)</text>
<text transform="translate(33.30 389.40) rotate(-90)" font-size="8.5" fill="#2a2a2a" text-anchor="middle">Ω<tspan font-size="6" dy="3.6">A</tspan></text>
<text x="146.1" y="24.4" font-size="7.3" fill="#2a2a2a">Baseline</text>
<text x="146.1" y="34.4" font-size="7.3" fill="#2a2a2a">FW@AmbientC</text>
</g>
</svg></body></html>
